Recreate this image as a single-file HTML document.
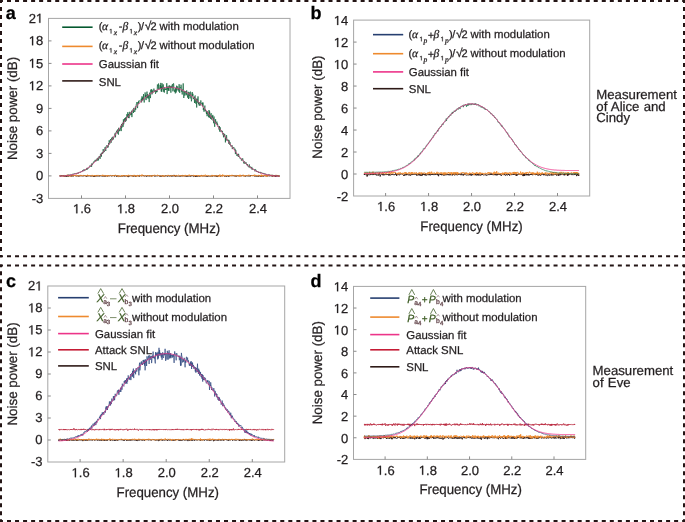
<!DOCTYPE html><html><head><meta charset="utf-8"><style>html,body{margin:0;padding:0;background:#fff;width:685px;height:522px;overflow:hidden}svg{display:block;will-change:transform;filter:blur(0.35px)}text{text-rendering:geometricPrecision}</style></head><body><svg width="685" height="522" viewBox="0 0 685 522">
<rect width="685" height="522" fill="#fff"/>
<line x1="0" y1="1" x2="685" y2="1" stroke="#231414" stroke-width="2" stroke-dasharray="4 4.0375" stroke-dashoffset="-7"/>
<line x1="0" y1="256.3" x2="685" y2="256.3" stroke="#231414" stroke-width="2" stroke-dasharray="4 4.0375" stroke-dashoffset="-7"/>
<line x1="1" y1="1" x2="1" y2="256.3" stroke="#231414" stroke-width="2" stroke-dasharray="4 4" stroke-dashoffset="-6"/>
<line x1="684" y1="1" x2="684" y2="256.3" stroke="#231414" stroke-width="2" stroke-dasharray="4 4" stroke-dashoffset="-6"/>
<rect x="0" y="0" width="2" height="2" fill="#231414"/>
<rect x="683" y="0" width="2" height="2" fill="#231414"/>
<rect x="0" y="255.3" width="2" height="2" fill="#231414"/>
<rect x="683" y="255.3" width="2" height="2" fill="#231414"/>
<line x1="0" y1="265.5" x2="685" y2="265.5" stroke="#231414" stroke-width="2" stroke-dasharray="4 4.0375" stroke-dashoffset="-7"/>
<line x1="0" y1="521" x2="685" y2="521" stroke="#231414" stroke-width="2" stroke-dasharray="4 4.0375" stroke-dashoffset="-7"/>
<line x1="1" y1="265.5" x2="1" y2="521" stroke="#231414" stroke-width="2" stroke-dasharray="4 4" stroke-dashoffset="-5.7"/>
<line x1="684" y1="265.5" x2="684" y2="521" stroke="#231414" stroke-width="2" stroke-dasharray="4 4" stroke-dashoffset="-5.7"/>
<rect x="0" y="264.5" width="2" height="2" fill="#231414"/>
<rect x="683" y="264.5" width="2" height="2" fill="#231414"/>
<rect x="0" y="520" width="2" height="2" fill="#231414"/>
<rect x="683" y="520" width="2" height="2" fill="#231414"/>
<rect x="48.5" y="18.4" width="241.5" height="180" fill="none" stroke="#a6a6a6" stroke-width="1"/>
<text x="43.2" y="202.8" text-anchor="end" style="font-family:'Liberation Sans',sans-serif;font-style:normal;font-weight:normal;font-size:13px;fill:#231f20;stroke:#231f20;stroke-width:0.25px" >-3</text>
<line x1="48.5" y1="175.9" x2="51.5" y2="175.9" stroke="#8a8a8a" stroke-width="1"/>
<text x="43.2" y="180.3" text-anchor="end" style="font-family:'Liberation Sans',sans-serif;font-style:normal;font-weight:normal;font-size:13px;fill:#231f20;stroke:#231f20;stroke-width:0.25px" >0</text>
<line x1="48.5" y1="153.4" x2="51.5" y2="153.4" stroke="#8a8a8a" stroke-width="1"/>
<text x="43.2" y="157.8" text-anchor="end" style="font-family:'Liberation Sans',sans-serif;font-style:normal;font-weight:normal;font-size:13px;fill:#231f20;stroke:#231f20;stroke-width:0.25px" >3</text>
<line x1="48.5" y1="130.9" x2="51.5" y2="130.9" stroke="#8a8a8a" stroke-width="1"/>
<text x="43.2" y="135.3" text-anchor="end" style="font-family:'Liberation Sans',sans-serif;font-style:normal;font-weight:normal;font-size:13px;fill:#231f20;stroke:#231f20;stroke-width:0.25px" >6</text>
<line x1="48.5" y1="108.4" x2="51.5" y2="108.4" stroke="#8a8a8a" stroke-width="1"/>
<text x="43.2" y="112.8" text-anchor="end" style="font-family:'Liberation Sans',sans-serif;font-style:normal;font-weight:normal;font-size:13px;fill:#231f20;stroke:#231f20;stroke-width:0.25px" >9</text>
<line x1="48.5" y1="85.9" x2="51.5" y2="85.9" stroke="#8a8a8a" stroke-width="1"/>
<path d="M515 0L696 0L696 1409L530 1409Q420 1260 197 1180L197 1010Q400 1080 515 1237Z" transform="translate(28.74,90.3) scale(0.00635,-0.00635)" fill="#231f20" stroke="#231f20" stroke-width="0.25" vector-effect="non-scaling-stroke"/>
<text x="35.97" y="90.3" style="font-family:'Liberation Sans',sans-serif;font-style:normal;font-weight:normal;font-size:13px;fill:#231f20;stroke:#231f20;stroke-width:0.25px" >2</text>
<line x1="48.5" y1="63.4" x2="51.5" y2="63.4" stroke="#8a8a8a" stroke-width="1"/>
<path d="M515 0L696 0L696 1409L530 1409Q420 1260 197 1180L197 1010Q400 1080 515 1237Z" transform="translate(28.74,67.8) scale(0.00635,-0.00635)" fill="#231f20" stroke="#231f20" stroke-width="0.25" vector-effect="non-scaling-stroke"/>
<text x="35.97" y="67.8" style="font-family:'Liberation Sans',sans-serif;font-style:normal;font-weight:normal;font-size:13px;fill:#231f20;stroke:#231f20;stroke-width:0.25px" >5</text>
<line x1="48.5" y1="40.9" x2="51.5" y2="40.9" stroke="#8a8a8a" stroke-width="1"/>
<path d="M515 0L696 0L696 1409L530 1409Q420 1260 197 1180L197 1010Q400 1080 515 1237Z" transform="translate(28.74,45.3) scale(0.00635,-0.00635)" fill="#231f20" stroke="#231f20" stroke-width="0.25" vector-effect="non-scaling-stroke"/>
<text x="35.97" y="45.3" style="font-family:'Liberation Sans',sans-serif;font-style:normal;font-weight:normal;font-size:13px;fill:#231f20;stroke:#231f20;stroke-width:0.25px" >8</text>
<text x="28.74" y="22.8" style="font-family:'Liberation Sans',sans-serif;font-style:normal;font-weight:normal;font-size:13px;fill:#231f20;stroke:#231f20;stroke-width:0.25px" >2</text>
<path d="M515 0L696 0L696 1409L530 1409Q420 1260 197 1180L197 1010Q400 1080 515 1237Z" transform="translate(35.97,22.8) scale(0.00635,-0.00635)" fill="#231f20" stroke="#231f20" stroke-width="0.25" vector-effect="non-scaling-stroke"/>
<line x1="81.5" y1="198.4" x2="81.5" y2="195.4" stroke="#8a8a8a" stroke-width="1"/>
<path d="M515 0L696 0L696 1409L530 1409Q420 1260 197 1180L197 1010Q400 1080 515 1237Z" transform="translate(72.96,213.3) scale(0.00635,-0.00635)" fill="#231f20" stroke="#231f20" stroke-width="0.25" vector-effect="non-scaling-stroke"/>
<text x="80.19" y="213.3" style="font-family:'Liberation Sans',sans-serif;font-style:normal;font-weight:normal;font-size:13px;fill:#231f20;stroke:#231f20;stroke-width:0.25px" >.6</text>
<line x1="125.5" y1="198.4" x2="125.5" y2="195.4" stroke="#8a8a8a" stroke-width="1"/>
<path d="M515 0L696 0L696 1409L530 1409Q420 1260 197 1180L197 1010Q400 1080 515 1237Z" transform="translate(116.96,213.3) scale(0.00635,-0.00635)" fill="#231f20" stroke="#231f20" stroke-width="0.25" vector-effect="non-scaling-stroke"/>
<text x="124.19" y="213.3" style="font-family:'Liberation Sans',sans-serif;font-style:normal;font-weight:normal;font-size:13px;fill:#231f20;stroke:#231f20;stroke-width:0.25px" >.8</text>
<line x1="169.5" y1="198.4" x2="169.5" y2="195.4" stroke="#8a8a8a" stroke-width="1"/>
<text x="170" y="213.3" text-anchor="middle" style="font-family:'Liberation Sans',sans-serif;font-style:normal;font-weight:normal;font-size:13px;fill:#231f20;stroke:#231f20;stroke-width:0.25px" >2.0</text>
<line x1="213.5" y1="198.4" x2="213.5" y2="195.4" stroke="#8a8a8a" stroke-width="1"/>
<text x="214" y="213.3" text-anchor="middle" style="font-family:'Liberation Sans',sans-serif;font-style:normal;font-weight:normal;font-size:13px;fill:#231f20;stroke:#231f20;stroke-width:0.25px" >2.2</text>
<line x1="257.5" y1="198.4" x2="257.5" y2="195.4" stroke="#8a8a8a" stroke-width="1"/>
<text x="258" y="213.3" text-anchor="middle" style="font-family:'Liberation Sans',sans-serif;font-style:normal;font-weight:normal;font-size:13px;fill:#231f20;stroke:#231f20;stroke-width:0.25px" >2.4</text>
<text x="169" y="232.5" text-anchor="middle" style="font-family:'Liberation Sans',sans-serif;font-style:normal;font-weight:normal;font-size:13.9px;fill:#231f20;stroke:#231f20;stroke-width:0.25px" textLength="102.4" lengthAdjust="spacingAndGlyphs">Frequency (MHz)</text>
<text transform="translate(16.7,108.45) rotate(-90)" text-anchor="middle" textLength="103.2" lengthAdjust="spacingAndGlyphs" style="font-family:'Liberation Sans',sans-serif;font-size:13.6px;fill:#231f20;stroke:#231f20;stroke-width:0.25px">Noise power (dB)</text>
<text x="5.82" y="19.3" style="font-family:'Liberation Sans',sans-serif;font-style:normal;font-weight:bold;font-size:18px;fill:#000;stroke:#000;stroke-width:0.25px" >a</text>
<polyline points="59.5,175.9 59.8,175.8 60.1,176.0 60.3,176.2 60.6,176.1 60.9,176.3 61.2,175.9 61.4,175.4 61.7,176.1 62,176.1 62.3,175.7 62.5,175.8 62.8,175.9 63.1,176.2 63.4,175.9 63.6,175.6 63.9,176.4 64.2,176.1 64.5,176.6 64.7,176.4 65,176.6 65.3,176.0 65.6,176.4 65.8,175.8 66.1,175.8 66.4,176.0 66.7,176.8 66.9,176.1 67.2,175.9 67.5,175.9 67.8,176.5 68,176.1 68.3,176.3 68.6,176.2 68.9,175.5 69.1,176.2 69.4,175.9 69.7,175.6 70,176.1 70.2,175.9 70.5,175.9 70.8,175.9 71.1,176.4 71.3,175.9 71.6,175.4 71.9,176.5 72.2,175.6 72.4,175.9 72.7,176.1 73,175.1 73.3,175.6 73.5,176.3 73.8,175.9 74.1,175.7 74.4,176.0 74.6,175.6 74.9,175.9 75.2,175.6 75.5,175.4 75.7,176.2 76,175.8 76.3,176.1 76.6,175.9 76.8,176.3 77.1,176.1 77.4,176.0 77.7,175.6 77.9,175.5 78.2,176.4 78.5,176.2 78.8,175.7 79,176.6 79.3,176.1 79.6,175.9 79.9,175.4 80.2,175.6 80.4,176.0 80.7,176.0 81,176.0 81.3,175.3 81.5,176.1 81.8,176.0 82.1,175.8 82.4,175.9 82.6,176.0 82.9,176.3 83.2,175.9 83.5,176.1 83.7,175.5 84,175.7 84.3,175.9 84.6,175.6 84.8,176.0 85.1,175.5 85.4,175.9 85.7,175.7 85.9,176.4 86.2,175.8 86.5,176.5 86.8,176.7 87,176.0 87.3,176.2 87.6,175.8 87.9,175.1 88.1,176.2 88.4,176.1 88.7,175.8 89,175.7 89.2,176.0 89.5,176.0 89.8,175.6 90.1,175.7 90.3,176.3 90.6,175.9 90.9,175.9 91.2,176.3 91.4,175.8 91.7,176.2 92,175.5 92.3,175.8 92.5,175.9 92.8,176.1 93.1,175.9 93.4,176.6 93.6,176.3 93.9,175.8 94.2,176.7 94.5,175.6 94.7,176.6 95,175.6 95.3,176.2 95.6,175.6 95.8,175.9 96.1,176.5 96.4,175.4 96.7,175.4 96.9,175.9 97.2,176.0 97.5,176.0 97.8,176.3 98,175.5 98.3,176.1 98.6,175.9 98.9,176.2 99.1,176.1 99.4,176.4 99.7,175.4 100,176.0 100.3,175.5 100.5,175.9 100.8,176.2 101.1,176.0 101.4,176.1 101.6,175.9 101.9,176.0 102.2,176.0 102.5,176.4 102.7,176.2 103,175.3 103.3,176.2 103.6,176.3 103.8,175.8 104.1,175.4 104.4,176.4 104.7,176.0 104.9,176.1 105.2,176.6 105.5,175.6 105.8,175.9 106,175.9 106.3,176.2 106.6,175.7 106.9,176.1 107.1,176.0 107.4,176.3 107.7,176.4 108,175.4 108.2,176.1 108.5,175.8 108.8,175.9 109.1,176.1 109.3,176.1 109.6,175.7 109.9,176.0 110.2,176.0 110.4,175.9 110.7,175.5 111,175.6 111.3,175.8 111.5,176.1 111.8,176.4 112.1,175.5 112.4,175.5 112.6,176.0 112.9,175.7 113.2,175.6 113.5,175.6 113.7,175.6 114,176.1 114.3,175.3 114.6,176.4 114.8,175.6 115.1,175.7 115.4,175.6 115.7,175.2 115.9,175.3 116.2,176.3 116.5,176.5 116.8,175.6 117,176.3 117.3,175.9 117.6,175.6 117.9,176.5 118.1,176.7 118.4,175.8 118.7,175.9 119,176.0 119.2,175.9 119.5,176.2 119.8,176.5 120.1,176.0 120.4,176.3 120.6,176.5 120.9,175.7 121.2,175.9 121.5,175.7 121.7,176.3 122,176.1 122.3,176.3 122.6,176.2 122.8,175.8 123.1,176.2 123.4,175.8 123.7,175.8 123.9,175.1 124.2,176.4 124.5,175.6 124.8,175.9 125,175.9 125.3,176.4 125.6,176.1 125.9,175.6 126.1,175.9 126.4,175.9 126.7,176.0 127,175.5 127.2,175.9 127.5,176.7 127.8,176.2 128.1,176.6 128.3,177.1 128.6,176.1 128.9,175.4 129.2,175.9 129.4,176.3 129.7,176.3 130,175.5 130.3,175.8 130.5,175.9 130.8,175.9 131.1,175.9 131.4,175.6 131.6,175.7 131.9,175.8 132.2,176.3 132.5,175.7 132.7,176.2 133,175.5 133.3,176.4 133.6,176.0 133.8,175.9 134.1,176.4 134.4,175.3 134.7,175.4 134.9,176.1 135.2,175.6 135.5,175.8 135.8,176.9 136,175.8 136.3,175.9 136.6,175.9 136.9,176.3 137.1,176.0 137.4,176.0 137.7,175.5 138,175.8 138.2,175.9 138.5,175.3 138.8,176.1 139.1,176.0 139.3,176.6 139.6,175.3 139.9,175.5 140.2,175.6 140.5,175.6 140.7,175.9 141,175.8 141.3,176.0 141.6,176.0 141.8,175.9 142.1,175.3 142.4,175.7 142.7,175.9 142.9,176.1 143.2,176.1 143.5,175.3 143.8,175.7 144,175.9 144.3,176.0 144.6,176.3 144.9,175.9 145.1,175.6 145.4,176.0 145.7,176.0 146,176.0 146.2,175.9 146.5,176.5 146.8,176.0 147.1,176.2 147.3,175.6 147.6,176.2 147.9,175.7 148.2,175.3 148.4,176.0 148.7,176.1 149,175.8 149.3,175.9 149.5,176.3 149.8,175.7 150.1,175.1 150.4,176.0 150.6,176.0 150.9,176.3 151.2,175.8 151.5,176.4 151.7,176.3 152,175.4 152.3,176.2 152.6,175.5 152.8,175.3 153.1,175.8 153.4,175.7 153.7,175.2 153.9,176.0 154.2,176.1 154.5,176.4 154.8,175.9 155,175.3 155.3,175.5 155.6,176.3 155.9,176.2 156.1,176.1 156.4,175.8 156.7,176.0 157,175.8 157.2,175.8 157.5,176.0 157.8,175.9 158.1,175.8 158.3,175.9 158.6,175.7 158.9,175.2 159.2,175.7 159.4,175.9 159.7,176.5 160,175.8 160.3,176.6 160.6,176.4 160.8,175.6 161.1,175.6 161.4,176.0 161.7,176.5 161.9,176.0 162.2,176.2 162.5,175.7 162.8,175.1 163,175.8 163.3,176.2 163.6,176.3 163.9,175.9 164.1,176.0 164.4,176.3 164.7,175.9 165,176.3 165.2,175.5 165.5,175.5 165.8,175.5 166.1,176.1 166.3,175.7 166.6,175.9 166.9,176.0 167.2,176.0 167.4,176.4 167.7,176.4 168,175.6 168.3,176.0 168.5,175.8 168.8,175.5 169.1,176.5 169.4,176.2 169.6,175.8 169.9,175.8 170.2,176.0 170.5,175.5 170.7,175.8 171,176.4 171.3,176.2 171.6,175.6 171.8,175.7 172.1,176.6 172.4,175.4 172.7,175.7 172.9,175.4 173.2,176.0 173.5,176.0 173.8,176.3 174,174.9 174.3,176.0 174.6,175.3 174.9,176.1 175.1,175.8 175.4,176.5 175.7,176.0 176,175.5 176.2,176.4 176.5,175.5 176.8,175.8 177.1,176.3 177.3,176.1 177.6,176.1 177.9,175.9 178.2,176.1 178.4,176.2 178.7,176.0 179,176.3 179.3,176.4 179.6,175.9 179.8,175.6 180.1,176.5 180.4,175.9 180.7,176.1 180.9,176.3 181.2,175.6 181.5,176.1 181.8,175.3 182,176.2 182.3,175.8 182.6,176.0 182.9,176.2 183.1,175.7 183.4,176.0 183.7,175.7 184,175.9 184.2,176.3 184.5,175.9 184.8,175.9 185.1,175.5 185.3,176.2 185.6,175.9 185.9,176.5 186.2,175.7 186.4,176.3 186.7,176.6 187,175.9 187.3,175.5 187.5,176.5 187.8,176.3 188.1,176.2 188.4,176.3 188.6,175.8 188.9,176.2 189.2,176.2 189.5,175.7 189.7,176.2 190,175.7 190.3,176.3 190.6,176.4 190.8,176.6 191.1,175.2 191.4,176.0 191.7,175.8 191.9,175.9 192.2,175.8 192.5,175.9 192.8,175.2 193,176.3 193.3,176.5 193.6,176.3 193.9,176.4 194.1,175.6 194.4,175.6 194.7,176.3 195,176.4 195.2,176.0 195.5,175.4 195.8,177.0 196.1,175.7 196.3,176.3 196.6,175.5 196.9,176.3 197.2,176.0 197.4,176.5 197.7,176.3 198,175.4 198.3,175.6 198.5,176.1 198.8,176.2 199.1,176.6 199.4,176.0 199.7,175.9 199.9,175.9 200.2,175.9 200.5,176.3 200.8,175.9 201,175.9 201.3,175.4 201.6,175.2 201.9,176.0 202.1,176.2 202.4,175.9 202.7,176.1 203,176.2 203.2,175.9 203.5,176.3 203.8,175.7 204.1,175.9 204.3,175.8 204.6,176.0 204.9,176.2 205.2,176.3 205.4,176.0 205.7,176.1 206,175.8 206.3,175.9 206.5,176.4 206.8,175.9 207.1,176.4 207.4,176.1 207.6,176.0 207.9,176.7 208.2,175.9 208.5,175.8 208.7,176.0 209,176.1 209.3,176.0 209.6,176.3 209.8,176.0 210.1,176.1 210.4,175.9 210.7,176.4 210.9,175.8 211.2,175.8 211.5,176.0 211.8,176.1 212,175.7 212.3,176.5 212.6,175.7 212.9,175.8 213.1,175.8 213.4,175.8 213.7,176.1 214,176.0 214.2,175.7 214.5,175.7 214.8,175.8 215.1,176.5 215.3,175.7 215.6,175.5 215.9,175.5 216.2,175.8 216.4,176.5 216.7,175.5 217,176.0 217.3,176.8 217.5,175.8 217.8,176.5 218.1,176.4 218.4,176.1 218.6,175.4 218.9,176.0 219.2,175.8 219.5,175.2 219.8,175.3 220,175.9 220.3,176.0 220.6,176.4 220.9,176.2 221.1,175.7 221.4,175.8 221.7,175.9 222,175.5 222.2,176.2 222.5,175.9 222.8,175.6 223.1,175.7 223.3,175.5 223.6,175.8 223.9,176.0 224.2,175.8 224.4,176.3 224.7,176.5 225,175.7 225.3,175.9 225.5,175.8 225.8,176.5 226.1,176.0 226.4,176.1 226.6,176.2 226.9,176.7 227.2,176.0 227.5,175.6 227.7,175.8 228,176.1 228.3,175.9 228.6,175.6 228.8,176.9 229.1,175.9 229.4,175.7 229.7,175.6 229.9,175.3 230.2,175.5 230.5,175.8 230.8,175.8 231,175.6 231.3,176.1 231.6,175.9 231.9,175.6 232.1,175.2 232.4,176.0 232.7,175.9 233,175.8 233.2,175.4 233.5,175.9 233.8,175.3 234.1,176.3 234.3,176.0 234.6,176.0 234.9,175.6 235.2,175.5 235.4,176.5 235.7,176.2 236,175.8 236.3,176.1 236.5,176.5 236.8,175.5 237.1,175.7 237.4,175.7 237.6,176.1 237.9,175.5 238.2,176.0 238.5,175.5 238.7,176.2 239,176.2 239.3,175.8 239.6,176.2 239.9,175.6 240.1,175.8 240.4,176.2 240.7,175.9 241,176.0 241.2,175.6 241.5,176.1 241.8,176.1 242.1,175.4 242.3,175.1 242.6,175.2 242.9,175.9 243.2,175.8 243.4,175.3 243.7,175.9 244,176.3 244.3,175.9 244.5,175.7 244.8,176.2 245.1,176.5 245.4,176.4 245.6,175.7 245.9,176.2 246.2,176.0 246.5,175.8 246.7,175.7 247,176.0 247.3,175.7 247.6,176.2 247.8,176.0 248.1,176.3 248.4,175.5 248.7,175.9 248.9,176.2 249.2,176.0 249.5,176.0 249.8,175.6 250,176.5 250.3,176.3 250.6,176.0 250.9,175.0 251.1,175.5 251.4,175.9 251.7,175.6 252,175.1 252.2,176.0 252.5,176.0 252.8,175.4 253.1,175.7 253.3,175.6 253.6,176.1 253.9,175.2 254.2,175.3 254.4,175.7 254.7,175.6 255,176.7 255.3,175.7 255.5,176.0 255.8,175.7 256.1,175.6 256.4,176.0 256.6,176.5 256.9,175.8 257.2,176.2 257.5,176.0 257.7,176.1 258,176.0 258.3,176.8 258.6,175.4 258.8,175.8 259.1,175.5 259.4,175.2 259.7,175.9 260,176.6 260.2,176.2 260.5,176.4 260.8,176.1 261.1,175.9 261.3,176.7 261.6,175.8 261.9,176.5 262.2,175.8 262.4,175.9 262.7,176.0 263,175.9 263.3,176.1 263.5,176.1 263.8,176.5 264.1,175.9 264.4,175.2 264.6,175.2 264.9,175.4 265.2,175.6 265.5,176.2 265.7,175.4 266,175.9 266.3,175.9 266.6,176.0 266.8,175.9 267.1,176.1 267.4,175.9 267.7,176.3 267.9,176.0 268.2,175.0 268.5,175.9 268.8,176.0 269,175.7 269.3,175.6 269.6,176.3 269.9,176.0 270.1,175.6 270.4,175.8 270.7,175.9 271,175.3 271.2,176.2 271.5,175.9 271.8,176.1 272.1,175.3 272.3,176.6 272.6,176.2 272.9,176.1 273.2,175.7 273.4,175.7 273.7,175.4 274,176.5 274.3,175.6 274.5,176.0 274.8,176.1 275.1,175.7 275.4,176.2 275.6,176.7 275.9,176.0 276.2,176.5 276.5,176.1 276.7,175.8 277,175.8 277.3,175.3 277.6,176.0 277.8,176.5 278.1,176.2 278.4,176.2 278.7,176.4 278.9,175.7 279.2,176.1 279.5,176.6" fill="none" stroke="#2e1a17" stroke-width="0.9" stroke-linejoin="round" opacity="1.0"/>
<polyline points="59.5,175.4 59.8,175.7 60.1,175.5 60.3,175.6 60.6,175.4 60.9,175.7 61.2,175.2 61.4,175.5 61.7,175.5 62,175.5 62.3,176.2 62.5,175.7 62.8,175.8 63.1,175.6 63.4,176.2 63.6,175.1 63.9,175.6 64.2,176.1 64.5,176.3 64.7,175.8 65,175.7 65.3,175.9 65.6,175.6 65.8,175.9 66.1,175.5 66.4,175.9 66.7,175.7 66.9,175.3 67.2,174.7 67.5,176.1 67.8,175.8 68,176.0 68.3,175.4 68.6,176.1 68.9,175.9 69.1,175.7 69.4,176.0 69.7,176.0 70,175.9 70.2,176.5 70.5,176.2 70.8,175.8 71.1,175.6 71.3,175.7 71.6,176.3 71.9,175.8 72.2,175.4 72.4,175.5 72.7,175.7 73,176.0 73.3,175.4 73.5,175.9 73.8,176.1 74.1,176.0 74.4,175.1 74.6,175.6 74.9,175.2 75.2,175.9 75.5,175.3 75.7,175.9 76,175.7 76.3,174.7 76.6,175.4 76.8,175.9 77.1,175.7 77.4,175.6 77.7,175.2 77.9,175.9 78.2,176.3 78.5,175.8 78.8,175.7 79,175.6 79.3,175.2 79.6,175.6 79.9,175.4 80.2,176.1 80.4,175.3 80.7,174.9 81,175.4 81.3,175.6 81.5,175.6 81.8,175.0 82.1,176.0 82.4,175.7 82.6,175.5 82.9,175.4 83.2,175.8 83.5,175.6 83.7,175.8 84,175.6 84.3,175.7 84.6,176.1 84.8,175.7 85.1,175.3 85.4,176.0 85.7,175.8 85.9,175.4 86.2,176.1 86.5,175.6 86.8,176.1 87,175.2 87.3,174.8 87.6,174.9 87.9,175.8 88.1,175.4 88.4,175.6 88.7,175.6 89,175.1 89.2,176.2 89.5,175.3 89.8,175.7 90.1,175.1 90.3,175.6 90.6,175.9 90.9,175.6 91.2,175.4 91.4,175.7 91.7,175.5 92,175.9 92.3,176.5 92.5,175.3 92.8,175.4 93.1,175.6 93.4,175.6 93.6,175.3 93.9,175.8 94.2,175.9 94.5,175.7 94.7,175.2 95,176.2 95.3,175.2 95.6,175.9 95.8,176.1 96.1,175.2 96.4,175.7 96.7,176.2 96.9,175.8 97.2,175.3 97.5,175.2 97.8,175.8 98,175.5 98.3,175.4 98.6,175.9 98.9,175.5 99.1,175.7 99.4,175.9 99.7,175.9 100,175.6 100.3,175.7 100.5,175.9 100.8,175.8 101.1,175.3 101.4,175.6 101.6,175.3 101.9,175.2 102.2,175.5 102.5,174.8 102.7,176.0 103,175.4 103.3,175.8 103.6,175.0 103.8,175.0 104.1,176.4 104.4,176.0 104.7,175.4 104.9,175.4 105.2,175.4 105.5,175.7 105.8,175.5 106,175.4 106.3,175.7 106.6,175.3 106.9,176.5 107.1,175.4 107.4,176.1 107.7,175.3 108,175.8 108.2,176.0 108.5,175.5 108.8,176.0 109.1,176.0 109.3,176.3 109.6,175.7 109.9,175.5 110.2,175.3 110.4,175.7 110.7,175.3 111,175.7 111.3,175.7 111.5,175.5 111.8,175.3 112.1,175.8 112.4,175.8 112.6,175.7 112.9,175.6 113.2,176.0 113.5,175.3 113.7,175.8 114,175.5 114.3,176.0 114.6,175.5 114.8,175.5 115.1,175.8 115.4,174.9 115.7,175.5 115.9,175.0 116.2,175.3 116.5,175.9 116.8,175.8 117,175.5 117.3,175.7 117.6,175.7 117.9,175.8 118.1,176.4 118.4,175.8 118.7,176.5 119,175.5 119.2,175.9 119.5,175.9 119.8,175.8 120.1,175.6 120.4,176.2 120.6,176.3 120.9,176.1 121.2,176.4 121.5,176.0 121.7,175.1 122,176.1 122.3,175.4 122.6,176.2 122.8,175.6 123.1,175.8 123.4,175.7 123.7,175.5 123.9,175.0 124.2,175.6 124.5,175.6 124.8,176.0 125,175.5 125.3,175.8 125.6,175.4 125.9,175.7 126.1,175.0 126.4,176.4 126.7,175.8 127,175.3 127.2,175.8 127.5,176.0 127.8,175.8 128.1,176.2 128.3,175.6 128.6,174.8 128.9,175.2 129.2,176.1 129.4,176.0 129.7,175.8 130,175.3 130.3,176.0 130.5,175.9 130.8,175.3 131.1,175.4 131.4,175.8 131.6,176.1 131.9,176.3 132.2,175.9 132.5,176.5 132.7,175.4 133,175.9 133.3,175.5 133.6,175.0 133.8,175.2 134.1,176.1 134.4,175.3 134.7,175.2 134.9,176.0 135.2,176.0 135.5,175.7 135.8,176.3 136,175.1 136.3,176.6 136.6,176.1 136.9,175.8 137.1,175.8 137.4,175.6 137.7,175.6 138,175.8 138.2,175.2 138.5,176.5 138.8,175.7 139.1,175.9 139.3,175.6 139.6,175.6 139.9,176.0 140.2,175.9 140.5,175.4 140.7,175.5 141,175.9 141.3,174.9 141.6,174.8 141.8,176.2 142.1,175.6 142.4,174.7 142.7,175.4 142.9,175.6 143.2,175.8 143.5,175.9 143.8,175.8 144,175.9 144.3,175.4 144.6,175.8 144.9,175.8 145.1,176.1 145.4,175.7 145.7,176.0 146,175.7 146.2,175.3 146.5,175.5 146.8,175.5 147.1,175.5 147.3,175.7 147.6,175.7 147.9,175.8 148.2,175.4 148.4,176.1 148.7,175.2 149,175.7 149.3,176.0 149.5,175.9 149.8,175.9 150.1,175.6 150.4,175.9 150.6,175.2 150.9,176.0 151.2,176.5 151.5,175.9 151.7,176.4 152,175.7 152.3,175.3 152.6,175.4 152.8,176.2 153.1,176.0 153.4,175.0 153.7,175.6 153.9,175.7 154.2,175.3 154.5,174.8 154.8,175.2 155,175.6 155.3,175.5 155.6,175.4 155.9,175.9 156.1,176.1 156.4,175.7 156.7,176.0 157,175.7 157.2,175.6 157.5,174.8 157.8,176.0 158.1,175.7 158.3,175.7 158.6,175.5 158.9,175.3 159.2,175.9 159.4,176.0 159.7,176.3 160,176.0 160.3,175.5 160.6,175.7 160.8,176.1 161.1,175.8 161.4,175.7 161.7,175.5 161.9,175.9 162.2,175.8 162.5,176.4 162.8,176.1 163,175.1 163.3,176.5 163.6,175.8 163.9,175.6 164.1,175.8 164.4,176.0 164.7,175.7 165,175.7 165.2,175.7 165.5,176.4 165.8,175.7 166.1,176.0 166.3,175.9 166.6,175.6 166.9,175.4 167.2,175.3 167.4,175.9 167.7,175.3 168,175.2 168.3,175.2 168.5,175.2 168.8,175.7 169.1,175.7 169.4,175.4 169.6,176.2 169.9,175.6 170.2,175.9 170.5,175.8 170.7,176.3 171,176.0 171.3,175.7 171.6,175.3 171.8,175.3 172.1,175.7 172.4,175.7 172.7,176.0 172.9,175.5 173.2,175.8 173.5,175.4 173.8,175.0 174,175.7 174.3,176.2 174.6,176.0 174.9,176.2 175.1,176.1 175.4,175.2 175.7,175.6 176,176.2 176.2,175.4 176.5,175.2 176.8,175.8 177.1,175.9 177.3,175.8 177.6,175.6 177.9,175.4 178.2,175.2 178.4,175.2 178.7,175.2 179,175.2 179.3,175.4 179.6,176.2 179.8,175.7 180.1,175.6 180.4,175.8 180.7,175.3 180.9,175.8 181.2,176.0 181.5,175.1 181.8,175.4 182,175.6 182.3,175.3 182.6,175.3 182.9,175.5 183.1,176.6 183.4,175.9 183.7,175.8 184,176.0 184.2,175.6 184.5,175.2 184.8,175.9 185.1,176.1 185.3,174.9 185.6,175.8 185.9,176.1 186.2,175.6 186.4,175.5 186.7,175.9 187,175.4 187.3,175.9 187.5,176.0 187.8,175.6 188.1,175.4 188.4,175.9 188.6,175.6 188.9,175.7 189.2,174.6 189.5,175.9 189.7,175.2 190,175.7 190.3,175.7 190.6,175.4 190.8,175.3 191.1,175.2 191.4,175.6 191.7,175.9 191.9,175.9 192.2,175.5 192.5,175.5 192.8,175.2 193,175.5 193.3,175.3 193.6,175.1 193.9,175.6 194.1,176.2 194.4,176.1 194.7,176.2 195,175.1 195.2,176.0 195.5,175.2 195.8,175.5 196.1,175.0 196.3,175.3 196.6,175.7 196.9,175.8 197.2,175.6 197.4,175.6 197.7,175.9 198,175.7 198.3,175.1 198.5,176.3 198.8,175.6 199.1,176.0 199.4,175.6 199.7,175.4 199.9,175.7 200.2,175.4 200.5,176.3 200.8,175.3 201,175.9 201.3,175.4 201.6,175.6 201.9,176.6 202.1,176.0 202.4,175.6 202.7,175.1 203,175.6 203.2,175.6 203.5,176.2 203.8,175.1 204.1,175.0 204.3,175.7 204.6,175.8 204.9,176.3 205.2,175.3 205.4,174.7 205.7,175.4 206,175.2 206.3,175.5 206.5,176.0 206.8,175.2 207.1,176.1 207.4,175.8 207.6,175.6 207.9,175.3 208.2,175.5 208.5,175.5 208.7,176.0 209,176.2 209.3,175.7 209.6,175.9 209.8,176.2 210.1,176.1 210.4,175.9 210.7,176.4 210.9,176.2 211.2,176.3 211.5,175.6 211.8,175.5 212,174.9 212.3,176.2 212.6,175.9 212.9,175.3 213.1,175.8 213.4,175.8 213.7,175.0 214,175.8 214.2,176.1 214.5,176.2 214.8,175.5 215.1,175.6 215.3,176.2 215.6,176.0 215.9,175.5 216.2,175.5 216.4,175.9 216.7,175.4 217,175.5 217.3,176.3 217.5,175.8 217.8,175.5 218.1,175.9 218.4,176.5 218.6,175.8 218.9,175.4 219.2,175.1 219.5,176.5 219.8,174.7 220,176.1 220.3,175.3 220.6,175.2 220.9,175.3 221.1,175.6 221.4,176.1 221.7,175.4 222,175.9 222.2,176.6 222.5,174.6 222.8,175.4 223.1,175.0 223.3,176.0 223.6,175.1 223.9,175.1 224.2,175.1 224.4,175.7 224.7,176.1 225,175.7 225.3,176.5 225.5,176.3 225.8,175.6 226.1,176.0 226.4,175.7 226.6,175.7 226.9,175.0 227.2,175.2 227.5,175.7 227.7,175.2 228,176.0 228.3,175.8 228.6,175.3 228.8,176.1 229.1,175.8 229.4,176.2 229.7,175.6 229.9,175.1 230.2,176.0 230.5,175.6 230.8,176.0 231,176.1 231.3,176.1 231.6,175.1 231.9,174.8 232.1,175.5 232.4,175.9 232.7,175.4 233,175.8 233.2,175.4 233.5,175.6 233.8,175.6 234.1,175.4 234.3,175.9 234.6,175.8 234.9,176.3 235.2,175.8 235.4,176.2 235.7,175.7 236,176.0 236.3,175.6 236.5,175.5 236.8,176.2 237.1,176.0 237.4,176.0 237.6,175.4 237.9,175.0 238.2,175.4 238.5,175.8 238.7,175.1 239,176.2 239.3,175.1 239.6,175.9 239.9,176.7 240.1,174.7 240.4,175.1 240.7,176.1 241,175.6 241.2,175.8 241.5,175.6 241.8,176.2 242.1,175.9 242.3,175.5 242.6,175.6 242.9,175.2 243.2,175.6 243.4,174.8 243.7,175.9 244,175.6 244.3,176.4 244.5,176.1 244.8,175.2 245.1,176.0 245.4,175.5 245.6,175.7 245.9,176.1 246.2,175.8 246.5,175.9 246.7,175.9 247,175.4 247.3,175.4 247.6,175.9 247.8,176.0 248.1,175.6 248.4,175.7 248.7,175.3 248.9,174.7 249.2,175.4 249.5,175.7 249.8,175.7 250,176.0 250.3,176.0 250.6,176.1 250.9,175.8 251.1,175.8 251.4,175.4 251.7,175.8 252,175.7 252.2,176.1 252.5,175.1 252.8,175.5 253.1,175.0 253.3,175.4 253.6,175.1 253.9,175.8 254.2,175.4 254.4,174.7 254.7,176.1 255,175.2 255.3,175.0 255.5,175.5 255.8,175.4 256.1,175.2 256.4,175.9 256.6,175.5 256.9,176.0 257.2,175.9 257.5,175.9 257.7,175.7 258,175.6 258.3,175.5 258.6,176.2 258.8,174.9 259.1,175.2 259.4,175.4 259.7,175.8 260,175.7 260.2,175.5 260.5,175.5 260.8,176.3 261.1,175.4 261.3,174.6 261.6,176.4 261.9,175.3 262.2,175.5 262.4,175.7 262.7,175.1 263,176.1 263.3,175.6 263.5,175.1 263.8,175.8 264.1,175.8 264.4,175.6 264.6,175.8 264.9,175.1 265.2,176.0 265.5,175.3 265.7,176.2 266,175.4 266.3,175.7 266.6,176.7 266.8,175.7 267.1,176.1 267.4,175.8 267.7,175.1 267.9,176.1 268.2,176.1 268.5,175.1 268.8,175.6 269,175.1 269.3,175.6 269.6,176.0 269.9,175.7 270.1,175.2 270.4,175.3 270.7,175.7 271,175.7 271.2,175.7 271.5,175.9 271.8,174.9 272.1,175.7 272.3,176.1 272.6,175.9 272.9,175.4 273.2,175.4 273.4,175.7 273.7,175.9 274,175.7 274.3,176.3 274.5,176.2 274.8,175.4 275.1,175.9 275.4,175.5 275.6,175.2 275.9,175.4 276.2,175.7 276.5,174.9 276.7,175.4 277,175.8 277.3,175.4 277.6,175.5 277.8,176.0 278.1,175.6 278.4,175.7 278.7,176.4 278.9,175.7 279.2,175.8 279.5,175.8" fill="none" stroke="#ee8a2e" stroke-width="0.9" stroke-linejoin="round" opacity="1.0"/>
<polyline points="59.5,176.1 59.8,175.9 60.1,175.8 60.4,175.8 60.8,176.0 61.1,175.7 61.4,175.9 61.7,175.8 62,175.5 62.3,175.8 62.6,175.7 63,175.5 63.3,175.7 63.6,175.6 63.9,175.5 64.2,175.4 64.5,175.9 64.9,175.6 65.2,175.6 65.5,175.6 65.8,175.5 66.1,175.5 66.4,175.2 66.7,175.5 67.1,175.2 67.4,175.1 67.7,175.3 68,175.1 68.3,174.7 68.6,174.9 68.9,175.1 69.3,174.9 69.6,175.1 69.9,174.8 70.2,174.6 70.5,174.9 70.8,174.7 71.1,174.3 71.5,174.7 71.8,174.4 72.1,174.7 72.4,174.6 72.7,174.4 73,173.7 73.3,174.3 73.7,174.2 74,174.2 74.3,174.0 74.6,173.6 74.9,173.7 75.2,173.1 75.6,173.5 75.9,173.0 76.2,173.3 76.5,173.1 76.8,173.8 77.1,173.1 77.4,173.0 77.8,173.0 78.1,173.7 78.4,172.4 78.7,172.7 79,172.6 79.3,172.4 79.6,172.3 80,171.9 80.3,172.6 80.6,172.3 80.9,171.5 81.2,171.5 81.5,171.6 81.8,171.5 82.2,171.6 82.5,171.0 82.8,170.2 83.1,171.2 83.4,169.7 83.7,169.8 84,170.4 84.4,169.5 84.7,170.7 85,170.7 85.3,170.3 85.6,169.5 85.9,169.2 86.3,169.2 86.6,168.5 86.9,170.0 87.2,167.8 87.5,169.1 87.8,168.3 88.1,167.8 88.5,168.2 88.8,168.2 89.1,167.7 89.4,166.5 89.7,165.8 90,165.6 90.3,166.7 90.7,166.3 91,166.2 91.3,164.6 91.6,166.8 91.9,163.4 92.2,164.7 92.5,164.7 92.9,163.3 93.2,162.4 93.5,162.7 93.8,161.7 94.1,162.2 94.4,161.0 94.8,160.6 95.1,161.5 95.4,159.8 95.7,160.6 96,160.3 96.3,161.2 96.6,160.1 97,158.6 97.3,160.7 97.6,158.1 97.9,158.0 98.2,157.7 98.5,160.4 98.8,157.4 99.2,156.2 99.5,157.5 99.8,156.0 100.1,158.9 100.4,154.6 100.7,155.8 101,153.6 101.4,156.7 101.7,153.0 102,153.7 102.3,152.0 102.6,153.9 102.9,153.0 103.2,149.1 103.6,152.5 103.9,151.9 104.2,150.9 104.5,151.6 104.8,148.2 105.1,147.1 105.5,149.8 105.8,151.0 106.1,146.4 106.4,146.0 106.7,145.9 107,145.1 107.3,147.5 107.7,145.9 108,147.5 108.3,147.1 108.6,143.0 108.9,145.0 109.2,140.3 109.5,142.8 109.9,143.6 110.2,140.9 110.5,139.1 110.8,140.4 111.1,142.8 111.4,139.7 111.7,137.7 112.1,140.2 112.4,140.2 112.7,136.8 113,137.7 113.3,139.5 113.6,137.7 113.9,137.9 114.3,135.6 114.6,135.4 114.9,133.3 115.2,133.5 115.5,137.3 115.8,133.0 116.2,131.8 116.5,132.0 116.8,130.6 117.1,133.0 117.4,133.4 117.7,129.4 118,132.7 118.4,134.6 118.7,127.8 119,130.6 119.3,129.3 119.6,131.2 119.9,130.6 120.2,129.8 120.6,127.6 120.9,125.7 121.2,131.1 121.5,124.1 121.8,127.7 122.1,127.0 122.4,122.8 122.8,123.8 123.1,126.8 123.4,119.3 123.7,124.3 124,121.4 124.3,121.0 124.7,118.3 125,121.7 125.3,118.2 125.6,121.5 125.9,117.1 126.2,120.7 126.5,119.3 126.9,114.2 127.2,116.9 127.5,116.9 127.8,112.2 128.1,115.6 128.4,118.0 128.7,114.0 129.1,118.2 129.4,112.3 129.7,111.8 130,115.4 130.3,115.1 130.6,112.7 130.9,112.6 131.3,114.9 131.6,110.7 131.9,117.1 132.2,112.3 132.5,111.8 132.8,111.1 133.1,109.3 133.5,113.0 133.8,107.9 134.1,109.3 134.4,110.3 134.7,112.0 135,111.1 135.4,106.6 135.7,109.8 136,106.5 136.3,103.9 136.6,103.6 136.9,102.1 137.2,106.2 137.6,108.1 137.9,102.3 138.2,103.6 138.5,101.3 138.8,103.6 139.1,100.5 139.4,101.0 139.8,101.0 140.1,101.1 140.4,101.1 140.7,101.2 141,100.9 141.3,98.7 141.6,102.4 142,96.3 142.3,100.5 142.6,97.5 142.9,99.9 143.2,100.1 143.5,94.1 143.8,99.7 144.2,102.5 144.5,100.5 144.8,99.0 145.1,92.4 145.4,96.9 145.7,94.8 146.1,100.1 146.4,95.8 146.7,94.7 147,91.6 147.3,98.2 147.6,94.1 147.9,94.7 148.3,98.5 148.6,95.0 148.9,95.6 149.2,102.1 149.5,92.8 149.8,92.7 150.1,95.3 150.5,98.1 150.8,89.6 151.1,92.5 151.4,90.4 151.7,89.2 152,94.4 152.3,90.3 152.7,93.1 153,92.3 153.3,92.2 153.6,91.7 153.9,88.6 154.2,91.1 154.6,91.7 154.9,92.0 155.2,90.0 155.5,93.8 155.8,92.3 156.1,90.6 156.4,92.2 156.8,90.5 157.1,92.1 157.4,84.5 157.7,86.2 158,88.4 158.3,89.6 158.6,83.5 159,88.4 159.3,89.4 159.6,88.2 159.9,88.1 160.2,85.0 160.5,88.7 160.8,82.9 161.2,91.5 161.5,86.5 161.8,91.8 162.1,83.3 162.4,89.3 162.7,88.3 163,85.5 163.4,84.5 163.7,91.7 164,89.0 164.3,92.6 164.6,87.3 164.9,88.0 165.3,88.8 165.6,89.9 165.9,88.8 166.2,90.0 166.5,86.0 166.8,83.2 167.1,94.1 167.5,87.7 167.8,88.8 168.1,85.9 168.4,90.6 168.7,87.8 169,90.9 169.3,85.3 169.7,87.0 170,87.8 170.3,86.2 170.6,88.1 170.9,92.7 171.2,85.7 171.5,86.5 171.9,87.9 172.2,84.7 172.5,84.1 172.8,91.3 173.1,90.2 173.4,83.3 173.7,83.7 174.1,90.2 174.4,91.8 174.7,89.9 175,89.5 175.3,93.4 175.6,87.8 176,92.4 176.3,92.3 176.6,85.7 176.9,90.6 177.2,88.6 177.5,86.7 177.8,86.3 178.2,89.7 178.5,88.6 178.8,91.6 179.1,84.2 179.4,87.2 179.7,92.9 180,89.2 180.4,87.4 180.7,88.2 181,84.7 181.3,86.1 181.6,91.7 181.9,90.3 182.2,94.5 182.6,89.6 182.9,90.0 183.2,83.4 183.5,90.5 183.8,98.0 184.1,93.3 184.4,90.9 184.8,95.6 185.1,94.5 185.4,92.9 185.7,91.0 186,92.6 186.3,95.2 186.7,90.4 187,94.4 187.3,94.5 187.6,97.6 187.9,95.8 188.2,91.8 188.5,99.0 188.9,94.1 189.2,92.2 189.5,95.5 189.8,93.9 190.1,98.4 190.4,91.6 190.7,92.4 191.1,94.8 191.4,101.3 191.7,99.3 192,93.7 192.3,92.1 192.6,95.9 192.9,93.8 193.3,99.1 193.6,98.0 193.9,97.7 194.2,96.9 194.5,103.0 194.8,96.2 195.2,95.5 195.5,102.6 195.8,103.6 196.1,98.8 196.4,101.9 196.7,107.5 197,98.6 197.4,100.4 197.7,102.6 198,96.4 198.3,101.4 198.6,104.3 198.9,102.1 199.2,105.8 199.6,105.3 199.9,102.4 200.2,105.3 200.5,105.3 200.8,100.4 201.1,102.6 201.4,103.1 201.8,104.1 202.1,104.5 202.4,102.7 202.7,106.4 203,102.5 203.3,109.8 203.6,108.1 204,111.7 204.3,109.1 204.6,107.3 204.9,105.6 205.2,111.1 205.5,109.6 205.9,111.0 206.2,112.4 206.5,114.0 206.8,111.0 207.1,116.2 207.4,111.6 207.7,112.2 208.1,114.4 208.4,115.8 208.7,117.1 209,110.0 209.3,117.8 209.6,111.4 209.9,113.8 210.3,116.4 210.6,118.9 210.9,114.2 211.2,113.2 211.5,119.5 211.8,118.3 212.1,115.9 212.5,117.7 212.8,114.9 213.1,120.7 213.4,118.6 213.7,123.2 214,116.5 214.3,122.8 214.7,126.8 215,122.2 215.3,122.6 215.6,119.2 215.9,124.0 216.2,123.6 216.6,123.0 216.9,121.6 217.2,125.1 217.5,123.5 217.8,124.9 218.1,127.0 218.4,126.6 218.8,127.2 219.1,129.7 219.4,126.0 219.7,131.6 220,127.1 220.3,127.9 220.6,130.2 221,132.1 221.3,131.4 221.6,130.6 221.9,130.6 222.2,131.8 222.5,131.2 222.8,134.4 223.2,133.3 223.5,137.3 223.8,133.4 224.1,134.8 224.4,136.4 224.7,134.2 225.1,135.4 225.4,142.4 225.7,137.3 226,140.6 226.3,136.8 226.6,135.2 226.9,140.2 227.3,139.6 227.6,140.6 227.9,140.1 228.2,140.2 228.5,139.8 228.8,143.8 229.1,140.3 229.5,144.6 229.8,143.0 230.1,142.3 230.4,143.4 230.7,146.3 231,146.4 231.3,146.4 231.7,146.2 232,145.1 232.3,149.1 232.6,146.8 232.9,147.1 233.2,147.6 233.5,148.2 233.9,147.3 234.2,149.0 234.5,149.0 234.8,149.8 235.1,148.8 235.4,154.1 235.8,150.2 236.1,152.5 236.4,152.9 236.7,154.3 237,156.0 237.3,154.3 237.6,155.1 238,154.0 238.3,156.9 238.6,153.8 238.9,155.4 239.2,156.4 239.5,157.4 239.8,157.9 240.2,158.7 240.5,158.3 240.8,158.0 241.1,158.5 241.4,160.4 241.7,159.4 242,160.5 242.4,159.6 242.7,158.3 243,159.8 243.3,161.1 243.6,163.0 243.9,163.0 244.2,163.7 244.6,161.4 244.9,163.2 245.2,162.6 245.5,163.7 245.8,163.2 246.1,162.4 246.5,164.6 246.8,164.5 247.1,165.3 247.4,164.0 247.7,166.0 248,166.4 248.3,166.9 248.7,167.2 249,165.7 249.3,164.4 249.6,167.4 249.9,166.1 250.2,166.8 250.5,168.2 250.9,167.7 251.2,167.9 251.5,168.5 251.8,166.9 252.1,169.8 252.4,168.3 252.7,168.6 253.1,169.4 253.4,169.1 253.7,168.9 254,169.5 254.3,169.5 254.6,169.6 255,171.4 255.3,169.5 255.6,169.3 255.9,170.1 256.2,170.3 256.5,171.7 256.8,171.1 257.2,171.7 257.5,171.7 257.8,171.1 258.1,172.1 258.4,171.9 258.7,172.9 259,172.1 259.4,172.2 259.7,172.6 260,172.8 260.3,171.9 260.6,173.2 260.9,173.2 261.2,173.2 261.6,172.6 261.9,172.4 262.2,173.1 262.5,173.6 262.8,173.6 263.1,173.2 263.4,173.9 263.8,173.2 264.1,173.3 264.4,173.8 264.7,173.7 265,173.8 265.3,173.7 265.7,174.5 266,173.9 266.3,174.4 266.6,174.6 266.9,174.4 267.2,174.5 267.5,174.8 267.9,175.0 268.2,174.9 268.5,174.4 268.8,174.3 269.1,174.7 269.4,174.6 269.7,175.0 270.1,175.0 270.4,175.0 270.7,175.3 271,175.3 271.3,175.1 271.6,175.2 271.9,175.5 272.3,175.2 272.6,175.3 272.9,175.2 273.2,175.4 273.5,175.5 273.8,175.4 274.1,175.5 274.5,175.6 274.8,175.6 275.1,175.4 275.4,175.5 275.7,175.4 276,175.9 276.4,175.7 276.7,175.7 277,175.7 277.3,175.8 277.6,175.8 277.9,175.7 278.2,175.8 278.6,176.0 278.9,175.7 279.2,175.7 279.5,175.9" fill="none" stroke="#0e6238" stroke-width="0.7" stroke-linejoin="round" opacity="1.0"/>
<polyline points="59.5,176.2 59.8,176.1 60.1,176.1 60.3,176.1 60.6,176.1 60.9,176.1 61.2,176.1 61.4,176.0 61.7,176.0 62,176.0 62.3,176.0 62.5,176.0 62.8,175.9 63.1,175.9 63.4,175.9 63.6,175.9 63.9,175.8 64.2,175.8 64.5,175.8 64.7,175.8 65,175.7 65.3,175.7 65.6,175.7 65.8,175.7 66.1,175.6 66.4,175.6 66.7,175.6 66.9,175.5 67.2,175.5 67.5,175.5 67.8,175.4 68,175.4 68.3,175.4 68.6,175.3 68.9,175.3 69.1,175.2 69.4,175.2 69.7,175.1 70,175.1 70.2,175.1 70.5,175.0 70.8,175.0 71.1,174.9 71.3,174.9 71.6,174.8 71.9,174.7 72.2,174.7 72.4,174.6 72.7,174.6 73,174.5 73.3,174.4 73.5,174.4 73.8,174.3 74.1,174.3 74.4,174.2 74.6,174.1 74.9,174.0 75.2,174.0 75.5,173.9 75.7,173.8 76,173.7 76.3,173.7 76.6,173.6 76.8,173.5 77.1,173.4 77.4,173.3 77.7,173.2 77.9,173.1 78.2,173.0 78.5,172.9 78.8,172.8 79,172.7 79.3,172.6 79.6,172.5 79.9,172.4 80.2,172.3 80.4,172.2 80.7,172.0 81,171.9 81.3,171.8 81.5,171.7 81.8,171.5 82.1,171.4 82.4,171.3 82.6,171.1 82.9,171.0 83.2,170.9 83.5,170.7 83.7,170.6 84,170.4 84.3,170.3 84.6,170.1 84.8,169.9 85.1,169.8 85.4,169.6 85.7,169.4 85.9,169.3 86.2,169.1 86.5,168.9 86.8,168.7 87,168.5 87.3,168.4 87.6,168.2 87.9,168.0 88.1,167.8 88.4,167.6 88.7,167.4 89,167.2 89.2,166.9 89.5,166.7 89.8,166.5 90.1,166.3 90.3,166.1 90.6,165.8 90.9,165.6 91.2,165.4 91.4,165.1 91.7,164.9 92,164.7 92.3,164.4 92.5,164.2 92.8,163.9 93.1,163.6 93.4,163.4 93.6,163.1 93.9,162.8 94.2,162.6 94.5,162.3 94.7,162.0 95,161.7 95.3,161.5 95.6,161.2 95.8,160.9 96.1,160.6 96.4,160.3 96.7,160.0 96.9,159.7 97.2,159.4 97.5,159.1 97.8,158.8 98,158.4 98.3,158.1 98.6,157.8 98.9,157.5 99.1,157.1 99.4,156.8 99.7,156.5 100,156.2 100.3,155.8 100.5,155.5 100.8,155.1 101.1,154.8 101.4,154.4 101.6,154.1 101.9,153.7 102.2,153.4 102.5,153.0 102.7,152.7 103,152.3 103.3,151.9 103.6,151.6 103.8,151.2 104.1,150.8 104.4,150.5 104.7,150.1 104.9,149.7 105.2,149.3 105.5,149.0 105.8,148.6 106,148.2 106.3,147.8 106.6,147.4 106.9,147.0 107.1,146.7 107.4,146.3 107.7,145.9 108,145.5 108.2,145.1 108.5,144.7 108.8,144.3 109.1,143.9 109.3,143.5 109.6,143.1 109.9,142.7 110.2,142.3 110.4,141.9 110.7,141.5 111,141.1 111.3,140.7 111.5,140.3 111.8,139.9 112.1,139.5 112.4,139.1 112.6,138.7 112.9,138.2 113.2,137.8 113.5,137.4 113.7,137.0 114,136.6 114.3,136.2 114.6,135.8 114.8,135.4 115.1,135.0 115.4,134.6 115.7,134.2 115.9,133.8 116.2,133.4 116.5,132.9 116.8,132.5 117,132.1 117.3,131.7 117.6,131.3 117.9,130.9 118.1,130.5 118.4,130.1 118.7,129.7 119,129.3 119.2,128.9 119.5,128.5 119.8,128.1 120.1,127.7 120.4,127.3 120.6,126.9 120.9,126.5 121.2,126.1 121.5,125.7 121.7,125.3 122,124.9 122.3,124.5 122.6,124.1 122.8,123.7 123.1,123.3 123.4,123.0 123.7,122.6 123.9,122.2 124.2,121.8 124.5,121.4 124.8,121.0 125,120.7 125.3,120.3 125.6,119.9 125.9,119.5 126.1,119.1 126.4,118.8 126.7,118.4 127,118.0 127.2,117.7 127.5,117.3 127.8,116.9 128.1,116.6 128.3,116.2 128.6,115.8 128.9,115.5 129.2,115.1 129.4,114.8 129.7,114.4 130,114.0 130.3,113.7 130.5,113.3 130.8,113.0 131.1,112.6 131.4,112.3 131.6,112.0 131.9,111.6 132.2,111.3 132.5,110.9 132.7,110.6 133,110.3 133.3,109.9 133.6,109.6 133.8,109.3 134.1,109.0 134.4,108.6 134.7,108.3 134.9,108.0 135.2,107.7 135.5,107.4 135.8,107.1 136,106.7 136.3,106.4 136.6,106.1 136.9,105.8 137.1,105.5 137.4,105.2 137.7,104.9 138,104.6 138.2,104.3 138.5,104.0 138.8,103.8 139.1,103.5 139.3,103.2 139.6,102.9 139.9,102.6 140.2,102.4 140.5,102.1 140.7,101.8 141,101.5 141.3,101.3 141.6,101.0 141.8,100.7 142.1,100.5 142.4,100.2 142.7,100.0 142.9,99.7 143.2,99.5 143.5,99.2 143.8,99.0 144,98.7 144.3,98.5 144.6,98.2 144.9,98.0 145.1,97.8 145.4,97.5 145.7,97.3 146,97.1 146.2,96.8 146.5,96.6 146.8,96.4 147.1,96.2 147.3,96.0 147.6,95.8 147.9,95.5 148.2,95.3 148.4,95.1 148.7,94.9 149,94.7 149.3,94.5 149.5,94.3 149.8,94.1 150.1,94.0 150.4,93.8 150.6,93.6 150.9,93.4 151.2,93.2 151.5,93.0 151.7,92.9 152,92.7 152.3,92.5 152.6,92.4 152.8,92.2 153.1,92.0 153.4,91.9 153.7,91.7 153.9,91.6 154.2,91.4 154.5,91.3 154.8,91.1 155,91.0 155.3,90.8 155.6,90.7 155.9,90.6 156.1,90.4 156.4,90.3 156.7,90.2 157,90.1 157.2,89.9 157.5,89.8 157.8,89.7 158.1,89.6 158.3,89.5 158.6,89.4 158.9,89.3 159.2,89.2 159.4,89.1 159.7,89.0 160,88.9 160.3,88.8 160.6,88.7 160.8,88.6 161.1,88.5 161.4,88.4 161.7,88.4 161.9,88.3 162.2,88.2 162.5,88.1 162.8,88.1 163,88.0 163.3,87.9 163.6,87.9 163.9,87.8 164.1,87.8 164.4,87.7 164.7,87.7 165,87.6 165.2,87.6 165.5,87.5 165.8,87.5 166.1,87.5 166.3,87.4 166.6,87.4 166.9,87.4 167.2,87.3 167.4,87.3 167.7,87.3 168,87.3 168.3,87.3 168.5,87.3 168.8,87.3 169.1,87.3 169.4,87.3 169.6,87.3 169.9,87.3 170.2,87.3 170.5,87.3 170.7,87.3 171,87.3 171.3,87.3 171.6,87.3 171.8,87.3 172.1,87.4 172.4,87.4 172.7,87.4 172.9,87.5 173.2,87.5 173.5,87.5 173.8,87.6 174,87.6 174.3,87.7 174.6,87.7 174.9,87.8 175.1,87.8 175.4,87.9 175.7,87.9 176,88.0 176.2,88.1 176.5,88.1 176.8,88.2 177.1,88.3 177.3,88.4 177.6,88.4 177.9,88.5 178.2,88.6 178.4,88.7 178.7,88.8 179,88.9 179.3,89.0 179.6,89.1 179.8,89.2 180.1,89.3 180.4,89.4 180.7,89.5 180.9,89.6 181.2,89.7 181.5,89.8 181.8,89.9 182,90.1 182.3,90.2 182.6,90.3 182.9,90.4 183.1,90.6 183.4,90.7 183.7,90.8 184,91.0 184.2,91.1 184.5,91.3 184.8,91.4 185.1,91.6 185.3,91.7 185.6,91.9 185.9,92.0 186.2,92.2 186.4,92.4 186.7,92.5 187,92.7 187.3,92.9 187.5,93.0 187.8,93.2 188.1,93.4 188.4,93.6 188.6,93.8 188.9,94.0 189.2,94.1 189.5,94.3 189.7,94.5 190,94.7 190.3,94.9 190.6,95.1 190.8,95.3 191.1,95.5 191.4,95.8 191.7,96.0 191.9,96.2 192.2,96.4 192.5,96.6 192.8,96.8 193,97.1 193.3,97.3 193.6,97.5 193.9,97.8 194.1,98.0 194.4,98.2 194.7,98.5 195,98.7 195.2,99.0 195.5,99.2 195.8,99.5 196.1,99.7 196.3,100.0 196.6,100.2 196.9,100.5 197.2,100.7 197.4,101.0 197.7,101.3 198,101.5 198.3,101.8 198.5,102.1 198.8,102.4 199.1,102.6 199.4,102.9 199.7,103.2 199.9,103.5 200.2,103.8 200.5,104.0 200.8,104.3 201,104.6 201.3,104.9 201.6,105.2 201.9,105.5 202.1,105.8 202.4,106.1 202.7,106.4 203,106.7 203.2,107.1 203.5,107.4 203.8,107.7 204.1,108.0 204.3,108.3 204.6,108.6 204.9,109.0 205.2,109.3 205.4,109.6 205.7,109.9 206,110.3 206.3,110.6 206.5,110.9 206.8,111.3 207.1,111.6 207.4,112.0 207.6,112.3 207.9,112.6 208.2,113.0 208.5,113.3 208.7,113.7 209,114.0 209.3,114.4 209.6,114.8 209.8,115.1 210.1,115.5 210.4,115.8 210.7,116.2 210.9,116.6 211.2,116.9 211.5,117.3 211.8,117.7 212,118.0 212.3,118.4 212.6,118.8 212.9,119.1 213.1,119.5 213.4,119.9 213.7,120.3 214,120.7 214.2,121.0 214.5,121.4 214.8,121.8 215.1,122.2 215.3,122.6 215.6,123.0 215.9,123.3 216.2,123.7 216.4,124.1 216.7,124.5 217,124.9 217.3,125.3 217.5,125.7 217.8,126.1 218.1,126.5 218.4,126.9 218.6,127.3 218.9,127.7 219.2,128.1 219.5,128.5 219.8,128.9 220,129.3 220.3,129.7 220.6,130.1 220.9,130.5 221.1,130.9 221.4,131.3 221.7,131.7 222,132.1 222.2,132.5 222.5,132.9 222.8,133.4 223.1,133.8 223.3,134.2 223.6,134.6 223.9,135.0 224.2,135.4 224.4,135.8 224.7,136.2 225,136.6 225.3,137.0 225.5,137.4 225.8,137.8 226.1,138.2 226.4,138.7 226.6,139.1 226.9,139.5 227.2,139.9 227.5,140.3 227.7,140.7 228,141.1 228.3,141.5 228.6,141.9 228.8,142.3 229.1,142.7 229.4,143.1 229.7,143.5 229.9,143.9 230.2,144.3 230.5,144.7 230.8,145.1 231,145.5 231.3,145.9 231.6,146.3 231.9,146.7 232.1,147.0 232.4,147.4 232.7,147.8 233,148.2 233.2,148.6 233.5,149.0 233.8,149.3 234.1,149.7 234.3,150.1 234.6,150.5 234.9,150.8 235.2,151.2 235.4,151.6 235.7,151.9 236,152.3 236.3,152.7 236.5,153.0 236.8,153.4 237.1,153.7 237.4,154.1 237.6,154.4 237.9,154.8 238.2,155.1 238.5,155.5 238.7,155.8 239,156.2 239.3,156.5 239.6,156.8 239.9,157.1 240.1,157.5 240.4,157.8 240.7,158.1 241,158.4 241.2,158.8 241.5,159.1 241.8,159.4 242.1,159.7 242.3,160.0 242.6,160.3 242.9,160.6 243.2,160.9 243.4,161.2 243.7,161.5 244,161.7 244.3,162.0 244.5,162.3 244.8,162.6 245.1,162.8 245.4,163.1 245.6,163.4 245.9,163.6 246.2,163.9 246.5,164.2 246.7,164.4 247,164.7 247.3,164.9 247.6,165.1 247.8,165.4 248.1,165.6 248.4,165.8 248.7,166.1 248.9,166.3 249.2,166.5 249.5,166.7 249.8,166.9 250,167.2 250.3,167.4 250.6,167.6 250.9,167.8 251.1,168.0 251.4,168.2 251.7,168.4 252,168.5 252.2,168.7 252.5,168.9 252.8,169.1 253.1,169.3 253.3,169.4 253.6,169.6 253.9,169.8 254.2,169.9 254.4,170.1 254.7,170.3 255,170.4 255.3,170.6 255.5,170.7 255.8,170.9 256.1,171.0 256.4,171.1 256.6,171.3 256.9,171.4 257.2,171.5 257.5,171.7 257.7,171.8 258,171.9 258.3,172.0 258.6,172.2 258.8,172.3 259.1,172.4 259.4,172.5 259.7,172.6 260,172.7 260.2,172.8 260.5,172.9 260.8,173.0 261.1,173.1 261.3,173.2 261.6,173.3 261.9,173.4 262.2,173.5 262.4,173.6 262.7,173.7 263,173.7 263.3,173.8 263.5,173.9 263.8,174.0 264.1,174.0 264.4,174.1 264.6,174.2 264.9,174.3 265.2,174.3 265.5,174.4 265.7,174.4 266,174.5 266.3,174.6 266.6,174.6 266.8,174.7 267.1,174.7 267.4,174.8 267.7,174.9 267.9,174.9 268.2,175.0 268.5,175.0 268.8,175.1 269,175.1 269.3,175.1 269.6,175.2 269.9,175.2 270.1,175.3 270.4,175.3 270.7,175.4 271,175.4 271.2,175.4 271.5,175.5 271.8,175.5 272.1,175.5 272.3,175.6 272.6,175.6 272.9,175.6 273.2,175.7 273.4,175.7 273.7,175.7 274,175.7 274.3,175.8 274.5,175.8 274.8,175.8 275.1,175.8 275.4,175.9 275.6,175.9 275.9,175.9 276.2,175.9 276.5,176.0 276.7,176.0 277,176.0 277.3,176.0 277.6,176.0 277.8,176.1 278.1,176.1 278.4,176.1 278.7,176.1 278.9,176.1 279.2,176.1 279.5,176.2" fill="none" stroke="#ec3489" stroke-width="0.9" stroke-linejoin="round" opacity="1.0"/>
<rect x="353.6" y="20.1" width="236.1" height="175.9" fill="none" stroke="#a6a6a6" stroke-width="1"/>
<text x="348.3" y="200.9" text-anchor="end" style="font-family:'Liberation Sans',sans-serif;font-style:normal;font-weight:normal;font-size:13px;fill:#231f20;stroke:#231f20;stroke-width:0.25px" >-2</text>
<line x1="353.6" y1="174.01" x2="356.6" y2="174.01" stroke="#8a8a8a" stroke-width="1"/>
<text x="348.3" y="178.91" text-anchor="end" style="font-family:'Liberation Sans',sans-serif;font-style:normal;font-weight:normal;font-size:13px;fill:#231f20;stroke:#231f20;stroke-width:0.25px" >0</text>
<line x1="353.6" y1="152.03" x2="356.6" y2="152.03" stroke="#8a8a8a" stroke-width="1"/>
<text x="348.3" y="156.93" text-anchor="end" style="font-family:'Liberation Sans',sans-serif;font-style:normal;font-weight:normal;font-size:13px;fill:#231f20;stroke:#231f20;stroke-width:0.25px" >2</text>
<line x1="353.6" y1="130.04" x2="356.6" y2="130.04" stroke="#8a8a8a" stroke-width="1"/>
<text x="348.3" y="134.94" text-anchor="end" style="font-family:'Liberation Sans',sans-serif;font-style:normal;font-weight:normal;font-size:13px;fill:#231f20;stroke:#231f20;stroke-width:0.25px" >4</text>
<line x1="353.6" y1="108.05" x2="356.6" y2="108.05" stroke="#8a8a8a" stroke-width="1"/>
<text x="348.3" y="112.95" text-anchor="end" style="font-family:'Liberation Sans',sans-serif;font-style:normal;font-weight:normal;font-size:13px;fill:#231f20;stroke:#231f20;stroke-width:0.25px" >6</text>
<line x1="353.6" y1="86.06" x2="356.6" y2="86.06" stroke="#8a8a8a" stroke-width="1"/>
<text x="348.3" y="90.96" text-anchor="end" style="font-family:'Liberation Sans',sans-serif;font-style:normal;font-weight:normal;font-size:13px;fill:#231f20;stroke:#231f20;stroke-width:0.25px" >8</text>
<line x1="353.6" y1="64.07" x2="356.6" y2="64.07" stroke="#8a8a8a" stroke-width="1"/>
<path d="M515 0L696 0L696 1409L530 1409Q420 1260 197 1180L197 1010Q400 1080 515 1237Z" transform="translate(333.84,68.97) scale(0.00635,-0.00635)" fill="#231f20" stroke="#231f20" stroke-width="0.25" vector-effect="non-scaling-stroke"/>
<text x="341.07" y="68.97" style="font-family:'Liberation Sans',sans-serif;font-style:normal;font-weight:normal;font-size:13px;fill:#231f20;stroke:#231f20;stroke-width:0.25px" >0</text>
<line x1="353.6" y1="42.09" x2="356.6" y2="42.09" stroke="#8a8a8a" stroke-width="1"/>
<path d="M515 0L696 0L696 1409L530 1409Q420 1260 197 1180L197 1010Q400 1080 515 1237Z" transform="translate(333.84,46.99) scale(0.00635,-0.00635)" fill="#231f20" stroke="#231f20" stroke-width="0.25" vector-effect="non-scaling-stroke"/>
<text x="341.07" y="46.99" style="font-family:'Liberation Sans',sans-serif;font-style:normal;font-weight:normal;font-size:13px;fill:#231f20;stroke:#231f20;stroke-width:0.25px" >2</text>
<path d="M515 0L696 0L696 1409L530 1409Q420 1260 197 1180L197 1010Q400 1080 515 1237Z" transform="translate(333.84,25) scale(0.00635,-0.00635)" fill="#231f20" stroke="#231f20" stroke-width="0.25" vector-effect="non-scaling-stroke"/>
<text x="341.07" y="25" style="font-family:'Liberation Sans',sans-serif;font-style:normal;font-weight:normal;font-size:13px;fill:#231f20;stroke:#231f20;stroke-width:0.25px" >4</text>
<line x1="385.6" y1="196" x2="385.6" y2="193" stroke="#8a8a8a" stroke-width="1"/>
<path d="M515 0L696 0L696 1409L530 1409Q420 1260 197 1180L197 1010Q400 1080 515 1237Z" transform="translate(377.06,210.9) scale(0.00635,-0.00635)" fill="#231f20" stroke="#231f20" stroke-width="0.25" vector-effect="non-scaling-stroke"/>
<text x="384.29" y="210.9" style="font-family:'Liberation Sans',sans-serif;font-style:normal;font-weight:normal;font-size:13px;fill:#231f20;stroke:#231f20;stroke-width:0.25px" >.6</text>
<line x1="428.57" y1="196" x2="428.57" y2="193" stroke="#8a8a8a" stroke-width="1"/>
<path d="M515 0L696 0L696 1409L530 1409Q420 1260 197 1180L197 1010Q400 1080 515 1237Z" transform="translate(420.04,210.9) scale(0.00635,-0.00635)" fill="#231f20" stroke="#231f20" stroke-width="0.25" vector-effect="non-scaling-stroke"/>
<text x="427.27" y="210.9" style="font-family:'Liberation Sans',sans-serif;font-style:normal;font-weight:normal;font-size:13px;fill:#231f20;stroke:#231f20;stroke-width:0.25px" >.8</text>
<line x1="471.55" y1="196" x2="471.55" y2="193" stroke="#8a8a8a" stroke-width="1"/>
<text x="472.05" y="210.9" text-anchor="middle" style="font-family:'Liberation Sans',sans-serif;font-style:normal;font-weight:normal;font-size:13px;fill:#231f20;stroke:#231f20;stroke-width:0.25px" >2.0</text>
<line x1="514.53" y1="196" x2="514.53" y2="193" stroke="#8a8a8a" stroke-width="1"/>
<text x="515.03" y="210.9" text-anchor="middle" style="font-family:'Liberation Sans',sans-serif;font-style:normal;font-weight:normal;font-size:13px;fill:#231f20;stroke:#231f20;stroke-width:0.25px" >2.2</text>
<line x1="557.5" y1="196" x2="557.5" y2="193" stroke="#8a8a8a" stroke-width="1"/>
<text x="558" y="210.9" text-anchor="middle" style="font-family:'Liberation Sans',sans-serif;font-style:normal;font-weight:normal;font-size:13px;fill:#231f20;stroke:#231f20;stroke-width:0.25px" >2.4</text>
<text x="471.5" y="230.9" text-anchor="middle" style="font-family:'Liberation Sans',sans-serif;font-style:normal;font-weight:normal;font-size:13.9px;fill:#231f20;stroke:#231f20;stroke-width:0.25px" textLength="102.4" lengthAdjust="spacingAndGlyphs">Frequency (MHz)</text>
<text transform="translate(321.7,107.1) rotate(-90)" text-anchor="middle" textLength="103.2" lengthAdjust="spacingAndGlyphs" style="font-family:'Liberation Sans',sans-serif;font-size:13.6px;fill:#231f20;stroke:#231f20;stroke-width:0.25px">Noise power (dB)</text>
<text x="310.56" y="19.2" style="font-family:'Liberation Sans',sans-serif;font-style:normal;font-weight:bold;font-size:18px;fill:#000;stroke:#000;stroke-width:0.25px" >b</text>
<polyline points="364.1,174.1 364.4,175.0 364.7,173.9 364.9,174.7 365.2,175.0 365.5,174.8 365.7,175.0 366,174.5 366.3,174.5 366.5,174.5 366.8,174.9 367.1,176.6 367.3,174.5 367.6,175.6 367.9,174.4 368.1,173.9 368.4,174.4 368.7,174.8 369,174.7 369.2,174.6 369.5,174.9 369.8,174.9 370,175.1 370.3,173.9 370.6,174.6 370.8,174.0 371.1,174.7 371.4,174.5 371.6,174.7 371.9,174.3 372.2,174.1 372.4,174.4 372.7,174.9 373,175.0 373.3,173.7 373.5,174.7 373.8,174.7 374.1,173.8 374.3,174.0 374.6,174.3 374.9,174.8 375.1,173.3 375.4,174.3 375.7,174.3 375.9,174.7 376.2,175.3 376.5,175.3 376.8,174.3 377,174.3 377.3,174.7 377.6,175.2 377.8,175.4 378.1,174.7 378.4,175.4 378.6,174.1 378.9,173.9 379.2,173.0 379.4,174.1 379.7,174.9 380,175.0 380.2,176.5 380.5,174.9 380.8,174.7 381.1,174.0 381.3,174.2 381.6,174.2 381.9,174.4 382.1,174.2 382.4,173.8 382.7,175.1 382.9,174.8 383.2,175.3 383.5,173.7 383.7,173.8 384,174.1 384.3,175.2 384.6,174.5 384.8,174.7 385.1,174.5 385.4,174.7 385.6,174.3 385.9,174.8 386.2,174.1 386.4,174.4 386.7,174.7 387,174.6 387.2,174.8 387.5,174.1 387.8,174.7 388,174.4 388.3,174.8 388.6,175.4 388.9,174.1 389.1,175.1 389.4,174.2 389.7,174.3 389.9,175.5 390.2,175.1 390.5,174.8 390.7,175.0 391,175.2 391.3,174.2 391.5,174.7 391.8,174.4 392.1,174.8 392.4,174.4 392.6,175.0 392.9,174.6 393.2,174.2 393.4,174.5 393.7,174.8 394,175.2 394.2,174.5 394.5,174.4 394.8,174.7 395,175.0 395.3,174.3 395.6,173.2 395.8,174.7 396.1,174.4 396.4,174.4 396.7,176.0 396.9,174.5 397.2,175.0 397.5,173.8 397.7,174.7 398,175.0 398.3,174.7 398.5,174.5 398.8,174.9 399.1,174.6 399.3,175.3 399.6,174.7 399.9,174.1 400.1,173.5 400.4,174.2 400.7,174.4 401,173.9 401.2,174.0 401.5,173.6 401.8,174.0 402,174.6 402.3,174.4 402.6,174.5 402.8,174.4 403.1,174.5 403.4,175.0 403.6,175.7 403.9,174.9 404.2,175.7 404.5,174.5 404.7,174.6 405,175.5 405.3,174.2 405.5,174.1 405.8,174.5 406.1,173.6 406.3,173.5 406.6,175.2 406.9,174.0 407.1,174.3 407.4,174.3 407.7,174.0 407.9,175.0 408.2,174.9 408.5,175.0 408.8,175.0 409,174.6 409.3,175.4 409.6,175.1 409.8,174.2 410.1,174.6 410.4,174.4 410.6,175.6 410.9,175.0 411.2,174.9 411.4,174.5 411.7,174.9 412,174.0 412.3,174.6 412.5,174.6 412.8,174.6 413.1,174.2 413.3,174.8 413.6,173.9 413.9,174.3 414.1,174.5 414.4,174.5 414.7,174.3 414.9,174.0 415.2,174.0 415.5,174.4 415.7,174.1 416,174.5 416.3,173.9 416.6,174.6 416.8,175.7 417.1,173.8 417.4,174.5 417.6,175.2 417.9,174.7 418.2,175.0 418.4,173.4 418.7,174.3 419,175.4 419.2,174.3 419.5,174.8 419.8,173.5 420,175.1 420.3,175.8 420.6,174.5 420.9,174.8 421.1,174.8 421.4,175.7 421.7,174.3 421.9,173.6 422.2,175.6 422.5,173.9 422.7,174.9 423,173.3 423.3,174.3 423.5,174.7 423.8,174.0 424.1,174.3 424.4,174.9 424.6,174.2 424.9,174.8 425.2,175.5 425.4,173.4 425.7,174.8 426,174.9 426.2,174.4 426.5,175.4 426.8,175.3 427,174.8 427.3,174.8 427.6,174.5 427.8,173.9 428.1,174.8 428.4,174.3 428.7,174.2 428.9,175.2 429.2,174.4 429.5,175.1 429.7,174.0 430,174.3 430.3,174.6 430.5,175.3 430.8,174.5 431.1,175.0 431.3,174.2 431.6,174.6 431.9,175.0 432.2,174.1 432.4,174.2 432.7,174.9 433,173.9 433.2,174.7 433.5,174.7 433.8,174.5 434,175.0 434.3,174.8 434.6,174.7 434.8,173.7 435.1,173.7 435.4,174.7 435.6,173.7 435.9,174.6 436.2,174.4 436.5,174.1 436.7,174.4 437,173.2 437.3,174.4 437.5,175.2 437.8,173.8 438.1,174.8 438.3,174.7 438.6,176.2 438.9,174.0 439.1,174.1 439.4,174.1 439.7,174.0 440,173.6 440.2,174.6 440.5,174.0 440.8,175.0 441,174.8 441.3,174.0 441.6,174.3 441.8,175.3 442.1,174.4 442.4,174.7 442.6,175.0 442.9,174.3 443.2,174.8 443.4,175.4 443.7,175.2 444,173.6 444.3,175.4 444.5,174.4 444.8,174.2 445.1,174.2 445.3,175.2 445.6,174.7 445.9,174.5 446.1,174.1 446.4,174.9 446.7,175.2 446.9,174.0 447.2,174.0 447.5,174.4 447.7,174.9 448,174.3 448.3,174.5 448.6,174.1 448.8,175.2 449.1,174.5 449.4,174.6 449.6,175.2 449.9,174.4 450.2,174.5 450.4,174.8 450.7,174.3 451,175.3 451.2,174.6 451.5,174.3 451.8,174.4 452.1,174.0 452.3,175.2 452.6,175.4 452.9,174.4 453.1,174.3 453.4,173.4 453.7,174.2 453.9,175.0 454.2,174.1 454.5,175.0 454.7,175.4 455,173.1 455.3,174.4 455.5,174.2 455.8,174.3 456.1,173.6 456.4,174.4 456.6,173.9 456.9,175.1 457.2,175.3 457.4,173.8 457.7,173.8 458,174.3 458.2,174.4 458.5,174.5 458.8,174.9 459,173.7 459.3,174.2 459.6,174.3 459.9,174.4 460.1,174.0 460.4,174.3 460.7,174.2 460.9,175.2 461.2,174.3 461.5,173.4 461.7,174.8 462,174.6 462.3,174.1 462.5,174.0 462.8,174.2 463.1,175.5 463.3,174.3 463.6,175.2 463.9,175.0 464.2,174.3 464.4,174.7 464.7,174.1 465,172.8 465.2,174.1 465.5,174.2 465.8,175.1 466,174.9 466.3,175.1 466.6,174.9 466.8,175.2 467.1,174.9 467.4,174.7 467.7,175.1 467.9,175.3 468.2,175.3 468.5,174.3 468.7,174.5 469,174.0 469.3,174.0 469.5,174.7 469.8,174.2 470.1,175.4 470.3,173.3 470.6,173.9 470.9,174.7 471.1,175.2 471.4,174.4 471.7,175.6 472,175.0 472.2,174.2 472.5,174.5 472.8,174.8 473,174.0 473.3,175.1 473.6,174.4 473.8,174.8 474.1,175.0 474.4,174.3 474.6,175.1 474.9,173.5 475.2,174.9 475.4,173.5 475.7,175.2 476,174.2 476.3,175.2 476.5,175.3 476.8,174.5 477.1,174.2 477.3,175.3 477.6,173.9 477.9,175.0 478.1,174.5 478.4,174.4 478.7,174.2 478.9,175.6 479.2,173.7 479.5,174.3 479.8,174.8 480,175.1 480.3,175.5 480.6,175.3 480.8,174.3 481.1,174.7 481.4,175.2 481.6,174.9 481.9,173.7 482.2,174.7 482.4,174.9 482.7,173.8 483,174.3 483.2,174.5 483.5,174.9 483.8,175.4 484.1,175.2 484.3,174.8 484.6,174.7 484.9,174.4 485.1,174.3 485.4,174.4 485.7,174.4 485.9,175.1 486.2,175.7 486.5,174.8 486.7,175.1 487,174.9 487.3,174.7 487.6,175.2 487.8,175.2 488.1,174.6 488.4,174.5 488.6,174.9 488.9,174.3 489.2,174.7 489.4,175.1 489.7,174.5 490,173.5 490.2,174.9 490.5,173.9 490.8,173.8 491,173.7 491.3,175.0 491.6,173.5 491.9,174.5 492.1,174.7 492.4,174.7 492.7,174.2 492.9,174.5 493.2,174.7 493.5,173.9 493.7,175.0 494,175.1 494.3,174.1 494.5,174.2 494.8,174.0 495.1,175.2 495.4,174.0 495.6,174.3 495.9,173.6 496.2,175.2 496.4,174.4 496.7,174.7 497,175.4 497.2,175.0 497.5,173.9 497.8,174.8 498,175.0 498.3,174.1 498.6,174.0 498.8,174.0 499.1,175.0 499.4,174.6 499.7,174.0 499.9,174.9 500.2,175.0 500.5,174.1 500.7,173.7 501,175.2 501.3,176.0 501.5,175.4 501.8,175.1 502.1,174.6 502.3,174.2 502.6,174.6 502.9,174.9 503.1,174.5 503.4,175.1 503.7,174.6 504,174.9 504.2,173.1 504.5,174.1 504.8,175.0 505,175.1 505.3,174.8 505.6,175.5 505.8,175.0 506.1,175.0 506.4,174.1 506.6,174.8 506.9,175.0 507.2,175.3 507.5,175.2 507.7,174.6 508,174.7 508.3,173.9 508.5,174.9 508.8,174.0 509.1,174.4 509.3,174.6 509.6,175.7 509.9,175.3 510.1,174.2 510.4,173.8 510.7,174.4 510.9,174.1 511.2,174.8 511.5,174.8 511.8,174.9 512,174.0 512.3,174.4 512.6,174.7 512.8,174.7 513.1,174.3 513.4,174.4 513.6,175.0 513.9,173.6 514.2,174.4 514.4,174.6 514.7,173.8 515,174.0 515.3,174.6 515.5,174.3 515.8,175.2 516.1,174.9 516.3,175.8 516.6,173.9 516.9,175.6 517.1,174.2 517.4,175.0 517.7,175.1 517.9,174.7 518.2,174.4 518.5,174.2 518.7,173.6 519,174.4 519.3,174.1 519.6,174.9 519.8,174.2 520.1,174.5 520.4,174.8 520.6,174.6 520.9,174.6 521.2,174.5 521.4,174.3 521.7,174.8 522,175.0 522.2,174.2 522.5,175.5 522.8,174.9 523.1,173.7 523.3,176.1 523.6,174.9 523.9,174.2 524.1,175.5 524.4,173.1 524.7,176.0 524.9,173.8 525.2,173.7 525.5,174.1 525.7,174.7 526,174.4 526.3,175.1 526.5,174.1 526.8,175.2 527.1,174.7 527.4,174.0 527.6,175.2 527.9,174.8 528.2,174.5 528.4,175.3 528.7,173.9 529,174.4 529.2,175.4 529.5,174.6 529.8,175.0 530,174.9 530.3,174.5 530.6,175.0 530.8,174.0 531.1,174.9 531.4,174.0 531.7,174.6 531.9,174.1 532.2,174.9 532.5,174.8 532.7,175.2 533,174.2 533.3,174.0 533.5,173.4 533.8,173.9 534.1,174.4 534.3,174.7 534.6,174.3 534.9,174.6 535.2,173.8 535.4,174.0 535.7,175.0 536,174.9 536.2,173.8 536.5,174.4 536.8,174.7 537,173.9 537.3,174.8 537.6,174.7 537.8,174.8 538.1,175.6 538.4,174.1 538.6,175.2 538.9,174.9 539.2,175.0 539.5,174.2 539.7,174.6 540,174.6 540.3,175.5 540.5,174.6 540.8,175.4 541.1,174.4 541.3,174.4 541.6,174.6 541.9,173.4 542.1,174.3 542.4,174.2 542.7,174.5 543,174.7 543.2,174.0 543.5,174.0 543.8,175.3 544,174.0 544.3,174.3 544.6,174.0 544.8,174.3 545.1,175.2 545.4,175.2 545.6,173.6 545.9,174.4 546.2,175.3 546.4,174.4 546.7,174.8 547,175.6 547.3,175.8 547.5,175.4 547.8,174.4 548.1,174.6 548.3,174.7 548.6,174.4 548.9,174.2 549.1,175.7 549.4,174.7 549.7,175.0 549.9,175.2 550.2,174.9 550.5,174.6 550.7,174.7 551,175.4 551.3,174.8 551.6,173.5 551.8,175.1 552.1,175.5 552.4,174.4 552.6,174.2 552.9,174.3 553.2,175.2 553.4,174.0 553.7,175.0 554,175.2 554.2,174.9 554.5,174.6 554.8,174.2 555.1,174.2 555.3,174.6 555.6,174.0 555.9,174.5 556.1,174.1 556.4,175.3 556.7,175.4 556.9,174.1 557.2,175.3 557.5,174.7 557.7,174.6 558,174.8 558.3,174.8 558.5,173.8 558.8,176.0 559.1,174.1 559.4,173.3 559.6,174.5 559.9,174.6 560.2,174.2 560.4,173.6 560.7,175.2 561,174.5 561.2,174.7 561.5,174.3 561.8,174.5 562,174.2 562.3,174.8 562.6,174.5 562.9,174.9 563.1,174.9 563.4,174.6 563.7,174.6 563.9,175.2 564.2,173.7 564.5,174.6 564.7,175.3 565,174.0 565.3,175.0 565.5,174.3 565.8,174.6 566.1,174.4 566.3,174.5 566.6,174.9 566.9,174.5 567.2,173.4 567.4,175.8 567.7,174.5 568,174.3 568.2,175.1 568.5,175.3 568.8,173.4 569,174.8 569.3,173.4 569.6,174.3 569.8,174.5 570.1,174.3 570.4,174.2 570.7,173.9 570.9,174.3 571.2,174.5 571.5,174.5 571.7,173.8 572,174.1 572.3,175.1 572.5,174.9 572.8,174.4 573.1,174.9 573.3,174.8 573.6,175.1 573.9,174.7 574.1,174.3 574.4,174.0 574.7,174.6 575,173.4 575.2,174.6 575.5,172.8 575.8,174.0 576,174.3 576.3,174.8 576.6,176.1 576.8,174.6 577.1,174.5 577.4,173.5 577.6,175.3 577.9,173.5 578.2,174.7 578.4,174.2 578.7,176.0 579,174.5" fill="none" stroke="#2e1a17" stroke-width="0.9" stroke-linejoin="round" opacity="1.0"/>
<polyline points="364.1,173.5 364.4,172.8 364.7,173.2 364.9,174.0 365.2,172.6 365.5,172.8 365.7,172.8 366,172.6 366.3,172.5 366.5,173.3 366.8,174.1 367.1,174.2 367.3,172.4 367.6,172.8 367.9,173.2 368.1,173.5 368.4,173.2 368.7,173.2 369,173.5 369.2,173.7 369.5,171.8 369.8,173.1 370,173.6 370.3,174.1 370.6,173.7 370.8,172.8 371.1,172.7 371.4,173.4 371.6,173.2 371.9,173.4 372.2,174.0 372.4,172.4 372.7,173.0 373,171.6 373.3,173.7 373.5,173.3 373.8,172.7 374.1,173.4 374.3,174.2 374.6,173.9 374.9,173.2 375.1,173.0 375.4,173.3 375.7,172.6 375.9,172.6 376.2,173.0 376.5,173.2 376.8,173.4 377,172.9 377.3,172.6 377.6,173.2 377.8,172.9 378.1,173.5 378.4,174.2 378.6,173.9 378.9,172.7 379.2,172.9 379.4,172.2 379.7,173.2 380,172.7 380.2,172.4 380.5,172.6 380.8,173.6 381.1,173.4 381.3,173.2 381.6,173.9 381.9,172.9 382.1,172.6 382.4,173.6 382.7,171.9 382.9,173.4 383.2,173.4 383.5,173.4 383.7,173.7 384,173.0 384.3,173.2 384.6,172.1 384.8,172.8 385.1,172.9 385.4,173.4 385.6,174.2 385.9,173.3 386.2,173.8 386.4,172.6 386.7,173.3 387,172.1 387.2,172.8 387.5,172.7 387.8,173.1 388,173.1 388.3,172.8 388.6,172.6 388.9,173.7 389.1,172.9 389.4,171.5 389.7,173.3 389.9,173.4 390.2,173.7 390.5,174.2 390.7,172.5 391,173.2 391.3,173.0 391.5,172.0 391.8,171.6 392.1,173.8 392.4,172.5 392.6,172.8 392.9,173.0 393.2,172.9 393.4,173.3 393.7,172.2 394,172.8 394.2,173.0 394.5,172.4 394.8,172.6 395,172.9 395.3,173.0 395.6,172.1 395.8,172.9 396.1,173.3 396.4,173.8 396.7,173.5 396.9,173.9 397.2,173.2 397.5,173.1 397.7,174.6 398,173.2 398.3,172.8 398.5,173.1 398.8,173.9 399.1,172.4 399.3,173.7 399.6,174.1 399.9,174.0 400.1,173.3 400.4,172.6 400.7,172.5 401,173.1 401.2,174.0 401.5,173.7 401.8,173.8 402,173.4 402.3,174.4 402.6,173.2 402.8,172.8 403.1,173.3 403.4,172.9 403.6,173.9 403.9,174.2 404.2,173.7 404.5,172.5 404.7,172.6 405,173.5 405.3,172.4 405.5,173.5 405.8,172.2 406.1,172.9 406.3,173.5 406.6,172.7 406.9,173.8 407.1,173.9 407.4,174.2 407.7,173.1 407.9,173.3 408.2,173.3 408.5,173.5 408.8,172.3 409,173.5 409.3,173.7 409.6,172.4 409.8,172.3 410.1,173.0 410.4,174.4 410.6,173.6 410.9,172.8 411.2,173.2 411.4,172.2 411.7,174.1 412,172.8 412.3,173.7 412.5,172.4 412.8,173.3 413.1,172.6 413.3,173.7 413.6,174.2 413.9,174.0 414.1,173.6 414.4,173.9 414.7,172.5 414.9,172.4 415.2,173.1 415.5,173.9 415.7,173.3 416,173.7 416.3,172.3 416.6,173.0 416.8,172.9 417.1,173.5 417.4,174.6 417.6,173.8 417.9,174.0 418.2,173.0 418.4,173.2 418.7,173.8 419,173.5 419.2,172.2 419.5,173.9 419.8,173.8 420,173.4 420.3,173.7 420.6,173.5 420.9,172.9 421.1,172.1 421.4,174.4 421.7,173.3 421.9,173.2 422.2,173.3 422.5,173.4 422.7,173.5 423,172.6 423.3,173.5 423.5,173.3 423.8,173.2 424.1,173.2 424.4,173.4 424.6,172.6 424.9,173.2 425.2,173.1 425.4,173.3 425.7,173.9 426,173.8 426.2,173.9 426.5,173.1 426.8,173.7 427,173.9 427.3,173.1 427.6,172.9 427.8,174.4 428.1,172.1 428.4,173.2 428.7,173.3 428.9,172.5 429.2,173.2 429.5,173.6 429.7,171.8 430,174.0 430.3,173.3 430.5,172.7 430.8,173.9 431.1,173.3 431.3,173.0 431.6,171.7 431.9,173.8 432.2,173.3 432.4,172.8 432.7,173.2 433,174.0 433.2,173.0 433.5,173.2 433.8,172.9 434,172.5 434.3,172.6 434.6,173.0 434.8,173.0 435.1,174.0 435.4,173.3 435.6,173.1 435.9,173.5 436.2,173.2 436.5,173.8 436.7,172.2 437,171.8 437.3,173.5 437.5,173.0 437.8,173.4 438.1,172.4 438.3,173.0 438.6,173.2 438.9,173.4 439.1,173.2 439.4,173.9 439.7,172.8 440,173.7 440.2,172.9 440.5,173.2 440.8,172.5 441,173.3 441.3,172.6 441.6,173.9 441.8,172.8 442.1,173.4 442.4,173.1 442.6,173.2 442.9,172.6 443.2,174.6 443.4,173.0 443.7,174.2 444,172.4 444.3,174.5 444.5,173.9 444.8,174.3 445.1,172.2 445.3,174.1 445.6,173.2 445.9,173.6 446.1,174.4 446.4,173.5 446.7,172.8 446.9,173.4 447.2,172.6 447.5,173.5 447.7,173.2 448,173.5 448.3,173.0 448.6,172.0 448.8,173.0 449.1,173.1 449.4,173.7 449.6,173.7 449.9,172.3 450.2,174.0 450.4,173.8 450.7,173.3 451,173.5 451.2,172.0 451.5,174.8 451.8,173.0 452.1,172.8 452.3,174.0 452.6,173.7 452.9,173.0 453.1,172.2 453.4,173.9 453.7,174.3 453.9,172.6 454.2,172.2 454.5,173.5 454.7,174.7 455,172.3 455.3,173.4 455.5,172.5 455.8,173.3 456.1,173.5 456.4,173.5 456.6,172.3 456.9,172.3 457.2,174.7 457.4,173.9 457.7,172.1 458,173.5 458.2,174.1 458.5,173.2 458.8,173.3 459,173.3 459.3,173.6 459.6,173.4 459.9,173.5 460.1,173.0 460.4,173.8 460.7,173.4 460.9,173.3 461.2,172.4 461.5,173.0 461.7,173.3 462,172.9 462.3,173.0 462.5,172.5 462.8,172.9 463.1,172.1 463.3,172.4 463.6,173.3 463.9,173.5 464.2,172.7 464.4,172.9 464.7,173.3 465,174.2 465.2,174.5 465.5,173.0 465.8,172.7 466,172.7 466.3,174.1 466.6,172.6 466.8,173.6 467.1,173.0 467.4,173.0 467.7,173.8 467.9,173.6 468.2,174.6 468.5,173.8 468.7,174.4 469,173.0 469.3,173.2 469.5,172.6 469.8,173.0 470.1,173.7 470.3,173.0 470.6,173.5 470.9,172.8 471.1,173.0 471.4,173.9 471.7,173.2 472,173.2 472.2,173.4 472.5,172.7 472.8,172.1 473,173.5 473.3,173.5 473.6,174.7 473.8,173.3 474.1,173.5 474.4,174.7 474.6,173.1 474.9,172.9 475.2,173.7 475.4,173.5 475.7,173.9 476,172.7 476.3,174.2 476.5,173.4 476.8,172.0 477.1,173.2 477.3,172.9 477.6,173.3 477.9,174.0 478.1,173.3 478.4,173.0 478.7,173.9 478.9,173.0 479.2,172.4 479.5,172.5 479.8,174.3 480,173.9 480.3,174.3 480.6,172.5 480.8,172.8 481.1,172.8 481.4,173.8 481.6,174.0 481.9,173.2 482.2,173.2 482.4,173.8 482.7,173.1 483,172.8 483.2,173.1 483.5,173.9 483.8,174.6 484.1,173.4 484.3,173.1 484.6,173.4 484.9,173.5 485.1,173.7 485.4,172.8 485.7,173.3 485.9,173.2 486.2,173.9 486.5,173.7 486.7,173.1 487,173.9 487.3,174.1 487.6,173.5 487.8,172.5 488.1,173.1 488.4,172.3 488.6,173.3 488.9,173.4 489.2,174.2 489.4,173.6 489.7,172.3 490,173.0 490.2,172.8 490.5,172.8 490.8,173.2 491,173.4 491.3,173.2 491.6,172.8 491.9,172.9 492.1,172.9 492.4,173.1 492.7,173.8 492.9,173.4 493.2,173.9 493.5,172.6 493.7,174.6 494,173.4 494.3,171.7 494.5,173.5 494.8,174.0 495.1,173.3 495.4,172.4 495.6,173.3 495.9,172.8 496.2,173.2 496.4,173.5 496.7,171.2 497,173.2 497.2,173.6 497.5,173.6 497.8,173.0 498,173.0 498.3,172.7 498.6,173.1 498.8,174.2 499.1,172.9 499.4,173.4 499.7,173.4 499.9,174.2 500.2,173.6 500.5,173.7 500.7,173.3 501,174.2 501.3,173.2 501.5,173.2 501.8,174.0 502.1,173.7 502.3,173.8 502.6,172.6 502.9,174.9 503.1,173.5 503.4,174.3 503.7,173.5 504,172.7 504.2,173.7 504.5,173.2 504.8,173.8 505,172.0 505.3,172.6 505.6,172.5 505.8,174.1 506.1,174.0 506.4,172.5 506.6,173.4 506.9,173.4 507.2,173.0 507.5,174.1 507.7,172.7 508,173.2 508.3,172.9 508.5,173.7 508.8,172.9 509.1,173.7 509.3,172.6 509.6,172.5 509.9,172.6 510.1,172.9 510.4,172.8 510.7,175.0 510.9,172.7 511.2,173.4 511.5,173.2 511.8,173.4 512,174.2 512.3,173.6 512.6,172.8 512.8,172.3 513.1,173.7 513.4,173.8 513.6,172.3 513.9,173.8 514.2,171.9 514.4,173.2 514.7,173.8 515,172.6 515.3,172.1 515.5,174.2 515.8,172.2 516.1,173.4 516.3,172.3 516.6,173.5 516.9,174.3 517.1,172.9 517.4,172.6 517.7,171.9 517.9,172.1 518.2,172.8 518.5,173.4 518.7,173.6 519,173.4 519.3,173.8 519.6,173.4 519.8,174.9 520.1,173.1 520.4,173.3 520.6,171.6 520.9,172.7 521.2,173.6 521.4,172.9 521.7,174.1 522,173.6 522.2,174.5 522.5,172.3 522.8,172.9 523.1,174.0 523.3,173.3 523.6,172.6 523.9,172.9 524.1,173.0 524.4,173.8 524.7,173.7 524.9,173.2 525.2,172.6 525.5,173.8 525.7,174.0 526,172.5 526.3,173.9 526.5,172.5 526.8,173.1 527.1,172.7 527.4,172.1 527.6,172.8 527.9,172.7 528.2,173.8 528.4,173.7 528.7,172.8 529,172.2 529.2,172.3 529.5,171.7 529.8,173.0 530,173.1 530.3,172.6 530.6,173.2 530.8,173.3 531.1,173.9 531.4,172.6 531.7,174.0 531.9,172.9 532.2,174.2 532.5,172.5 532.7,173.9 533,172.7 533.3,174.3 533.5,173.5 533.8,172.5 534.1,173.8 534.3,173.2 534.6,173.6 534.9,174.8 535.2,173.0 535.4,173.0 535.7,174.0 536,172.9 536.2,173.8 536.5,173.9 536.8,173.2 537,173.7 537.3,171.7 537.6,174.3 537.8,172.8 538.1,172.6 538.4,174.5 538.6,174.4 538.9,172.9 539.2,173.6 539.5,173.0 539.7,172.5 540,173.5 540.3,173.9 540.5,175.0 540.8,173.1 541.1,173.9 541.3,173.0 541.6,173.1 541.9,174.2 542.1,172.1 542.4,172.5 542.7,172.7 543,174.0 543.2,173.5 543.5,173.6 543.8,173.5 544,174.0 544.3,173.0 544.6,173.1 544.8,173.0 545.1,173.6 545.4,172.4 545.6,173.1 545.9,175.0 546.2,173.7 546.4,173.3 546.7,172.6 547,173.4 547.3,173.4 547.5,173.7 547.8,172.8 548.1,173.5 548.3,173.6 548.6,173.7 548.9,172.9 549.1,173.6 549.4,174.3 549.7,172.8 549.9,173.7 550.2,173.0 550.5,173.0 550.7,172.4 551,172.6 551.3,173.6 551.6,173.4 551.8,174.1 552.1,172.1 552.4,173.0 552.6,172.3 552.9,173.5 553.2,174.6 553.4,172.2 553.7,173.2 554,173.2 554.2,173.2 554.5,172.8 554.8,172.9 555.1,174.3 555.3,172.5 555.6,173.6 555.9,173.6 556.1,172.1 556.4,172.6 556.7,173.5 556.9,174.5 557.2,173.1 557.5,172.9 557.7,173.3 558,174.1 558.3,173.8 558.5,174.1 558.8,173.1 559.1,172.7 559.4,172.6 559.6,173.7 559.9,173.1 560.2,172.9 560.4,173.6 560.7,173.3 561,171.8 561.2,173.1 561.5,172.7 561.8,173.5 562,173.2 562.3,174.4 562.6,173.3 562.9,172.5 563.1,171.9 563.4,172.5 563.7,172.8 563.9,173.2 564.2,173.6 564.5,173.3 564.7,172.8 565,173.8 565.3,172.6 565.5,173.9 565.8,174.4 566.1,173.9 566.3,174.3 566.6,174.1 566.9,172.5 567.2,173.4 567.4,173.1 567.7,172.5 568,172.4 568.2,173.6 568.5,172.4 568.8,173.0 569,173.2 569.3,173.0 569.6,174.2 569.8,173.8 570.1,173.3 570.4,172.8 570.7,173.5 570.9,173.3 571.2,172.6 571.5,172.3 571.7,172.7 572,172.4 572.3,173.5 572.5,173.4 572.8,173.0 573.1,173.4 573.3,173.6 573.6,172.2 573.9,173.4 574.1,173.9 574.4,172.9 574.7,172.0 575,173.2 575.2,172.4 575.5,173.5 575.8,173.6 576,173.7 576.3,173.3 576.6,172.0 576.8,174.0 577.1,172.2 577.4,173.9 577.6,173.4 577.9,172.7 578.2,172.8 578.4,173.1 578.7,174.3 579,173.0" fill="none" stroke="#ee8a2e" stroke-width="0.9" stroke-linejoin="round" opacity="1.0"/>
<polyline points="364.1,172.3 364.4,172.3 364.7,172.3 365,172.3 365.3,172.3 365.6,172.3 366,172.3 366.3,172.3 366.6,172.3 366.9,172.3 367.2,172.3 367.5,172.3 367.8,172.3 368.1,172.3 368.4,172.4 368.7,172.3 369,172.3 369.3,172.3 369.6,172.3 370,172.3 370.3,172.3 370.6,172.3 370.9,172.3 371.2,172.3 371.5,172.3 371.8,172.3 372.1,172.3 372.4,172.3 372.7,172.2 373,172.3 373.3,172.2 373.6,172.3 373.9,172.3 374.3,172.3 374.6,172.2 374.9,172.2 375.2,172.2 375.5,172.3 375.8,172.2 376.1,172.3 376.4,172.2 376.7,172.1 377,172.2 377.3,172.2 377.6,172.1 377.9,172.2 378.3,172.1 378.6,172.1 378.9,172.1 379.2,172.1 379.5,172.1 379.8,172.1 380.1,172.1 380.4,172.0 380.7,172.0 381,172.0 381.3,172.2 381.6,172.0 381.9,171.9 382.2,172.0 382.6,172.1 382.9,172.0 383.2,171.9 383.5,172.0 383.8,171.9 384.1,171.8 384.4,171.7 384.7,171.8 385,171.8 385.3,171.8 385.6,171.6 385.9,171.6 386.2,171.7 386.6,171.7 386.9,171.7 387.2,171.5 387.5,171.6 387.8,171.4 388.1,171.4 388.4,171.4 388.7,171.3 389,171.3 389.3,171.4 389.6,171.3 389.9,171.0 390.2,171.3 390.5,171.2 390.9,171.0 391.2,171.0 391.5,171.1 391.8,171.1 392.1,170.8 392.4,170.7 392.7,170.6 393,170.7 393.3,170.5 393.6,170.7 393.9,170.5 394.2,170.5 394.5,170.3 394.9,170.2 395.2,170.1 395.5,170.3 395.8,169.9 396.1,170.1 396.4,170.1 396.7,169.8 397,170.0 397.3,169.6 397.6,169.5 397.9,169.5 398.2,169.3 398.5,169.3 398.8,169.1 399.2,169.3 399.5,168.9 399.8,169.0 400.1,168.8 400.4,168.6 400.7,168.4 401,168.7 401.3,168.5 401.6,168.2 401.9,167.9 402.2,167.8 402.5,167.5 402.8,167.3 403.2,167.3 403.5,167.3 403.8,167.3 404.1,167.2 404.4,166.9 404.7,166.6 405,166.4 405.3,166.3 405.6,166.2 405.9,165.8 406.2,165.7 406.5,165.5 406.8,165.3 407.1,165.4 407.5,165.3 407.8,164.7 408.1,164.5 408.4,164.5 408.7,164.3 409,163.4 409.3,164.0 409.6,163.6 409.9,163.3 410.2,163.5 410.5,162.8 410.8,162.2 411.1,162.1 411.5,162.0 411.8,161.7 412.1,161.6 412.4,161.1 412.7,161.2 413,161.0 413.3,160.6 413.6,160.0 413.9,159.9 414.2,159.6 414.5,160.3 414.8,158.8 415.1,158.1 415.4,158.2 415.8,158.4 416.1,158.4 416.4,157.6 416.7,157.8 417,156.8 417.3,157.0 417.6,156.1 417.9,155.6 418.2,156.7 418.5,155.3 418.8,155.4 419.1,155.4 419.4,154.7 419.8,154.2 420.1,153.3 420.4,154.1 420.7,152.6 421,151.9 421.3,152.1 421.6,151.7 421.9,151.6 422.2,151.8 422.5,150.6 422.8,150.3 423.1,149.8 423.4,148.7 423.7,149.0 424.1,148.7 424.4,147.9 424.7,148.8 425,148.3 425.3,147.5 425.6,147.3 425.9,146.3 426.2,146.3 426.5,145.0 426.8,144.7 427.1,144.6 427.4,144.7 427.7,143.9 428.1,143.4 428.4,143.8 428.7,142.7 429,142.2 429.3,141.9 429.6,141.0 429.9,140.7 430.2,141.2 430.5,140.3 430.8,140.4 431.1,139.3 431.4,139.6 431.7,138.3 432,138.1 432.4,137.4 432.7,137.5 433,137.8 433.3,135.8 433.6,136.2 433.9,135.1 434.2,135.1 434.5,134.6 434.8,133.6 435.1,133.9 435.4,133.0 435.7,134.0 436,132.4 436.4,132.5 436.7,132.0 437,131.5 437.3,130.9 437.6,129.9 437.9,131.4 438.2,129.8 438.5,129.9 438.8,128.5 439.1,128.9 439.4,128.0 439.7,128.0 440,127.1 440.3,126.5 440.7,126.8 441,126.2 441.3,126.7 441.6,125.2 441.9,124.6 442.2,124.9 442.5,123.7 442.8,125.1 443.1,124.6 443.4,123.9 443.7,123.0 444,122.3 444.3,122.0 444.7,121.6 445,120.8 445.3,121.1 445.6,121.3 445.9,120.9 446.2,118.6 446.5,120.9 446.8,119.1 447.1,117.9 447.4,118.1 447.7,118.5 448,117.6 448.3,116.8 448.6,116.3 449,117.2 449.3,115.9 449.6,115.8 449.9,115.1 450.2,114.6 450.5,115.3 450.8,115.7 451.1,114.2 451.4,113.2 451.7,113.5 452,113.4 452.3,111.9 452.6,113.7 453,112.2 453.3,112.8 453.6,112.1 453.9,111.8 454.2,110.7 454.5,112.0 454.8,111.4 455.1,111.9 455.4,110.3 455.7,110.6 456,109.8 456.3,110.6 456.6,109.8 456.9,108.8 457.3,109.3 457.6,108.6 457.9,108.4 458.2,108.7 458.5,109.4 458.8,107.5 459.1,107.8 459.4,107.1 459.7,108.9 460,108.5 460.3,108.7 460.6,107.6 460.9,106.2 461.3,106.3 461.6,106.5 461.9,106.2 462.2,105.7 462.5,106.2 462.8,105.6 463.1,105.7 463.4,107.2 463.7,105.8 464,104.6 464.3,105.5 464.6,105.2 464.9,105.5 465.2,105.3 465.6,104.2 465.9,104.9 466.2,105.4 466.5,106.8 466.8,104.9 467.1,105.8 467.4,105.7 467.7,103.8 468,103.8 468.3,105.6 468.6,103.6 468.9,103.8 469.2,104.6 469.6,103.6 469.9,105.1 470.2,104.8 470.5,105.0 470.8,104.7 471.1,103.4 471.4,104.9 471.7,104.7 472,104.6 472.3,103.8 472.6,104.2 472.9,103.4 473.2,104.5 473.5,104.9 473.9,104.4 474.2,104.0 474.5,104.8 474.8,104.0 475.1,103.2 475.4,104.7 475.7,104.3 476,103.6 476.3,104.9 476.6,105.2 476.9,105.4 477.2,104.5 477.5,104.5 477.9,105.0 478.2,105.0 478.5,104.4 478.8,104.8 479.1,106.4 479.4,105.5 479.7,105.6 480,105.3 480.3,106.1 480.6,106.5 480.9,106.5 481.2,107.6 481.5,106.5 481.8,107.1 482.2,106.5 482.5,107.7 482.8,107.5 483.1,108.0 483.4,108.3 483.7,107.3 484,108.2 484.3,107.9 484.6,109.1 484.9,108.5 485.2,109.9 485.5,109.3 485.8,109.5 486.2,109.1 486.5,109.5 486.8,110.0 487.1,109.6 487.4,110.2 487.7,110.3 488,110.4 488.3,111.1 488.6,111.5 488.9,111.4 489.2,112.2 489.5,111.9 489.8,111.8 490.1,112.2 490.5,113.2 490.8,114.1 491.1,113.6 491.4,113.9 491.7,113.6 492,114.7 492.3,114.9 492.6,114.7 492.9,115.7 493.2,115.8 493.5,115.1 493.8,115.6 494.1,116.3 494.5,116.9 494.8,118.0 495.1,117.4 495.4,118.0 495.7,118.2 496,119.0 496.3,119.1 496.6,119.5 496.9,119.6 497.2,119.4 497.5,120.3 497.8,121.9 498.1,121.9 498.4,122.6 498.8,122.5 499.1,122.1 499.4,122.5 499.7,123.5 500,123.4 500.3,124.4 500.6,125.2 500.9,125.5 501.2,125.6 501.5,124.8 501.8,126.7 502.1,125.6 502.4,126.0 502.8,127.2 503.1,127.5 503.4,128.2 503.7,128.3 504,128.4 504.3,129.1 504.6,129.0 504.9,129.4 505.2,130.2 505.5,130.6 505.8,131.2 506.1,131.4 506.4,132.7 506.7,132.3 507.1,132.8 507.4,133.8 507.7,132.8 508,134.7 508.3,135.1 508.6,134.9 508.9,136.5 509.2,136.3 509.5,137.2 509.8,137.3 510.1,137.2 510.4,137.4 510.7,137.5 511.1,138.1 511.4,138.4 511.7,139.0 512,140.0 512.3,139.7 512.6,140.8 512.9,141.3 513.2,140.8 513.5,141.5 513.8,142.2 514.1,142.4 514.4,142.8 514.7,144.3 515,144.0 515.4,145.0 515.7,144.7 516,145.6 516.3,145.1 516.6,145.8 516.9,146.9 517.2,146.9 517.5,147.9 517.8,147.6 518.1,147.8 518.4,148.4 518.7,149.8 519,149.4 519.4,149.5 519.7,149.9 520,150.0 520.3,151.5 520.6,151.0 520.9,151.9 521.2,151.9 521.5,152.2 521.8,152.5 522.1,153.4 522.4,153.4 522.7,154.4 523,154.8 523.3,154.3 523.7,154.9 524,156.0 524.3,156.0 524.6,155.9 524.9,155.7 525.2,156.2 525.5,156.6 525.8,158.1 526.1,157.6 526.4,157.7 526.7,158.1 527,158.4 527.3,159.0 527.7,158.6 528,159.0 528.3,159.8 528.6,160.4 528.9,159.7 529.2,160.9 529.5,160.6 529.8,160.6 530.1,161.8 530.4,161.7 530.7,162.1 531,162.1 531.3,162.4 531.6,162.3 532,162.9 532.3,163.3 532.6,163.2 532.9,163.9 533.2,164.1 533.5,163.7 533.8,164.7 534.1,164.8 534.4,164.9 534.7,165.4 535,166.0 535.3,165.3 535.6,166.0 536,166.1 536.3,166.3 536.6,166.6 536.9,166.8 537.2,166.7 537.5,166.4 537.8,166.9 538.1,167.1 538.4,167.8 538.7,167.6 539,168.0 539.3,167.8 539.6,168.1 539.9,168.2 540.3,168.4 540.6,168.7 540.9,169.0 541.2,168.7 541.5,169.2 541.8,169.3 542.1,169.3 542.4,169.5 542.7,169.4 543,169.4 543.3,169.7 543.6,169.8 543.9,169.9 544.3,169.9 544.6,170.5 544.9,170.2 545.2,170.5 545.5,170.7 545.8,170.6 546.1,170.7 546.4,170.7 546.7,170.7 547,171.3 547.3,171.0 547.6,170.9 547.9,171.1 548.2,171.1 548.6,171.3 548.9,171.6 549.2,171.6 549.5,171.5 549.8,171.5 550.1,171.8 550.4,171.8 550.7,171.8 551,172.1 551.3,172.0 551.6,171.9 551.9,171.9 552.2,172.1 552.6,172.0 552.9,172.3 553.2,172.4 553.5,172.6 553.8,172.3 554.1,172.5 554.4,172.3 554.7,172.5 555,172.5 555.3,172.8 555.6,172.5 555.9,172.7 556.2,172.7 556.5,172.9 556.9,172.7 557.2,172.7 557.5,172.9 557.8,172.9 558.1,172.9 558.4,172.9 558.7,173.0 559,172.9 559.3,173.0 559.6,173.1 559.9,173.1 560.2,173.3 560.5,173.2 560.9,173.1 561.2,173.2 561.5,173.2 561.8,173.2 562.1,173.4 562.4,173.3 562.7,173.2 563,173.3 563.3,173.3 563.6,173.3 563.9,173.3 564.2,173.4 564.5,173.3 564.8,173.5 565.2,173.5 565.5,173.4 565.8,173.4 566.1,173.4 566.4,173.5 566.7,173.5 567,173.4 567.3,173.4 567.6,173.5 567.9,173.6 568.2,173.5 568.5,173.5 568.8,173.5 569.2,173.5 569.5,173.5 569.8,173.6 570.1,173.6 570.4,173.7 570.7,173.6 571,173.6 571.3,173.6 571.6,173.6 571.9,173.7 572.2,173.6 572.5,173.7 572.8,173.7 573.1,173.6 573.5,173.7 573.8,173.7 574.1,173.7 574.4,173.7 574.7,173.6 575,173.7 575.3,173.7 575.6,173.7 575.9,173.7 576.2,173.7 576.5,173.7 576.8,173.7 577.1,173.7 577.5,173.8 577.8,173.8 578.1,173.8 578.4,173.7 578.7,173.8 579,173.8" fill="none" stroke="#1f7a4f" stroke-width="0.7" stroke-linejoin="round" opacity="1.0"/>
<polyline points="364.1,173.5 364.4,173.5 364.7,173.5 364.9,173.5 365.2,173.5 365.5,173.5 365.7,173.5 366,173.5 366.3,173.5 366.5,173.5 366.8,173.5 367.1,173.5 367.3,173.5 367.6,173.5 367.9,173.4 368.1,173.4 368.4,173.4 368.7,173.4 369,173.4 369.2,173.4 369.5,173.4 369.8,173.4 370,173.4 370.3,173.4 370.6,173.4 370.8,173.4 371.1,173.4 371.4,173.3 371.6,173.3 371.9,173.3 372.2,173.3 372.4,173.3 372.7,173.3 373,173.3 373.3,173.3 373.5,173.3 373.8,173.3 374.1,173.3 374.3,173.2 374.6,173.2 374.9,173.2 375.1,173.2 375.4,173.2 375.7,173.2 375.9,173.2 376.2,173.2 376.5,173.2 376.8,173.1 377,173.1 377.3,173.1 377.6,173.1 377.8,173.1 378.1,173.1 378.4,173.1 378.6,173.0 378.9,173.0 379.2,173.0 379.4,173.0 379.7,173.0 380,173.0 380.2,172.9 380.5,172.9 380.8,172.9 381.1,172.9 381.3,172.9 381.6,172.9 381.9,172.8 382.1,172.8 382.4,172.8 382.7,172.8 382.9,172.7 383.2,172.7 383.5,172.7 383.7,172.7 384,172.7 384.3,172.6 384.6,172.6 384.8,172.6 385.1,172.5 385.4,172.5 385.6,172.5 385.9,172.5 386.2,172.4 386.4,172.4 386.7,172.4 387,172.3 387.2,172.3 387.5,172.3 387.8,172.2 388,172.2 388.3,172.2 388.6,172.1 388.9,172.1 389.1,172.0 389.4,172.0 389.7,172.0 389.9,171.9 390.2,171.9 390.5,171.8 390.7,171.8 391,171.7 391.3,171.7 391.5,171.6 391.8,171.6 392.1,171.5 392.4,171.5 392.6,171.4 392.9,171.4 393.2,171.3 393.4,171.3 393.7,171.2 394,171.1 394.2,171.1 394.5,171.0 394.8,171.0 395,170.9 395.3,170.8 395.6,170.7 395.8,170.7 396.1,170.6 396.4,170.5 396.7,170.5 396.9,170.4 397.2,170.3 397.5,170.2 397.7,170.1 398,170.0 398.3,170.0 398.5,169.9 398.8,169.8 399.1,169.7 399.3,169.6 399.6,169.5 399.9,169.4 400.1,169.3 400.4,169.2 400.7,169.1 401,169.0 401.2,168.9 401.5,168.7 401.8,168.6 402,168.5 402.3,168.4 402.6,168.3 402.8,168.2 403.1,168.0 403.4,167.9 403.6,167.8 403.9,167.6 404.2,167.5 404.5,167.4 404.7,167.2 405,167.1 405.3,166.9 405.5,166.8 405.8,166.6 406.1,166.5 406.3,166.3 406.6,166.2 406.9,166.0 407.1,165.8 407.4,165.7 407.7,165.5 407.9,165.3 408.2,165.1 408.5,164.9 408.8,164.8 409,164.6 409.3,164.4 409.6,164.2 409.8,164.0 410.1,163.8 410.4,163.6 410.6,163.4 410.9,163.2 411.2,163.0 411.4,162.8 411.7,162.6 412,162.3 412.3,162.1 412.5,161.9 412.8,161.7 413.1,161.4 413.3,161.2 413.6,161.0 413.9,160.7 414.1,160.5 414.4,160.2 414.7,160.0 414.9,159.7 415.2,159.5 415.5,159.2 415.7,158.9 416,158.7 416.3,158.4 416.6,158.1 416.8,157.9 417.1,157.6 417.4,157.3 417.6,157.0 417.9,156.7 418.2,156.4 418.4,156.2 418.7,155.9 419,155.6 419.2,155.3 419.5,155.0 419.8,154.7 420,154.3 420.3,154.0 420.6,153.7 420.9,153.4 421.1,153.1 421.4,152.8 421.7,152.4 421.9,152.1 422.2,151.8 422.5,151.5 422.7,151.1 423,150.8 423.3,150.5 423.5,150.1 423.8,149.8 424.1,149.4 424.4,149.1 424.6,148.7 424.9,148.4 425.2,148.0 425.4,147.7 425.7,147.3 426,147.0 426.2,146.6 426.5,146.3 426.8,145.9 427,145.5 427.3,145.2 427.6,144.8 427.8,144.4 428.1,144.1 428.4,143.7 428.7,143.3 428.9,143.0 429.2,142.6 429.5,142.2 429.7,141.8 430,141.5 430.3,141.1 430.5,140.7 430.8,140.3 431.1,140.0 431.3,139.6 431.6,139.2 431.9,138.8 432.2,138.5 432.4,138.1 432.7,137.7 433,137.3 433.2,136.9 433.5,136.6 433.8,136.2 434,135.8 434.3,135.4 434.6,135.1 434.8,134.7 435.1,134.3 435.4,133.9 435.6,133.5 435.9,133.2 436.2,132.8 436.5,132.4 436.7,132.1 437,131.7 437.3,131.3 437.5,130.9 437.8,130.6 438.1,130.2 438.3,129.8 438.6,129.5 438.9,129.1 439.1,128.7 439.4,128.4 439.7,128.0 440,127.7 440.2,127.3 440.5,126.9 440.8,126.6 441,126.2 441.3,125.9 441.6,125.5 441.8,125.2 442.1,124.8 442.4,124.5 442.6,124.1 442.9,123.8 443.2,123.4 443.4,123.1 443.7,122.8 444,122.4 444.3,122.1 444.5,121.8 444.8,121.4 445.1,121.1 445.3,120.8 445.6,120.5 445.9,120.2 446.1,119.8 446.4,119.5 446.7,119.2 446.9,118.9 447.2,118.6 447.5,118.3 447.7,118.0 448,117.7 448.3,117.4 448.6,117.1 448.8,116.8 449.1,116.5 449.4,116.2 449.6,115.9 449.9,115.7 450.2,115.4 450.4,115.1 450.7,114.8 451,114.6 451.2,114.3 451.5,114.0 451.8,113.8 452.1,113.5 452.3,113.3 452.6,113.0 452.9,112.8 453.1,112.5 453.4,112.3 453.7,112.0 453.9,111.8 454.2,111.6 454.5,111.3 454.7,111.1 455,110.9 455.3,110.7 455.5,110.4 455.8,110.2 456.1,110.0 456.4,109.8 456.6,109.6 456.9,109.4 457.2,109.2 457.4,109.0 457.7,108.8 458,108.6 458.2,108.5 458.5,108.3 458.8,108.1 459,107.9 459.3,107.7 459.6,107.6 459.9,107.4 460.1,107.3 460.4,107.1 460.7,107.0 460.9,106.8 461.2,106.7 461.5,106.5 461.7,106.4 462,106.2 462.3,106.1 462.5,106.0 462.8,105.9 463.1,105.7 463.3,105.6 463.6,105.5 463.9,105.4 464.2,105.3 464.4,105.2 464.7,105.1 465,105.0 465.2,104.9 465.5,104.8 465.8,104.7 466,104.7 466.3,104.6 466.6,104.5 466.8,104.5 467.1,104.4 467.4,104.3 467.7,104.3 467.9,104.2 468.2,104.2 468.5,104.1 468.7,104.1 469,104.0 469.3,104.0 469.5,104.0 469.8,104.0 470.1,103.9 470.3,103.9 470.6,103.9 470.9,103.9 471.1,103.9 471.4,103.9 471.7,103.9 472,103.9 472.2,103.9 472.5,103.9 472.8,103.9 473,103.9 473.3,104.0 473.6,104.0 473.8,104.0 474.1,104.0 474.4,104.1 474.6,104.1 474.9,104.2 475.2,104.2 475.4,104.3 475.7,104.3 476,104.4 476.3,104.5 476.5,104.5 476.8,104.6 477.1,104.7 477.3,104.7 477.6,104.8 477.9,104.9 478.1,105.0 478.4,105.1 478.7,105.2 478.9,105.3 479.2,105.4 479.5,105.5 479.8,105.6 480,105.7 480.3,105.9 480.6,106.0 480.8,106.1 481.1,106.2 481.4,106.4 481.6,106.5 481.9,106.7 482.2,106.8 482.4,107.0 482.7,107.1 483,107.3 483.2,107.4 483.5,107.6 483.8,107.7 484.1,107.9 484.3,108.1 484.6,108.3 484.9,108.5 485.1,108.6 485.4,108.8 485.7,109.0 485.9,109.2 486.2,109.4 486.5,109.6 486.7,109.8 487,110.0 487.3,110.2 487.6,110.4 487.8,110.7 488.1,110.9 488.4,111.1 488.6,111.3 488.9,111.6 489.2,111.8 489.4,112.0 489.7,112.3 490,112.5 490.2,112.8 490.5,113.0 490.8,113.3 491,113.5 491.3,113.8 491.6,114.0 491.9,114.3 492.1,114.6 492.4,114.8 492.7,115.1 492.9,115.4 493.2,115.7 493.5,115.9 493.7,116.2 494,116.5 494.3,116.8 494.5,117.1 494.8,117.4 495.1,117.7 495.4,118.0 495.6,118.3 495.9,118.6 496.2,118.9 496.4,119.2 496.7,119.5 497,119.8 497.2,120.2 497.5,120.5 497.8,120.8 498,121.1 498.3,121.4 498.6,121.8 498.8,122.1 499.1,122.4 499.4,122.8 499.7,123.1 499.9,123.4 500.2,123.8 500.5,124.1 500.7,124.5 501,124.8 501.3,125.2 501.5,125.5 501.8,125.9 502.1,126.2 502.3,126.6 502.6,126.9 502.9,127.3 503.1,127.7 503.4,128.0 503.7,128.4 504,128.7 504.2,129.1 504.5,129.5 504.8,129.8 505,130.2 505.3,130.6 505.6,130.9 505.8,131.3 506.1,131.7 506.4,132.1 506.6,132.4 506.9,132.8 507.2,133.2 507.5,133.5 507.7,133.9 508,134.3 508.3,134.7 508.5,135.1 508.8,135.4 509.1,135.8 509.3,136.2 509.6,136.6 509.9,136.9 510.1,137.3 510.4,137.7 510.7,138.1 510.9,138.4 511.2,138.8 511.5,139.2 511.8,139.6 512,140.0 512.3,140.3 512.6,140.7 512.8,141.1 513.1,141.5 513.4,141.8 513.6,142.2 513.9,142.6 514.2,142.9 514.4,143.3 514.7,143.7 515,144.0 515.3,144.4 515.5,144.8 515.8,145.1 516.1,145.5 516.3,145.8 516.6,146.2 516.9,146.6 517.1,146.9 517.4,147.3 517.7,147.6 517.9,148.0 518.2,148.3 518.5,148.7 518.7,149.0 519,149.3 519.3,149.7 519.6,150.0 519.8,150.3 520.1,150.7 520.4,151.0 520.6,151.3 520.9,151.7 521.2,152.0 521.4,152.3 521.7,152.6 522,152.9 522.2,153.2 522.5,153.5 522.8,153.8 523.1,154.1 523.3,154.4 523.6,154.7 523.9,155.0 524.1,155.3 524.4,155.6 524.7,155.9 524.9,156.2 525.2,156.4 525.5,156.7 525.7,157.0 526,157.2 526.3,157.5 526.5,157.8 526.8,158.0 527.1,158.3 527.4,158.5 527.6,158.8 527.9,159.0 528.2,159.3 528.4,159.5 528.7,159.7 529,160.0 529.2,160.2 529.5,160.4 529.8,160.6 530,160.9 530.3,161.1 530.6,161.3 530.8,161.5 531.1,161.7 531.4,161.9 531.7,162.1 531.9,162.3 532.2,162.5 532.5,162.7 532.7,162.9 533,163.0 533.3,163.2 533.5,163.4 533.8,163.6 534.1,163.7 534.3,163.9 534.6,164.1 534.9,164.2 535.2,164.4 535.4,164.5 535.7,164.7 536,164.8 536.2,165.0 536.5,165.1 536.8,165.3 537,165.4 537.3,165.5 537.6,165.7 537.8,165.8 538.1,165.9 538.4,166.1 538.6,166.2 538.9,166.3 539.2,166.4 539.5,166.5 539.7,166.6 540,166.8 540.3,166.9 540.5,167.0 540.8,167.1 541.1,167.2 541.3,167.3 541.6,167.4 541.9,167.5 542.1,167.5 542.4,167.6 542.7,167.7 543,167.8 543.2,167.9 543.5,168.0 543.8,168.0 544,168.1 544.3,168.2 544.6,168.3 544.8,168.3 545.1,168.4 545.4,168.5 545.6,168.5 545.9,168.6 546.2,168.7 546.4,168.7 546.7,168.8 547,168.9 547.3,168.9 547.5,169.0 547.8,169.0 548.1,169.1 548.3,169.1 548.6,169.2 548.9,169.2 549.1,169.3 549.4,169.3 549.7,169.4 549.9,169.4 550.2,169.4 550.5,169.5 550.7,169.5 551,169.6 551.3,169.6 551.6,169.6 551.8,169.7 552.1,169.7 552.4,169.7 552.6,169.8 552.9,169.8 553.2,169.8 553.4,169.8 553.7,169.9 554,169.9 554.2,169.9 554.5,170.0 554.8,170.0 555.1,170.0 555.3,170.0 555.6,170.0 555.9,170.1 556.1,170.1 556.4,170.1 556.7,170.1 556.9,170.1 557.2,170.2 557.5,170.2 557.7,170.2 558,170.2 558.3,170.2 558.5,170.2 558.8,170.3 559.1,170.3 559.4,170.3 559.6,170.3 559.9,170.3 560.2,170.3 560.4,170.3 560.7,170.3 561,170.4 561.2,170.4 561.5,170.4 561.8,170.4 562,170.4 562.3,170.4 562.6,170.4 562.9,170.4 563.1,170.4 563.4,170.4 563.7,170.4 563.9,170.4 564.2,170.4 564.5,170.4 564.7,170.5 565,170.5 565.3,170.5 565.5,170.5 565.8,170.5 566.1,170.5 566.3,170.5 566.6,170.5 566.9,170.5 567.2,170.5 567.4,170.5 567.7,170.5 568,170.5 568.2,170.5 568.5,170.5 568.8,170.5 569,170.5 569.3,170.5 569.6,170.5 569.8,170.5 570.1,170.5 570.4,170.5 570.7,170.5 570.9,170.5 571.2,170.5 571.5,170.5 571.7,170.5 572,170.5 572.3,170.5 572.5,170.5 572.8,170.5 573.1,170.5 573.3,170.5 573.6,170.5 573.9,170.5 574.1,170.5 574.4,170.5 574.7,170.5 575,170.5 575.2,170.5 575.5,170.5 575.8,170.5 576,170.5 576.3,170.5 576.6,170.5 576.8,170.5 577.1,170.5 577.4,170.5 577.6,170.5 577.9,170.5 578.2,170.5 578.4,170.5 578.7,170.5 579,170.5" fill="none" stroke="#ec3489" stroke-width="0.9" stroke-linejoin="round" opacity="1.0"/>
<rect x="47.8" y="286" width="236.9" height="176" fill="none" stroke="#a6a6a6" stroke-width="1"/>
<text x="42.5" y="466.4" text-anchor="end" style="font-family:'Liberation Sans',sans-serif;font-style:normal;font-weight:normal;font-size:13px;fill:#231f20;stroke:#231f20;stroke-width:0.25px" >-3</text>
<line x1="47.8" y1="440" x2="50.8" y2="440" stroke="#8a8a8a" stroke-width="1"/>
<text x="42.5" y="444.4" text-anchor="end" style="font-family:'Liberation Sans',sans-serif;font-style:normal;font-weight:normal;font-size:13px;fill:#231f20;stroke:#231f20;stroke-width:0.25px" >0</text>
<line x1="47.8" y1="418" x2="50.8" y2="418" stroke="#8a8a8a" stroke-width="1"/>
<text x="42.5" y="422.4" text-anchor="end" style="font-family:'Liberation Sans',sans-serif;font-style:normal;font-weight:normal;font-size:13px;fill:#231f20;stroke:#231f20;stroke-width:0.25px" >3</text>
<line x1="47.8" y1="396" x2="50.8" y2="396" stroke="#8a8a8a" stroke-width="1"/>
<text x="42.5" y="400.4" text-anchor="end" style="font-family:'Liberation Sans',sans-serif;font-style:normal;font-weight:normal;font-size:13px;fill:#231f20;stroke:#231f20;stroke-width:0.25px" >6</text>
<line x1="47.8" y1="374" x2="50.8" y2="374" stroke="#8a8a8a" stroke-width="1"/>
<text x="42.5" y="378.4" text-anchor="end" style="font-family:'Liberation Sans',sans-serif;font-style:normal;font-weight:normal;font-size:13px;fill:#231f20;stroke:#231f20;stroke-width:0.25px" >9</text>
<line x1="47.8" y1="352" x2="50.8" y2="352" stroke="#8a8a8a" stroke-width="1"/>
<path d="M515 0L696 0L696 1409L530 1409Q420 1260 197 1180L197 1010Q400 1080 515 1237Z" transform="translate(28.04,356.4) scale(0.00635,-0.00635)" fill="#231f20" stroke="#231f20" stroke-width="0.25" vector-effect="non-scaling-stroke"/>
<text x="35.27" y="356.4" style="font-family:'Liberation Sans',sans-serif;font-style:normal;font-weight:normal;font-size:13px;fill:#231f20;stroke:#231f20;stroke-width:0.25px" >2</text>
<line x1="47.8" y1="330" x2="50.8" y2="330" stroke="#8a8a8a" stroke-width="1"/>
<path d="M515 0L696 0L696 1409L530 1409Q420 1260 197 1180L197 1010Q400 1080 515 1237Z" transform="translate(28.04,334.4) scale(0.00635,-0.00635)" fill="#231f20" stroke="#231f20" stroke-width="0.25" vector-effect="non-scaling-stroke"/>
<text x="35.27" y="334.4" style="font-family:'Liberation Sans',sans-serif;font-style:normal;font-weight:normal;font-size:13px;fill:#231f20;stroke:#231f20;stroke-width:0.25px" >5</text>
<line x1="47.8" y1="308" x2="50.8" y2="308" stroke="#8a8a8a" stroke-width="1"/>
<path d="M515 0L696 0L696 1409L530 1409Q420 1260 197 1180L197 1010Q400 1080 515 1237Z" transform="translate(28.04,312.4) scale(0.00635,-0.00635)" fill="#231f20" stroke="#231f20" stroke-width="0.25" vector-effect="non-scaling-stroke"/>
<text x="35.27" y="312.4" style="font-family:'Liberation Sans',sans-serif;font-style:normal;font-weight:normal;font-size:13px;fill:#231f20;stroke:#231f20;stroke-width:0.25px" >8</text>
<text x="28.04" y="290.4" style="font-family:'Liberation Sans',sans-serif;font-style:normal;font-weight:normal;font-size:13px;fill:#231f20;stroke:#231f20;stroke-width:0.25px" >2</text>
<path d="M515 0L696 0L696 1409L530 1409Q420 1260 197 1180L197 1010Q400 1080 515 1237Z" transform="translate(35.27,290.4) scale(0.00635,-0.00635)" fill="#231f20" stroke="#231f20" stroke-width="0.25" vector-effect="non-scaling-stroke"/>
<line x1="80.1" y1="462" x2="80.1" y2="459" stroke="#8a8a8a" stroke-width="1"/>
<path d="M515 0L696 0L696 1409L530 1409Q420 1260 197 1180L197 1010Q400 1080 515 1237Z" transform="translate(71.56,477.2) scale(0.00635,-0.00635)" fill="#231f20" stroke="#231f20" stroke-width="0.25" vector-effect="non-scaling-stroke"/>
<text x="78.79" y="477.2" style="font-family:'Liberation Sans',sans-serif;font-style:normal;font-weight:normal;font-size:13px;fill:#231f20;stroke:#231f20;stroke-width:0.25px" >.6</text>
<line x1="123.15" y1="462" x2="123.15" y2="459" stroke="#8a8a8a" stroke-width="1"/>
<path d="M515 0L696 0L696 1409L530 1409Q420 1260 197 1180L197 1010Q400 1080 515 1237Z" transform="translate(114.61,477.2) scale(0.00635,-0.00635)" fill="#231f20" stroke="#231f20" stroke-width="0.25" vector-effect="non-scaling-stroke"/>
<text x="121.84" y="477.2" style="font-family:'Liberation Sans',sans-serif;font-style:normal;font-weight:normal;font-size:13px;fill:#231f20;stroke:#231f20;stroke-width:0.25px" >.8</text>
<line x1="166.2" y1="462" x2="166.2" y2="459" stroke="#8a8a8a" stroke-width="1"/>
<text x="166.7" y="477.2" text-anchor="middle" style="font-family:'Liberation Sans',sans-serif;font-style:normal;font-weight:normal;font-size:13px;fill:#231f20;stroke:#231f20;stroke-width:0.25px" >2.0</text>
<line x1="209.25" y1="462" x2="209.25" y2="459" stroke="#8a8a8a" stroke-width="1"/>
<text x="209.75" y="477.2" text-anchor="middle" style="font-family:'Liberation Sans',sans-serif;font-style:normal;font-weight:normal;font-size:13px;fill:#231f20;stroke:#231f20;stroke-width:0.25px" >2.2</text>
<line x1="252.3" y1="462" x2="252.3" y2="459" stroke="#8a8a8a" stroke-width="1"/>
<text x="252.8" y="477.2" text-anchor="middle" style="font-family:'Liberation Sans',sans-serif;font-style:normal;font-weight:normal;font-size:13px;fill:#231f20;stroke:#231f20;stroke-width:0.25px" >2.4</text>
<text x="167.75" y="496.6" text-anchor="middle" style="font-family:'Liberation Sans',sans-serif;font-style:normal;font-weight:normal;font-size:13.9px;fill:#231f20;stroke:#231f20;stroke-width:0.25px" textLength="102.4" lengthAdjust="spacingAndGlyphs">Frequency (MHz)</text>
<text transform="translate(16.5,374) rotate(-90)" text-anchor="middle" textLength="103.2" lengthAdjust="spacingAndGlyphs" style="font-family:'Liberation Sans',sans-serif;font-size:13.6px;fill:#231f20;stroke:#231f20;stroke-width:0.25px">Noise power (dB)</text>
<text x="6.05" y="287.2" style="font-family:'Liberation Sans',sans-serif;font-style:normal;font-weight:bold;font-size:18px;fill:#000;stroke:#000;stroke-width:0.25px" >c</text>
<polyline points="58.6,430.0 58.8,429.3 59.1,429.7 59.4,429.5 59.7,430.3 59.9,429.2 60.2,429.5 60.5,429.4 60.7,429.2 61,429.7 61.3,429.7 61.5,429.4 61.8,429.5 62.1,429.7 62.3,429.6 62.6,429.8 62.9,429.4 63.2,429.3 63.4,429.6 63.7,429.0 64,430.1 64.2,429.7 64.5,429.0 64.8,429.7 65,430.1 65.3,429.1 65.6,429.4 65.8,430.0 66.1,429.3 66.4,429.9 66.7,430.0 66.9,429.7 67.2,429.8 67.5,430.0 67.7,429.7 68,429.9 68.3,429.6 68.5,429.6 68.8,429.4 69.1,429.8 69.4,430.0 69.6,430.0 69.9,429.7 70.2,429.1 70.4,429.3 70.7,429.8 71,429.3 71.2,430.0 71.5,429.3 71.8,429.7 72,429.3 72.3,429.4 72.6,429.7 72.9,429.5 73.1,430.0 73.4,429.6 73.7,429.2 73.9,428.2 74.2,429.4 74.5,429.6 74.7,429.9 75,429.3 75.3,430.2 75.5,429.9 75.8,429.5 76.1,430.0 76.4,429.1 76.6,429.2 76.9,429.8 77.2,429.8 77.4,430.0 77.7,430.1 78,429.5 78.2,429.4 78.5,429.5 78.8,429.5 79,429.8 79.3,429.5 79.6,430.1 79.9,429.6 80.1,429.1 80.4,429.2 80.7,429.8 80.9,429.7 81.2,429.1 81.5,429.0 81.7,430.1 82,429.7 82.3,429.5 82.6,429.2 82.8,429.9 83.1,429.4 83.4,429.7 83.6,428.8 83.9,429.5 84.2,429.6 84.4,429.7 84.7,429.3 85,429.4 85.2,430.0 85.5,429.5 85.8,430.0 86.1,429.9 86.3,430.0 86.6,430.0 86.9,429.8 87.1,429.9 87.4,429.4 87.7,429.3 87.9,429.7 88.2,430.0 88.5,429.3 88.7,430.3 89,430.2 89.3,429.4 89.6,429.4 89.8,429.3 90.1,429.7 90.4,430.0 90.6,429.8 90.9,429.4 91.2,429.9 91.4,429.8 91.7,430.1 92,430.0 92.2,429.3 92.5,429.5 92.8,430.0 93.1,430.0 93.3,429.8 93.6,429.4 93.9,430.0 94.1,429.7 94.4,430.3 94.7,430.0 94.9,429.5 95.2,429.3 95.5,430.0 95.8,429.9 96,429.3 96.3,429.7 96.6,429.8 96.8,429.4 97.1,429.5 97.4,429.2 97.6,429.3 97.9,429.8 98.2,429.6 98.4,429.6 98.7,430.1 99,429.9 99.3,429.3 99.5,430.1 99.8,429.3 100.1,429.5 100.3,429.6 100.6,429.4 100.9,429.4 101.1,429.2 101.4,429.7 101.7,429.7 101.9,429.7 102.2,429.0 102.5,429.3 102.8,429.9 103,429.7 103.3,429.8 103.6,429.6 103.8,429.5 104.1,428.8 104.4,430.2 104.6,429.3 104.9,429.5 105.2,429.8 105.5,429.6 105.7,429.8 106,429.6 106.3,429.3 106.5,430.1 106.8,429.2 107.1,429.7 107.3,429.1 107.6,429.5 107.9,429.2 108.1,429.4 108.4,429.2 108.7,429.6 109,429.9 109.2,429.4 109.5,429.4 109.8,428.9 110,430.3 110.3,429.7 110.6,429.2 110.8,430.0 111.1,429.7 111.4,428.9 111.6,429.1 111.9,429.9 112.2,429.1 112.5,429.2 112.7,429.3 113,429.5 113.3,429.5 113.5,429.9 113.8,429.8 114.1,429.4 114.3,429.6 114.6,429.0 114.9,429.7 115.1,430.4 115.4,429.7 115.7,429.5 116,429.5 116.2,429.6 116.5,429.9 116.8,429.1 117,429.8 117.3,429.4 117.6,429.7 117.8,430.0 118.1,429.1 118.4,430.4 118.7,429.9 118.9,429.5 119.2,429.7 119.5,429.3 119.7,429.6 120,429.7 120.3,428.9 120.5,429.7 120.8,429.6 121.1,430.0 121.3,429.8 121.6,429.4 121.9,429.4 122.2,429.6 122.4,429.8 122.7,429.4 123,430.2 123.2,429.7 123.5,429.7 123.8,429.9 124,429.5 124.3,429.8 124.6,429.9 124.8,429.0 125.1,429.3 125.4,429.2 125.7,429.6 125.9,429.3 126.2,429.3 126.5,429.2 126.7,428.8 127,429.7 127.3,429.5 127.5,429.6 127.8,430.8 128.1,430.1 128.3,429.6 128.6,429.4 128.9,429.8 129.2,429.2 129.4,429.2 129.7,429.7 130,429.1 130.2,429.0 130.5,429.4 130.8,429.9 131,429.1 131.3,429.6 131.6,429.7 131.9,429.5 132.1,429.8 132.4,429.2 132.7,429.3 132.9,429.2 133.2,429.4 133.5,429.8 133.7,429.6 134,429.3 134.3,429.7 134.5,428.6 134.8,429.7 135.1,429.8 135.4,429.2 135.6,429.3 135.9,429.6 136.2,429.7 136.4,429.4 136.7,429.3 137,429.3 137.2,429.7 137.5,429.4 137.8,429.3 138,429.3 138.3,430.6 138.6,429.9 138.9,429.8 139.1,429.7 139.4,429.5 139.7,429.3 139.9,429.4 140.2,429.6 140.5,429.6 140.7,429.0 141,429.8 141.3,429.5 141.5,429.1 141.8,429.5 142.1,430.3 142.4,429.5 142.6,429.7 142.9,429.6 143.2,429.2 143.4,429.4 143.7,429.7 144,429.3 144.2,429.4 144.5,429.6 144.8,429.5 145.1,429.5 145.3,429.7 145.6,429.7 145.9,429.6 146.1,429.9 146.4,430.0 146.7,429.2 146.9,429.7 147.2,429.6 147.5,429.6 147.7,429.6 148,429.6 148.3,429.6 148.6,429.9 148.8,429.3 149.1,429.8 149.4,429.2 149.6,430.2 149.9,429.9 150.2,429.3 150.4,429.6 150.7,429.8 151,429.5 151.2,429.9 151.5,429.6 151.8,430.3 152.1,429.7 152.3,429.8 152.6,429.4 152.9,429.3 153.1,429.9 153.4,429.1 153.7,429.8 153.9,430.3 154.2,430.4 154.5,429.1 154.8,429.6 155,429.8 155.3,429.8 155.6,429.9 155.8,429.1 156.1,429.6 156.4,429.0 156.6,429.7 156.9,430.4 157.2,429.3 157.4,429.7 157.7,429.7 158,429.1 158.3,429.7 158.5,429.2 158.8,429.6 159.1,429.8 159.3,429.4 159.6,429.8 159.9,429.2 160.1,429.3 160.4,429.6 160.7,429.4 160.9,429.4 161.2,429.7 161.5,429.3 161.8,429.7 162,429.4 162.3,429.9 162.6,429.6 162.8,429.4 163.1,429.8 163.4,429.7 163.6,429.8 163.9,429.3 164.2,429.8 164.4,429.4 164.7,429.1 165,429.5 165.3,430.1 165.5,429.5 165.8,429.2 166.1,429.7 166.3,429.2 166.6,429.4 166.9,429.4 167.1,429.7 167.4,429.8 167.7,429.7 168,429.6 168.2,429.4 168.5,429.4 168.8,429.7 169,429.6 169.3,429.5 169.6,430.1 169.8,429.8 170.1,429.8 170.4,429.7 170.6,429.7 170.9,429.7 171.2,429.9 171.5,429.4 171.7,429.5 172,430.1 172.3,429.6 172.5,430.0 172.8,429.0 173.1,429.7 173.3,429.7 173.6,429.6 173.9,429.6 174.1,429.6 174.4,429.1 174.7,429.5 175,429.3 175.2,429.2 175.5,429.9 175.8,429.0 176,429.4 176.3,429.3 176.6,429.9 176.8,429.3 177.1,429.4 177.4,429.8 177.6,428.8 177.9,429.4 178.2,429.7 178.5,429.5 178.7,429.3 179,429.2 179.3,429.4 179.5,429.2 179.8,429.1 180.1,430.0 180.3,429.7 180.6,429.9 180.9,429.5 181.2,429.1 181.4,429.4 181.7,429.9 182,429.7 182.2,429.2 182.5,429.8 182.8,429.6 183,429.5 183.3,430.2 183.6,429.3 183.8,429.5 184.1,429.4 184.4,429.9 184.7,429.8 184.9,429.8 185.2,429.5 185.5,429.6 185.7,429.5 186,429.0 186.3,429.1 186.5,429.8 186.8,429.8 187.1,429.0 187.3,429.7 187.6,429.1 187.9,429.1 188.2,429.8 188.4,429.7 188.7,429.6 189,429.9 189.2,429.9 189.5,429.7 189.8,429.3 190,429.7 190.3,429.6 190.6,429.7 190.9,430.0 191.1,429.1 191.4,430.4 191.7,429.8 191.9,429.4 192.2,430.0 192.5,429.4 192.7,429.2 193,429.9 193.3,429.5 193.5,429.9 193.8,429.4 194.1,429.6 194.4,429.5 194.6,429.1 194.9,429.4 195.2,429.1 195.4,429.4 195.7,430.0 196,429.5 196.2,429.4 196.5,430.1 196.8,429.1 197,429.6 197.3,429.5 197.6,429.9 197.9,429.6 198.1,429.5 198.4,429.7 198.7,429.6 198.9,430.3 199.2,429.1 199.5,429.9 199.7,430.3 200,429.9 200.3,429.9 200.5,429.4 200.8,429.9 201.1,429.5 201.4,429.9 201.6,428.9 201.9,429.4 202.2,428.9 202.4,429.9 202.7,429.4 203,429.9 203.2,429.4 203.5,429.4 203.8,430.1 204.1,430.0 204.3,430.0 204.6,430.1 204.9,429.8 205.1,429.9 205.4,430.1 205.7,429.5 205.9,429.4 206.2,430.0 206.5,429.8 206.7,429.6 207,429.7 207.3,429.8 207.6,429.3 207.8,429.3 208.1,429.4 208.4,429.7 208.6,428.9 208.9,429.0 209.2,429.7 209.4,429.6 209.7,429.2 210,429.8 210.2,429.5 210.5,429.6 210.8,429.8 211.1,429.7 211.3,430.1 211.6,429.8 211.9,430.2 212.1,428.8 212.4,429.1 212.7,429.2 212.9,429.5 213.2,429.3 213.5,429.2 213.7,429.2 214,429.3 214.3,429.9 214.6,429.4 214.8,429.8 215.1,430.0 215.4,430.0 215.6,429.4 215.9,429.2 216.2,430.0 216.4,429.0 216.7,429.1 217,429.7 217.3,429.7 217.5,429.6 217.8,429.3 218.1,429.7 218.3,430.0 218.6,429.5 218.9,430.3 219.1,429.5 219.4,429.2 219.7,429.5 219.9,429.3 220.2,429.4 220.5,429.3 220.8,429.5 221,429.9 221.3,429.7 221.6,429.6 221.8,429.2 222.1,429.1 222.4,429.4 222.6,429.8 222.9,429.8 223.2,429.6 223.4,429.1 223.7,429.5 224,429.6 224.3,429.8 224.5,429.3 224.8,429.5 225.1,429.6 225.3,429.6 225.6,429.0 225.9,429.6 226.1,429.0 226.4,429.2 226.7,429.6 226.9,429.3 227.2,429.6 227.5,429.9 227.8,429.7 228,429.9 228.3,429.4 228.6,429.6 228.8,429.4 229.1,429.3 229.4,430.6 229.6,429.5 229.9,430.2 230.2,429.5 230.5,429.9 230.7,429.6 231,429.1 231.3,430.2 231.5,429.5 231.8,429.6 232.1,430.2 232.3,429.4 232.6,429.6 232.9,429.8 233.1,429.8 233.4,428.5 233.7,429.7 234,430.2 234.2,429.9 234.5,429.7 234.8,429.7 235,429.6 235.3,429.9 235.6,429.4 235.8,429.7 236.1,430.0 236.4,429.9 236.6,429.7 236.9,429.3 237.2,429.4 237.5,429.7 237.7,429.6 238,429.5 238.3,428.9 238.5,429.8 238.8,429.4 239.1,429.3 239.3,429.9 239.6,429.5 239.9,429.5 240.2,429.7 240.4,429.4 240.7,429.2 241,429.2 241.2,429.6 241.5,429.5 241.8,428.8 242,430.0 242.3,429.5 242.6,429.3 242.8,429.5 243.1,429.4 243.4,429.5 243.7,429.3 243.9,429.2 244.2,429.7 244.5,429.5 244.7,429.6 245,429.7 245.3,429.6 245.5,430.0 245.8,429.3 246.1,429.0 246.3,429.0 246.6,429.2 246.9,429.9 247.2,429.1 247.4,429.8 247.7,429.6 248,429.0 248.2,429.9 248.5,429.3 248.8,429.5 249,429.6 249.3,429.9 249.6,429.4 249.8,429.7 250.1,429.2 250.4,429.2 250.7,430.0 250.9,429.8 251.2,429.7 251.5,430.0 251.7,430.0 252,429.6 252.3,429.7 252.5,430.1 252.8,429.8 253.1,429.4 253.4,430.0 253.6,429.9 253.9,429.1 254.2,429.2 254.4,430.1 254.7,430.0 255,429.5 255.2,430.0 255.5,429.7 255.8,429.7 256,429.4 256.3,430.4 256.6,430.3 256.9,430.0 257.1,429.3 257.4,429.6 257.7,430.2 257.9,429.4 258.2,429.4 258.5,429.7 258.7,429.7 259,429.4 259.3,429.2 259.5,429.5 259.8,429.4 260.1,429.6 260.4,429.7 260.6,429.9 260.9,429.5 261.2,429.7 261.4,429.7 261.7,429.3 262,429.4 262.2,429.3 262.5,430.1 262.8,429.4 263,429.8 263.3,429.9 263.6,429.9 263.9,429.2 264.1,429.3 264.4,429.8 264.7,430.0 264.9,429.6 265.2,429.7 265.5,429.0 265.7,430.1 266,430.2 266.3,429.7 266.6,429.6 266.8,429.5 267.1,429.3 267.4,428.9 267.6,429.7 267.9,429.8 268.2,430.2 268.4,429.5 268.7,429.3 269,429.7 269.2,429.2 269.5,429.6 269.8,429.1 270.1,429.5 270.3,429.9 270.6,429.8 270.9,430.1 271.1,430.2 271.4,429.5 271.7,429.3 271.9,428.9 272.2,429.6 272.5,429.7 272.7,430.0 273,429.3 273.3,429.5 273.6,429.8 273.8,429.4" fill="none" stroke="#b8233a" stroke-width="0.85" stroke-linejoin="round" opacity="1.0"/>
<polyline points="58.6,439.8 58.8,440.7 59.1,439.7 59.4,440.0 59.7,440.1 59.9,440.2 60.2,439.4 60.5,439.4 60.7,439.3 61,440.4 61.3,440.2 61.5,439.7 61.8,440.4 62.1,440.3 62.3,440.7 62.6,439.3 62.9,439.6 63.2,439.8 63.4,439.9 63.7,440.2 64,440.1 64.2,439.8 64.5,440.3 64.8,439.5 65,440.2 65.3,440.3 65.6,439.5 65.8,440.1 66.1,439.8 66.4,440.2 66.7,440.8 66.9,439.8 67.2,440.5 67.5,439.6 67.7,440.6 68,440.7 68.3,439.9 68.5,439.8 68.8,440.0 69.1,440.4 69.4,439.7 69.6,440.5 69.9,440.2 70.2,440.3 70.4,440.1 70.7,439.7 71,440.2 71.2,439.8 71.5,439.7 71.8,440.6 72,440.4 72.3,440.1 72.6,440.2 72.9,439.9 73.1,440.7 73.4,439.7 73.7,439.7 73.9,440.1 74.2,440.5 74.5,440.0 74.7,440.2 75,439.8 75.3,440.0 75.5,439.7 75.8,440.2 76.1,439.5 76.4,440.8 76.6,440.4 76.9,439.8 77.2,440.6 77.4,439.7 77.7,440.4 78,440.0 78.2,440.3 78.5,440.2 78.8,439.9 79,440.0 79.3,440.1 79.6,439.2 79.9,440.0 80.1,440.4 80.4,439.7 80.7,439.7 80.9,439.6 81.2,439.3 81.5,440.3 81.7,439.6 82,439.6 82.3,440.0 82.6,439.9 82.8,441.1 83.1,440.2 83.4,439.3 83.6,440.7 83.9,440.2 84.2,439.9 84.4,439.8 84.7,439.4 85,440.6 85.2,440.0 85.5,439.7 85.8,440.5 86.1,440.0 86.3,439.3 86.6,439.5 86.9,439.8 87.1,441.0 87.4,440.0 87.7,439.9 87.9,440.1 88.2,440.0 88.5,438.9 88.7,440.1 89,440.4 89.3,439.9 89.6,440.1 89.8,440.1 90.1,440.0 90.4,439.7 90.6,439.9 90.9,440.4 91.2,440.0 91.4,439.8 91.7,440.2 92,439.6 92.2,439.7 92.5,440.4 92.8,439.9 93.1,439.3 93.3,439.4 93.6,440.0 93.9,439.7 94.1,440.2 94.4,440.5 94.7,439.8 94.9,439.9 95.2,439.8 95.5,440.0 95.8,439.9 96,440.2 96.3,439.8 96.6,439.7 96.8,440.0 97.1,439.7 97.4,440.6 97.6,440.3 97.9,439.5 98.2,439.4 98.4,439.9 98.7,440.0 99,440.5 99.3,439.9 99.5,439.7 99.8,440.5 100.1,439.8 100.3,439.8 100.6,439.8 100.9,440.4 101.1,439.8 101.4,440.5 101.7,439.5 101.9,440.0 102.2,440.4 102.5,439.5 102.8,439.6 103,440.2 103.3,439.2 103.6,440.4 103.8,439.9 104.1,439.6 104.4,440.8 104.6,439.6 104.9,440.0 105.2,440.0 105.5,440.4 105.7,439.9 106,440.4 106.3,440.4 106.5,440.2 106.8,440.5 107.1,439.4 107.3,440.5 107.6,440.3 107.9,440.1 108.1,440.0 108.4,439.7 108.7,439.7 109,440.1 109.2,440.1 109.5,440.0 109.8,439.7 110,439.7 110.3,440.2 110.6,440.8 110.8,439.2 111.1,439.7 111.4,439.9 111.6,439.9 111.9,440.2 112.2,440.4 112.5,440.1 112.7,440.1 113,440.2 113.3,440.5 113.5,440.1 113.8,439.8 114.1,440.2 114.3,440.0 114.6,440.8 114.9,440.1 115.1,440.0 115.4,440.4 115.7,440.6 116,439.8 116.2,440.3 116.5,439.8 116.8,440.2 117,439.8 117.3,440.1 117.6,440.6 117.8,440.0 118.1,440.1 118.4,439.8 118.7,440.2 118.9,440.1 119.2,439.7 119.5,439.6 119.7,439.7 120,439.6 120.3,439.8 120.5,439.7 120.8,439.7 121.1,439.9 121.3,440.0 121.6,439.9 121.9,439.1 122.2,440.0 122.4,440.1 122.7,440.1 123,440.0 123.2,439.9 123.5,440.4 123.8,440.7 124,439.9 124.3,440.6 124.6,439.9 124.8,439.9 125.1,439.6 125.4,439.4 125.7,439.9 125.9,440.2 126.2,440.4 126.5,440.3 126.7,440.0 127,440.8 127.3,440.0 127.5,440.0 127.8,439.8 128.1,440.1 128.3,440.0 128.6,440.3 128.9,440.2 129.2,440.7 129.4,440.0 129.7,439.4 130,439.9 130.2,439.9 130.5,440.4 130.8,439.5 131,440.3 131.3,439.7 131.6,440.0 131.9,440.4 132.1,439.6 132.4,440.0 132.7,439.9 132.9,439.8 133.2,440.0 133.5,440.1 133.7,439.8 134,440.1 134.3,440.0 134.5,440.2 134.8,440.5 135.1,440.2 135.4,440.2 135.6,440.0 135.9,439.6 136.2,440.6 136.4,440.0 136.7,440.8 137,440.4 137.2,440.2 137.5,440.8 137.8,440.7 138,439.9 138.3,440.0 138.6,440.0 138.9,440.3 139.1,439.2 139.4,440.1 139.7,440.3 139.9,439.4 140.2,439.8 140.5,440.1 140.7,439.6 141,439.9 141.3,439.8 141.5,439.9 141.8,440.4 142.1,439.6 142.4,439.9 142.6,440.4 142.9,440.3 143.2,439.6 143.4,440.1 143.7,440.0 144,439.8 144.2,440.0 144.5,440.6 144.8,439.8 145.1,439.7 145.3,439.7 145.6,439.4 145.9,439.9 146.1,439.7 146.4,439.4 146.7,440.1 146.9,439.4 147.2,439.4 147.5,439.7 147.7,439.3 148,439.7 148.3,440.3 148.6,439.6 148.8,439.9 149.1,439.8 149.4,439.9 149.6,439.5 149.9,439.8 150.2,440.3 150.4,439.8 150.7,439.7 151,440.3 151.2,440.2 151.5,440.1 151.8,440.2 152.1,439.9 152.3,439.6 152.6,439.3 152.9,439.6 153.1,439.6 153.4,439.6 153.7,439.5 153.9,440.1 154.2,439.7 154.5,439.9 154.8,440.0 155,440.2 155.3,440.2 155.6,440.1 155.8,440.5 156.1,439.8 156.4,440.0 156.6,440.0 156.9,439.9 157.2,439.7 157.4,440.2 157.7,440.0 158,440.6 158.3,440.8 158.5,440.7 158.8,439.4 159.1,440.7 159.3,439.8 159.6,439.5 159.9,440.2 160.1,439.4 160.4,439.3 160.7,439.7 160.9,439.1 161.2,439.8 161.5,440.3 161.8,439.8 162,440.2 162.3,440.5 162.6,440.5 162.8,439.2 163.1,440.2 163.4,440.0 163.6,440.2 163.9,439.9 164.2,440.1 164.4,440.1 164.7,440.4 165,440.5 165.3,440.3 165.5,439.9 165.8,439.2 166.1,439.6 166.3,439.3 166.6,439.8 166.9,440.0 167.1,440.5 167.4,440.0 167.7,440.8 168,440.1 168.2,439.4 168.5,439.9 168.8,439.6 169,440.1 169.3,440.5 169.6,440.2 169.8,440.1 170.1,439.6 170.4,439.3 170.6,440.3 170.9,440.1 171.2,440.0 171.5,440.1 171.7,440.4 172,440.0 172.3,439.9 172.5,439.8 172.8,440.4 173.1,440.0 173.3,440.6 173.6,439.7 173.9,440.4 174.1,440.1 174.4,440.2 174.7,440.2 175,440.4 175.2,440.6 175.5,439.4 175.8,439.9 176,439.9 176.3,439.2 176.6,440.0 176.8,439.8 177.1,440.0 177.4,439.6 177.6,439.8 177.9,439.9 178.2,440.1 178.5,439.9 178.7,439.6 179,440.7 179.3,440.0 179.5,440.1 179.8,440.1 180.1,440.7 180.3,439.7 180.6,440.3 180.9,440.1 181.2,440.2 181.4,440.6 181.7,440.2 182,440.7 182.2,440.3 182.5,440.1 182.8,440.0 183,440.0 183.3,440.0 183.6,439.2 183.8,439.8 184.1,440.4 184.4,440.2 184.7,440.2 184.9,440.1 185.2,440.2 185.5,440.3 185.7,439.4 186,440.0 186.3,440.1 186.5,440.1 186.8,440.1 187.1,439.5 187.3,439.8 187.6,439.6 187.9,441.1 188.2,439.9 188.4,439.6 188.7,439.3 189,440.0 189.2,440.6 189.5,439.8 189.8,440.2 190,440.6 190.3,440.2 190.6,439.6 190.9,439.5 191.1,439.7 191.4,440.4 191.7,439.1 191.9,440.4 192.2,440.0 192.5,440.5 192.7,439.5 193,439.8 193.3,439.7 193.5,440.0 193.8,440.0 194.1,439.9 194.4,440.7 194.6,439.6 194.9,439.7 195.2,440.1 195.4,440.0 195.7,439.9 196,439.4 196.2,439.8 196.5,440.0 196.8,440.2 197,440.5 197.3,440.2 197.6,440.0 197.9,440.1 198.1,440.0 198.4,439.7 198.7,439.8 198.9,439.9 199.2,439.7 199.5,439.9 199.7,440.0 200,439.8 200.3,440.6 200.5,439.5 200.8,440.5 201.1,439.7 201.4,440.0 201.6,439.6 201.9,440.0 202.2,440.3 202.4,439.6 202.7,439.9 203,439.9 203.2,440.0 203.5,439.6 203.8,439.7 204.1,439.9 204.3,440.6 204.6,440.1 204.9,439.9 205.1,439.3 205.4,439.8 205.7,440.0 205.9,439.5 206.2,440.0 206.5,440.0 206.7,439.9 207,440.5 207.3,439.6 207.6,439.8 207.8,440.1 208.1,440.4 208.4,439.9 208.6,439.5 208.9,440.2 209.2,440.4 209.4,439.8 209.7,440.6 210,440.8 210.2,440.1 210.5,440.2 210.8,440.1 211.1,440.2 211.3,439.9 211.6,440.1 211.9,440.2 212.1,440.1 212.4,439.7 212.7,439.6 212.9,439.6 213.2,439.7 213.5,441.2 213.7,440.3 214,440.1 214.3,439.9 214.6,440.6 214.8,439.5 215.1,439.9 215.4,440.2 215.6,439.9 215.9,440.1 216.2,440.3 216.4,439.8 216.7,440.1 217,440.5 217.3,440.2 217.5,440.0 217.8,440.4 218.1,439.5 218.3,440.4 218.6,439.3 218.9,439.6 219.1,440.3 219.4,439.9 219.7,439.5 219.9,440.0 220.2,440.4 220.5,439.9 220.8,439.2 221,440.5 221.3,439.8 221.6,440.0 221.8,440.0 222.1,440.1 222.4,440.1 222.6,439.6 222.9,439.8 223.2,440.3 223.4,439.4 223.7,440.5 224,439.7 224.3,439.9 224.5,439.5 224.8,439.8 225.1,439.6 225.3,440.0 225.6,439.6 225.9,439.8 226.1,439.2 226.4,440.2 226.7,439.5 226.9,439.8 227.2,439.9 227.5,440.2 227.8,439.8 228,440.5 228.3,440.5 228.6,439.7 228.8,440.5 229.1,439.4 229.4,440.1 229.6,439.9 229.9,439.9 230.2,439.8 230.5,440.1 230.7,440.1 231,440.0 231.3,439.6 231.5,439.6 231.8,439.5 232.1,439.8 232.3,440.0 232.6,440.6 232.9,439.7 233.1,439.7 233.4,440.1 233.7,439.7 234,439.5 234.2,439.9 234.5,439.6 234.8,439.9 235,440.6 235.3,440.1 235.6,440.1 235.8,439.8 236.1,440.3 236.4,440.1 236.6,440.3 236.9,440.0 237.2,439.9 237.5,439.6 237.7,439.7 238,439.9 238.3,439.9 238.5,439.9 238.8,439.9 239.1,439.4 239.3,440.9 239.6,440.0 239.9,439.9 240.2,439.6 240.4,440.4 240.7,439.8 241,439.7 241.2,440.1 241.5,440.7 241.8,440.1 242,440.4 242.3,439.7 242.6,440.3 242.8,439.3 243.1,439.9 243.4,440.3 243.7,440.2 243.9,440.4 244.2,439.8 244.5,439.4 244.7,440.1 245,439.6 245.3,440.3 245.5,439.9 245.8,439.1 246.1,440.5 246.3,439.5 246.6,439.5 246.9,440.7 247.2,440.5 247.4,440.3 247.7,439.6 248,440.1 248.2,440.0 248.5,439.7 248.8,439.9 249,439.9 249.3,440.1 249.6,439.6 249.8,440.3 250.1,439.4 250.4,440.1 250.7,440.3 250.9,439.7 251.2,439.8 251.5,440.7 251.7,439.9 252,440.5 252.3,440.3 252.5,439.7 252.8,440.3 253.1,439.8 253.4,440.1 253.6,439.3 253.9,440.0 254.2,440.4 254.4,440.4 254.7,440.3 255,439.9 255.2,440.0 255.5,439.6 255.8,439.9 256,439.9 256.3,439.9 256.6,440.0 256.9,439.9 257.1,439.7 257.4,439.7 257.7,440.2 257.9,440.6 258.2,440.3 258.5,439.9 258.7,440.9 259,440.2 259.3,439.8 259.5,440.2 259.8,440.4 260.1,439.3 260.4,439.5 260.6,440.1 260.9,439.5 261.2,439.5 261.4,440.4 261.7,439.0 262,440.3 262.2,440.1 262.5,440.4 262.8,440.0 263,440.5 263.3,440.0 263.6,439.6 263.9,439.9 264.1,440.1 264.4,439.4 264.7,440.3 264.9,439.6 265.2,440.1 265.5,439.9 265.7,440.0 266,439.9 266.3,440.0 266.6,440.3 266.8,440.2 267.1,439.8 267.4,440.0 267.6,440.4 267.9,440.2 268.2,440.2 268.4,440.0 268.7,439.9 269,440.0 269.2,440.2 269.5,440.0 269.8,440.5 270.1,441.0 270.3,440.0 270.6,440.6 270.9,440.3 271.1,440.4 271.4,439.8 271.7,440.4 271.9,439.9 272.2,440.2 272.5,440.4 272.7,440.6 273,439.8 273.3,439.8 273.6,439.7 273.8,439.3" fill="none" stroke="#2e1a17" stroke-width="0.9" stroke-linejoin="round" opacity="1.0"/>
<polyline points="58.6,439.4 58.8,439.4 59.1,439.5 59.4,439.4 59.7,439.6 59.9,439.8 60.2,438.7 60.5,440.2 60.7,439.4 61,439.3 61.3,439.4 61.5,439.8 61.8,439.6 62.1,439.7 62.3,439.9 62.6,439.5 62.9,439.6 63.2,439.7 63.4,439.2 63.7,439.9 64,439.3 64.2,439.7 64.5,439.3 64.8,439.5 65,439.4 65.3,439.8 65.6,439.8 65.8,439.8 66.1,439.4 66.4,439.2 66.7,439.1 66.9,439.7 67.2,439.5 67.5,440.1 67.7,440.3 68,439.8 68.3,439.7 68.5,440.1 68.8,440.1 69.1,439.3 69.4,439.8 69.6,440.1 69.9,438.6 70.2,439.4 70.4,439.6 70.7,439.2 71,439.8 71.2,438.9 71.5,440.1 71.8,440.0 72,439.5 72.3,439.8 72.6,439.0 72.9,440.1 73.1,439.8 73.4,439.4 73.7,439.3 73.9,439.1 74.2,439.4 74.5,438.7 74.7,439.7 75,439.4 75.3,439.2 75.5,439.6 75.8,439.6 76.1,439.7 76.4,439.7 76.6,439.9 76.9,439.7 77.2,440.1 77.4,439.4 77.7,440.1 78,438.7 78.2,438.9 78.5,439.1 78.8,439.6 79,439.7 79.3,439.1 79.6,439.4 79.9,439.3 80.1,439.8 80.4,439.1 80.7,439.8 80.9,439.5 81.2,440.1 81.5,439.7 81.7,439.3 82,439.7 82.3,439.7 82.6,439.2 82.8,439.5 83.1,439.1 83.4,440.4 83.6,439.3 83.9,439.3 84.2,440.1 84.4,440.0 84.7,439.2 85,439.9 85.2,439.7 85.5,439.3 85.8,439.6 86.1,439.3 86.3,439.8 86.6,439.4 86.9,439.1 87.1,439.4 87.4,440.3 87.7,439.3 87.9,439.5 88.2,439.8 88.5,439.0 88.7,440.1 89,438.8 89.3,439.7 89.6,438.9 89.8,439.5 90.1,440.0 90.4,439.5 90.6,439.4 90.9,439.3 91.2,439.1 91.4,439.8 91.7,439.3 92,439.2 92.2,439.6 92.5,439.8 92.8,439.9 93.1,439.2 93.3,439.2 93.6,439.8 93.9,440.0 94.1,439.1 94.4,440.1 94.7,439.4 94.9,439.8 95.2,440.1 95.5,439.5 95.8,439.6 96,439.0 96.3,438.7 96.6,439.6 96.8,439.1 97.1,439.1 97.4,439.7 97.6,439.8 97.9,438.9 98.2,439.6 98.4,439.5 98.7,439.6 99,439.6 99.3,439.7 99.5,439.2 99.8,439.0 100.1,439.6 100.3,440.0 100.6,439.5 100.9,440.1 101.1,439.7 101.4,439.1 101.7,438.7 101.9,439.4 102.2,439.9 102.5,439.2 102.8,440.3 103,439.8 103.3,439.0 103.6,439.2 103.8,440.0 104.1,440.1 104.4,439.2 104.6,439.5 104.9,439.7 105.2,439.4 105.5,439.7 105.7,440.2 106,439.2 106.3,439.7 106.5,439.9 106.8,440.0 107.1,439.4 107.3,439.8 107.6,439.3 107.9,439.6 108.1,439.1 108.4,439.6 108.7,439.7 109,440.2 109.2,439.9 109.5,439.2 109.8,438.4 110,440.0 110.3,439.9 110.6,439.4 110.8,439.3 111.1,439.8 111.4,439.5 111.6,440.1 111.9,439.6 112.2,439.2 112.5,438.9 112.7,439.6 113,439.6 113.3,439.3 113.5,439.1 113.8,439.3 114.1,439.8 114.3,439.4 114.6,439.2 114.9,439.8 115.1,440.0 115.4,439.3 115.7,439.4 116,439.2 116.2,439.5 116.5,439.7 116.8,439.7 117,439.9 117.3,439.9 117.6,439.7 117.8,439.7 118.1,439.1 118.4,440.0 118.7,439.5 118.9,439.7 119.2,439.0 119.5,439.4 119.7,439.6 120,439.2 120.3,439.5 120.5,439.7 120.8,438.9 121.1,439.2 121.3,438.9 121.6,439.1 121.9,439.2 122.2,439.5 122.4,439.9 122.7,439.2 123,439.5 123.2,439.3 123.5,439.5 123.8,439.8 124,439.9 124.3,439.2 124.6,439.0 124.8,439.6 125.1,439.3 125.4,439.0 125.7,439.8 125.9,439.6 126.2,439.9 126.5,439.1 126.7,439.4 127,439.7 127.3,440.1 127.5,439.6 127.8,439.1 128.1,439.6 128.3,439.7 128.6,439.3 128.9,440.0 129.2,439.5 129.4,439.3 129.7,439.8 130,439.8 130.2,439.4 130.5,439.5 130.8,439.6 131,439.4 131.3,439.4 131.6,439.8 131.9,439.7 132.1,439.3 132.4,439.1 132.7,439.0 132.9,439.8 133.2,439.1 133.5,439.2 133.7,439.5 134,439.3 134.3,439.2 134.5,438.8 134.8,439.9 135.1,439.3 135.4,439.6 135.6,439.6 135.9,439.1 136.2,439.2 136.4,439.9 136.7,439.6 137,439.4 137.2,440.0 137.5,439.2 137.8,439.5 138,439.4 138.3,439.4 138.6,438.8 138.9,439.5 139.1,439.6 139.4,438.9 139.7,439.7 139.9,439.7 140.2,440.0 140.5,439.1 140.7,439.4 141,439.3 141.3,439.4 141.5,439.5 141.8,439.8 142.1,439.8 142.4,439.3 142.6,439.5 142.9,438.9 143.2,439.8 143.4,439.7 143.7,439.9 144,439.0 144.2,439.9 144.5,439.2 144.8,439.0 145.1,439.5 145.3,439.2 145.6,440.3 145.9,439.6 146.1,440.1 146.4,439.4 146.7,439.5 146.9,439.8 147.2,439.2 147.5,439.4 147.7,439.7 148,439.7 148.3,440.0 148.6,439.6 148.8,438.7 149.1,439.8 149.4,439.3 149.6,439.7 149.9,439.2 150.2,439.3 150.4,439.6 150.7,440.1 151,439.7 151.2,439.1 151.5,439.6 151.8,439.3 152.1,439.7 152.3,440.2 152.6,439.3 152.9,439.4 153.1,439.7 153.4,439.6 153.7,439.4 153.9,439.7 154.2,439.4 154.5,439.6 154.8,440.3 155,439.5 155.3,439.7 155.6,439.8 155.8,439.3 156.1,439.7 156.4,439.3 156.6,439.1 156.9,439.4 157.2,440.1 157.4,439.8 157.7,439.2 158,439.6 158.3,439.8 158.5,439.5 158.8,439.3 159.1,439.4 159.3,439.3 159.6,439.8 159.9,439.6 160.1,439.6 160.4,439.5 160.7,440.3 160.9,439.6 161.2,440.0 161.5,439.0 161.8,438.9 162,438.9 162.3,439.2 162.6,439.7 162.8,439.1 163.1,439.6 163.4,439.3 163.6,439.8 163.9,439.7 164.2,439.3 164.4,438.9 164.7,439.5 165,438.7 165.3,438.5 165.5,440.0 165.8,439.5 166.1,439.8 166.3,439.5 166.6,439.7 166.9,439.5 167.1,439.1 167.4,439.2 167.7,439.4 168,439.5 168.2,439.4 168.5,439.4 168.8,439.3 169,439.5 169.3,439.3 169.6,440.0 169.8,439.2 170.1,438.9 170.4,439.4 170.6,440.0 170.9,439.0 171.2,439.6 171.5,440.6 171.7,439.6 172,439.3 172.3,439.4 172.5,439.0 172.8,439.3 173.1,439.4 173.3,440.2 173.6,439.9 173.9,439.4 174.1,439.2 174.4,439.9 174.7,439.7 175,439.3 175.2,440.2 175.5,440.2 175.8,439.6 176,439.4 176.3,439.7 176.6,440.3 176.8,439.5 177.1,440.0 177.4,439.3 177.6,439.5 177.9,439.4 178.2,439.3 178.5,439.7 178.7,439.2 179,439.0 179.3,439.3 179.5,439.0 179.8,439.7 180.1,439.2 180.3,439.4 180.6,439.8 180.9,439.5 181.2,439.7 181.4,439.7 181.7,439.5 182,439.1 182.2,439.6 182.5,439.4 182.8,440.0 183,439.5 183.3,439.1 183.6,439.2 183.8,439.3 184.1,439.7 184.4,439.8 184.7,439.5 184.9,440.0 185.2,439.9 185.5,439.1 185.7,439.8 186,438.8 186.3,440.0 186.5,439.3 186.8,439.9 187.1,439.4 187.3,439.9 187.6,439.5 187.9,439.5 188.2,439.7 188.4,439.3 188.7,438.9 189,439.7 189.2,439.2 189.5,439.5 189.8,439.5 190,438.7 190.3,440.3 190.6,439.7 190.9,440.1 191.1,439.6 191.4,439.6 191.7,438.1 191.9,439.4 192.2,438.8 192.5,439.0 192.7,439.7 193,439.3 193.3,438.9 193.5,439.4 193.8,439.4 194.1,439.3 194.4,440.0 194.6,439.8 194.9,439.4 195.2,439.3 195.4,439.8 195.7,439.6 196,439.5 196.2,439.5 196.5,439.2 196.8,439.5 197,439.4 197.3,440.0 197.6,439.9 197.9,439.4 198.1,440.1 198.4,439.4 198.7,439.7 198.9,439.8 199.2,439.3 199.5,439.7 199.7,439.8 200,439.7 200.3,439.5 200.5,438.5 200.8,440.3 201.1,439.5 201.4,439.6 201.6,439.1 201.9,439.6 202.2,440.4 202.4,439.0 202.7,439.9 203,439.5 203.2,440.0 203.5,439.9 203.8,439.7 204.1,439.2 204.3,439.2 204.6,439.7 204.9,439.3 205.1,439.6 205.4,439.5 205.7,439.4 205.9,439.3 206.2,439.7 206.5,439.5 206.7,439.4 207,439.5 207.3,439.8 207.6,438.9 207.8,439.7 208.1,439.2 208.4,439.4 208.6,439.1 208.9,440.3 209.2,438.7 209.4,439.6 209.7,439.9 210,439.4 210.2,438.7 210.5,439.3 210.8,439.9 211.1,439.7 211.3,439.0 211.6,440.0 211.9,439.6 212.1,439.6 212.4,438.7 212.7,439.6 212.9,439.0 213.2,439.7 213.5,439.8 213.7,439.1 214,439.3 214.3,440.1 214.6,439.3 214.8,439.3 215.1,439.7 215.4,439.4 215.6,439.4 215.9,439.7 216.2,439.7 216.4,439.7 216.7,439.6 217,440.0 217.3,439.5 217.5,440.0 217.8,439.5 218.1,439.5 218.3,439.9 218.6,439.2 218.9,438.8 219.1,439.0 219.4,440.0 219.7,439.0 219.9,439.4 220.2,439.5 220.5,439.7 220.8,439.5 221,439.0 221.3,439.3 221.6,439.6 221.8,439.7 222.1,439.7 222.4,439.3 222.6,438.8 222.9,439.9 223.2,439.5 223.4,439.6 223.7,439.8 224,439.4 224.3,439.3 224.5,440.0 224.8,439.9 225.1,439.1 225.3,439.4 225.6,439.3 225.9,439.7 226.1,439.6 226.4,439.3 226.7,439.7 226.9,439.9 227.2,439.5 227.5,439.2 227.8,439.9 228,439.1 228.3,439.2 228.6,439.8 228.8,439.5 229.1,439.5 229.4,439.3 229.6,439.3 229.9,440.0 230.2,440.0 230.5,439.1 230.7,439.5 231,439.3 231.3,439.4 231.5,438.9 231.8,439.9 232.1,439.1 232.3,439.8 232.6,439.2 232.9,439.0 233.1,440.0 233.4,439.4 233.7,439.6 234,439.6 234.2,439.5 234.5,439.9 234.8,439.8 235,439.3 235.3,439.2 235.6,439.7 235.8,440.0 236.1,438.7 236.4,439.1 236.6,439.4 236.9,439.9 237.2,439.7 237.5,439.4 237.7,439.8 238,438.9 238.3,439.4 238.5,439.4 238.8,439.9 239.1,439.8 239.3,439.8 239.6,439.4 239.9,439.6 240.2,439.6 240.4,439.4 240.7,439.4 241,439.0 241.2,439.6 241.5,439.9 241.8,439.5 242,439.0 242.3,439.7 242.6,439.5 242.8,439.6 243.1,439.4 243.4,439.4 243.7,439.8 243.9,439.6 244.2,439.2 244.5,439.1 244.7,439.2 245,439.2 245.3,439.6 245.5,439.6 245.8,439.2 246.1,439.9 246.3,439.5 246.6,440.2 246.9,439.6 247.2,439.8 247.4,439.9 247.7,439.3 248,439.8 248.2,439.6 248.5,439.6 248.8,439.8 249,439.0 249.3,439.7 249.6,439.4 249.8,440.0 250.1,439.7 250.4,439.6 250.7,439.6 250.9,439.7 251.2,439.4 251.5,438.9 251.7,439.5 252,439.5 252.3,439.6 252.5,438.6 252.8,438.9 253.1,439.3 253.4,439.2 253.6,439.8 253.9,439.6 254.2,439.4 254.4,439.5 254.7,439.8 255,439.8 255.2,439.3 255.5,439.4 255.8,440.3 256,439.5 256.3,439.0 256.6,439.7 256.9,439.4 257.1,440.0 257.4,439.2 257.7,439.9 257.9,439.9 258.2,439.6 258.5,438.6 258.7,439.7 259,440.0 259.3,439.3 259.5,439.4 259.8,438.9 260.1,440.0 260.4,440.1 260.6,439.6 260.9,439.4 261.2,439.4 261.4,439.1 261.7,440.0 262,439.8 262.2,439.5 262.5,439.2 262.8,439.3 263,439.6 263.3,439.9 263.6,439.2 263.9,439.2 264.1,438.5 264.4,439.6 264.7,438.9 264.9,439.9 265.2,439.7 265.5,439.7 265.7,439.7 266,439.8 266.3,439.7 266.6,439.5 266.8,439.7 267.1,439.3 267.4,439.5 267.6,439.5 267.9,439.0 268.2,439.4 268.4,439.4 268.7,439.5 269,439.5 269.2,439.3 269.5,439.8 269.8,439.1 270.1,438.9 270.3,439.1 270.6,439.7 270.9,440.1 271.1,439.7 271.4,439.4 271.7,439.2 271.9,439.6 272.2,439.6 272.5,439.0 272.7,439.7 273,439.1 273.3,439.2 273.6,440.0 273.8,439.4" fill="none" stroke="#ee8a2e" stroke-width="0.9" stroke-linejoin="round" opacity="1.0"/>
<polyline points="58.6,440.0 58.9,440.0 59.2,440.1 59.5,440.1 59.8,439.7 60.1,439.8 60.4,439.7 60.7,439.9 61,439.8 61.3,439.7 61.7,439.9 62,439.9 62.3,439.5 62.6,439.5 62.9,439.7 63.2,439.5 63.5,439.4 63.8,439.1 64.1,439.6 64.4,439.3 64.7,439.0 65,439.3 65.3,439.0 65.7,439.8 66,438.9 66.3,439.1 66.6,439.6 66.9,438.9 67.2,438.8 67.5,438.7 67.8,438.6 68.1,438.8 68.4,439.0 68.7,438.9 69,438.7 69.4,438.5 69.7,438.7 70,438.5 70.3,438.2 70.6,438.3 70.9,437.7 71.2,437.7 71.5,438.5 71.8,438.3 72.1,438.5 72.4,438.3 72.7,437.7 73,438.1 73.4,438.1 73.7,437.7 74,437.2 74.3,437.5 74.6,437.5 74.9,436.9 75.2,436.9 75.5,436.8 75.8,436.6 76.1,437.3 76.4,436.6 76.7,436.9 77.1,436.0 77.4,436.0 77.7,436.7 78,435.5 78.3,436.6 78.6,435.3 78.9,435.6 79.2,436.0 79.5,436.0 79.8,435.4 80.1,435.1 80.4,435.4 80.7,434.5 81.1,435.5 81.4,434.5 81.7,434.3 82,435.4 82.3,433.8 82.6,434.7 82.9,435.4 83.2,433.8 83.5,433.4 83.8,432.5 84.1,433.2 84.4,431.7 84.7,431.5 85.1,431.5 85.4,431.1 85.7,431.5 86,432.0 86.3,430.8 86.6,430.4 86.9,430.7 87.2,430.8 87.5,431.9 87.8,429.6 88.1,429.6 88.4,431.0 88.8,429.3 89.1,428.5 89.4,428.9 89.7,427.9 90,427.6 90.3,429.6 90.6,428.0 90.9,427.0 91.2,426.3 91.5,425.6 91.8,428.7 92.1,426.3 92.4,425.3 92.8,424.5 93.1,423.7 93.4,426.1 93.7,425.1 94,425.6 94.3,423.2 94.6,425.3 94.9,422.1 95.2,422.0 95.5,422.1 95.8,425.1 96.1,422.8 96.5,420.8 96.8,423.1 97.1,421.2 97.4,420.6 97.7,419.1 98,419.4 98.3,419.0 98.6,419.6 98.9,418.6 99.2,418.4 99.5,417.0 99.8,417.7 100.1,415.8 100.5,419.1 100.8,414.8 101.1,416.1 101.4,414.1 101.7,414.9 102,413.5 102.3,412.3 102.6,414.6 102.9,413.2 103.2,413.2 103.5,412.2 103.8,414.7 104.2,412.0 104.5,411.7 104.8,412.1 105.1,410.7 105.4,412.6 105.7,407.6 106,408.5 106.3,406.1 106.6,409.8 106.9,409.9 107.2,406.9 107.5,409.9 107.8,406.1 108.2,407.3 108.5,406.2 108.8,404.7 109.1,404.6 109.4,401.5 109.7,402.8 110,405.8 110.3,401.4 110.6,405.1 110.9,401.9 111.2,404.0 111.5,402.8 111.8,398.6 112.2,401.4 112.5,401.1 112.8,400.5 113.1,399.5 113.4,396.1 113.7,400.5 114,400.2 114.3,396.1 114.6,400.1 114.9,397.0 115.2,393.8 115.5,395.3 115.9,396.0 116.2,396.0 116.5,396.1 116.8,394.9 117.1,392.9 117.4,390.5 117.7,390.5 118,393.1 118.3,393.1 118.6,389.7 118.9,394.8 119.2,391.1 119.5,390.4 119.9,391.9 120.2,391.2 120.5,387.7 120.8,392.0 121.1,389.8 121.4,388.7 121.7,386.5 122,389.7 122.3,383.7 122.6,386.2 122.9,385.7 123.2,385.6 123.6,386.0 123.9,386.4 124.2,381.1 124.5,382.6 124.8,382.9 125.1,380.2 125.4,383.7 125.7,380.1 126,381.0 126.3,383.0 126.6,378.6 126.9,383.9 127.2,378.1 127.6,381.5 127.9,377.8 128.2,375.4 128.5,376.7 128.8,379.3 129.1,377.3 129.4,377.9 129.7,379.8 130,379.3 130.3,375.7 130.6,374.2 130.9,380.1 131.2,375.0 131.6,373.2 131.9,373.7 132.2,376.6 132.5,370.9 132.8,376.6 133.1,371.1 133.4,368.6 133.7,378.1 134,371.0 134.3,370.6 134.6,370.5 134.9,373.0 135.3,371.3 135.6,374.3 135.9,369.4 136.2,368.1 136.5,371.2 136.8,371.7 137.1,370.0 137.4,368.3 137.7,367.8 138,368.0 138.3,367.2 138.6,371.2 138.9,375.3 139.3,364.9 139.6,362.7 139.9,370.4 140.2,367.8 140.5,364.6 140.8,362.7 141.1,363.2 141.4,361.4 141.7,364.5 142,363.0 142.3,362.8 142.6,365.0 143,360.3 143.3,361.5 143.6,360.3 143.9,363.9 144.2,359.7 144.5,365.6 144.8,360.9 145.1,370.3 145.4,364.8 145.7,359.3 146,362.6 146.3,360.3 146.6,366.0 147,356.3 147.3,358.6 147.6,360.1 147.9,358.7 148.2,358.7 148.5,355.7 148.8,358.6 149.1,364.0 149.4,359.8 149.7,355.3 150,357.0 150.3,359.8 150.6,356.5 151,357.7 151.3,356.2 151.6,363.1 151.9,360.6 152.2,355.6 152.5,358.0 152.8,356.1 153.1,351.6 153.4,357.9 153.7,356.0 154,358.5 154.3,358.6 154.7,356.6 155,361.2 155.3,363.4 155.6,352.2 155.9,356.2 156.2,352.6 156.5,355.2 156.8,355.0 157.1,353.5 157.4,353.3 157.7,359.4 158,351.8 158.3,358.5 158.7,354.3 159,347.8 159.3,354.5 159.6,350.1 159.9,355.9 160.2,352.8 160.5,354.4 160.8,353.3 161.1,357.4 161.4,357.6 161.7,353.3 162,359.8 162.4,357.2 162.7,352.3 163,356.3 163.3,357.3 163.6,358.0 163.9,353.6 164.2,355.3 164.5,353.5 164.8,354.7 165.1,348.8 165.4,355.5 165.7,360.9 166,353.6 166.4,354.0 166.7,353.5 167,359.6 167.3,350.8 167.6,354.1 167.9,354.2 168.2,359.6 168.5,352.7 168.8,354.3 169.1,350.3 169.4,355.6 169.7,358.5 170,353.8 170.4,357.5 170.7,353.1 171,358.2 171.3,354.9 171.6,355.3 171.9,354.7 172.2,356.4 172.5,357.5 172.8,354.9 173.1,356.8 173.4,354.4 173.7,355.9 174.1,362.9 174.4,355.4 174.7,351.4 175,354.4 175.3,353.7 175.6,354.2 175.9,357.2 176.2,360.3 176.5,353.6 176.8,353.0 177.1,354.5 177.4,355.0 177.7,355.2 178.1,356.5 178.4,355.8 178.7,356.7 179,355.9 179.3,360.2 179.6,359.3 179.9,355.7 180.2,358.6 180.5,365.7 180.8,357.3 181.1,365.6 181.4,352.9 181.8,356.2 182.1,356.5 182.4,360.8 182.7,362.5 183,359.6 183.3,359.0 183.6,361.8 183.9,359.0 184.2,357.8 184.5,358.2 184.8,363.4 185.1,367.3 185.4,360.4 185.8,362.8 186.1,359.6 186.4,356.8 186.7,357.0 187,360.7 187.3,358.8 187.6,357.7 187.9,362.0 188.2,361.6 188.5,360.4 188.8,363.0 189.1,364.7 189.4,365.7 189.8,363.6 190.1,365.8 190.4,362.1 190.7,365.4 191,361.0 191.3,361.9 191.6,369.0 191.9,362.7 192.2,366.9 192.5,362.6 192.8,364.9 193.1,366.6 193.5,365.1 193.8,368.7 194.1,366.5 194.4,366.7 194.7,368.4 195,367.3 195.3,371.5 195.6,367.5 195.9,372.7 196.2,367.9 196.5,368.6 196.8,368.4 197.1,372.0 197.5,363.7 197.8,371.7 198.1,370.9 198.4,373.8 198.7,368.7 199,373.6 199.3,370.4 199.6,375.6 199.9,372.6 200.2,374.7 200.5,371.9 200.8,375.2 201.2,377.1 201.5,374.0 201.8,378.7 202.1,378.4 202.4,374.4 202.7,381.6 203,375.2 203.3,378.3 203.6,380.0 203.9,377.4 204.2,377.0 204.5,380.2 204.8,379.5 205.2,377.8 205.5,378.3 205.8,380.4 206.1,382.6 206.4,383.4 206.7,382.9 207,380.4 207.3,381.0 207.6,382.0 207.9,380.2 208.2,384.1 208.5,384.7 208.8,385.1 209.2,380.9 209.5,390.0 209.8,384.9 210.1,385.0 210.4,386.1 210.7,382.3 211,384.9 211.3,386.1 211.6,390.0 211.9,387.4 212.2,389.6 212.5,389.1 212.9,389.3 213.2,391.1 213.5,389.4 213.8,388.1 214.1,389.5 214.4,391.4 214.7,396.5 215,390.8 215.3,391.3 215.6,393.9 215.9,395.0 216.2,393.3 216.5,396.6 216.9,394.0 217.2,398.0 217.5,398.1 217.8,396.6 218.1,400.0 218.4,397.5 218.7,397.1 219,401.0 219.3,397.4 219.6,400.4 219.9,398.9 220.2,399.9 220.6,401.5 220.9,402.1 221.2,404.7 221.5,403.3 221.8,403.8 222.1,400.5 222.4,401.8 222.7,406.2 223,403.1 223.3,404.3 223.6,405.8 223.9,404.9 224.2,404.9 224.6,407.4 224.9,407.3 225.2,407.1 225.5,409.4 225.8,407.9 226.1,408.7 226.4,410.2 226.7,410.9 227,409.5 227.3,409.2 227.6,410.4 227.9,412.5 228.2,410.7 228.6,411.8 228.9,411.8 229.2,411.5 229.5,414.7 229.8,413.9 230.1,415.0 230.4,415.8 230.7,412.7 231,414.3 231.3,418.3 231.6,415.7 231.9,417.4 232.3,415.7 232.6,417.3 232.9,418.0 233.2,418.0 233.5,418.1 233.8,418.9 234.1,419.6 234.4,419.9 234.7,419.5 235,421.9 235.3,420.8 235.6,421.3 235.9,422.1 236.3,421.2 236.6,423.8 236.9,423.0 237.2,424.0 237.5,422.8 237.8,424.2 238.1,423.9 238.4,423.9 238.7,426.5 239,424.5 239.3,426.1 239.6,425.9 240,426.0 240.3,425.5 240.6,425.9 240.9,425.3 241.2,426.9 241.5,427.9 241.8,428.2 242.1,427.4 242.4,426.9 242.7,428.2 243,429.4 243.3,428.8 243.6,429.1 244,429.6 244.3,430.6 244.6,432.5 244.9,430.8 245.2,429.8 245.5,430.7 245.8,433.0 246.1,431.3 246.4,433.1 246.7,430.4 247,431.8 247.3,433.1 247.7,431.9 248,433.2 248.3,432.5 248.6,433.0 248.9,434.0 249.2,433.0 249.5,434.5 249.8,433.0 250.1,433.9 250.4,434.8 250.7,435.4 251,433.6 251.3,433.9 251.7,435.5 252,434.2 252.3,435.0 252.6,435.3 252.9,435.4 253.2,435.7 253.5,435.1 253.8,435.7 254.1,436.9 254.4,435.2 254.7,435.8 255,436.8 255.3,436.6 255.7,437.0 256,436.6 256.3,436.6 256.6,436.8 256.9,437.2 257.2,437.4 257.5,436.9 257.8,437.3 258.1,436.7 258.4,437.8 258.7,437.3 259,437.6 259.4,438.0 259.7,437.5 260,437.9 260.3,438.3 260.6,438.2 260.9,437.9 261.2,438.6 261.5,437.9 261.8,438.2 262.1,438.5 262.4,438.2 262.7,438.1 263,438.5 263.4,438.6 263.7,438.3 264,438.5 264.3,439.1 264.6,438.9 264.9,439.0 265.2,439.1 265.5,439.4 265.8,438.9 266.1,439.1 266.4,439.1 266.7,439.0 267.1,439.4 267.4,439.3 267.7,439.3 268,439.5 268.3,439.4 268.6,439.3 268.9,439.5 269.2,439.3 269.5,439.7 269.8,439.5 270.1,439.9 270.4,439.6 270.7,439.8 271.1,439.5 271.4,439.6 271.7,439.7 272,439.5 272.3,439.6 272.6,439.7 272.9,439.9 273.2,440.1 273.5,439.9 273.8,439.9" fill="none" stroke="#2c467e" stroke-width="0.7" stroke-linejoin="round" opacity="1.0"/>
<polyline points="58.6,441.0 58.8,441.0 59.1,440.9 59.4,440.9 59.7,440.9 59.9,440.9 60.2,440.9 60.5,440.8 60.7,440.8 61,440.8 61.3,440.8 61.5,440.8 61.8,440.7 62.1,440.7 62.3,440.7 62.6,440.7 62.9,440.6 63.2,440.6 63.4,440.6 63.7,440.5 64,440.5 64.2,440.5 64.5,440.5 64.8,440.4 65,440.4 65.3,440.4 65.6,440.3 65.8,440.3 66.1,440.2 66.4,440.2 66.7,440.2 66.9,440.1 67.2,440.1 67.5,440.0 67.7,440.0 68,439.9 68.3,439.9 68.5,439.9 68.8,439.8 69.1,439.8 69.4,439.7 69.6,439.6 69.9,439.6 70.2,439.5 70.4,439.5 70.7,439.4 71,439.4 71.2,439.3 71.5,439.2 71.8,439.2 72,439.1 72.3,439.0 72.6,439.0 72.9,438.9 73.1,438.8 73.4,438.7 73.7,438.7 73.9,438.6 74.2,438.5 74.5,438.4 74.7,438.3 75,438.2 75.3,438.2 75.5,438.1 75.8,438.0 76.1,437.9 76.4,437.8 76.6,437.7 76.9,437.6 77.2,437.5 77.4,437.4 77.7,437.3 78,437.1 78.2,437.0 78.5,436.9 78.8,436.8 79,436.7 79.3,436.5 79.6,436.4 79.9,436.3 80.1,436.2 80.4,436.0 80.7,435.9 80.9,435.7 81.2,435.6 81.5,435.5 81.7,435.3 82,435.2 82.3,435.0 82.6,434.8 82.8,434.7 83.1,434.5 83.4,434.4 83.6,434.2 83.9,434.0 84.2,433.8 84.4,433.7 84.7,433.5 85,433.3 85.2,433.1 85.5,432.9 85.8,432.7 86.1,432.5 86.3,432.3 86.6,432.1 86.9,431.9 87.1,431.7 87.4,431.5 87.7,431.3 87.9,431.1 88.2,430.8 88.5,430.6 88.7,430.4 89,430.2 89.3,429.9 89.6,429.7 89.8,429.4 90.1,429.2 90.4,429.0 90.6,428.7 90.9,428.5 91.2,428.2 91.4,427.9 91.7,427.7 92,427.4 92.2,427.1 92.5,426.9 92.8,426.6 93.1,426.3 93.3,426.0 93.6,425.7 93.9,425.5 94.1,425.2 94.4,424.9 94.7,424.6 94.9,424.3 95.2,424.0 95.5,423.7 95.8,423.4 96,423.1 96.3,422.7 96.6,422.4 96.8,422.1 97.1,421.8 97.4,421.5 97.6,421.1 97.9,420.8 98.2,420.5 98.4,420.1 98.7,419.8 99,419.5 99.3,419.1 99.5,418.8 99.8,418.4 100.1,418.1 100.3,417.8 100.6,417.4 100.9,417.0 101.1,416.7 101.4,416.3 101.7,416.0 101.9,415.6 102.2,415.3 102.5,414.9 102.8,414.5 103,414.2 103.3,413.8 103.6,413.4 103.8,413.0 104.1,412.7 104.4,412.3 104.6,411.9 104.9,411.5 105.2,411.2 105.5,410.8 105.7,410.4 106,410.0 106.3,409.6 106.5,409.2 106.8,408.9 107.1,408.5 107.3,408.1 107.6,407.7 107.9,407.3 108.1,406.9 108.4,406.5 108.7,406.1 109,405.7 109.2,405.4 109.5,405.0 109.8,404.6 110,404.2 110.3,403.8 110.6,403.4 110.8,403.0 111.1,402.6 111.4,402.2 111.6,401.8 111.9,401.4 112.2,401.0 112.5,400.6 112.7,400.2 113,399.8 113.3,399.4 113.5,399.0 113.8,398.6 114.1,398.3 114.3,397.9 114.6,397.5 114.9,397.1 115.1,396.7 115.4,396.3 115.7,395.9 116,395.5 116.2,395.1 116.5,394.7 116.8,394.3 117,393.9 117.3,393.6 117.6,393.2 117.8,392.8 118.1,392.4 118.4,392.0 118.7,391.6 118.9,391.2 119.2,390.9 119.5,390.5 119.7,390.1 120,389.7 120.3,389.3 120.5,389.0 120.8,388.6 121.1,388.2 121.3,387.8 121.6,387.5 121.9,387.1 122.2,386.7 122.4,386.4 122.7,386.0 123,385.6 123.2,385.3 123.5,384.9 123.8,384.5 124,384.2 124.3,383.8 124.6,383.4 124.8,383.1 125.1,382.7 125.4,382.4 125.7,382.0 125.9,381.7 126.2,381.3 126.5,381.0 126.7,380.6 127,380.3 127.3,379.9 127.5,379.6 127.8,379.3 128.1,378.9 128.3,378.6 128.6,378.3 128.9,377.9 129.2,377.6 129.4,377.3 129.7,376.9 130,376.6 130.2,376.3 130.5,376.0 130.8,375.6 131,375.3 131.3,375.0 131.6,374.7 131.9,374.4 132.1,374.1 132.4,373.8 132.7,373.5 132.9,373.2 133.2,372.9 133.5,372.6 133.7,372.3 134,372.0 134.3,371.7 134.5,371.4 134.8,371.1 135.1,370.8 135.4,370.5 135.6,370.2 135.9,369.9 136.2,369.7 136.4,369.4 136.7,369.1 137,368.8 137.2,368.6 137.5,368.3 137.8,368.0 138,367.8 138.3,367.5 138.6,367.2 138.9,367.0 139.1,366.7 139.4,366.5 139.7,366.2 139.9,366.0 140.2,365.7 140.5,365.5 140.7,365.2 141,365.0 141.3,364.8 141.5,364.5 141.8,364.3 142.1,364.1 142.4,363.8 142.6,363.6 142.9,363.4 143.2,363.2 143.4,363.0 143.7,362.7 144,362.5 144.2,362.3 144.5,362.1 144.8,361.9 145.1,361.7 145.3,361.5 145.6,361.3 145.9,361.1 146.1,360.9 146.4,360.7 146.7,360.5 146.9,360.3 147.2,360.2 147.5,360.0 147.7,359.8 148,359.6 148.3,359.4 148.6,359.3 148.8,359.1 149.1,358.9 149.4,358.8 149.6,358.6 149.9,358.4 150.2,358.3 150.4,358.1 150.7,358.0 151,357.8 151.2,357.7 151.5,357.5 151.8,357.4 152.1,357.3 152.3,357.1 152.6,357.0 152.9,356.9 153.1,356.7 153.4,356.6 153.7,356.5 153.9,356.4 154.2,356.2 154.5,356.1 154.8,356.0 155,355.9 155.3,355.8 155.6,355.7 155.8,355.6 156.1,355.5 156.4,355.4 156.6,355.3 156.9,355.2 157.2,355.1 157.4,355.0 157.7,354.9 158,354.8 158.3,354.8 158.5,354.7 158.8,354.6 159.1,354.5 159.3,354.5 159.6,354.4 159.9,354.3 160.1,354.3 160.4,354.2 160.7,354.2 160.9,354.1 161.2,354.1 161.5,354.0 161.8,354.0 162,353.9 162.3,353.9 162.6,353.9 162.8,353.8 163.1,353.8 163.4,353.8 163.6,353.7 163.9,353.7 164.2,353.7 164.4,353.7 164.7,353.7 165,353.6 165.3,353.6 165.5,353.6 165.8,353.6 166.1,353.6 166.3,353.6 166.6,353.6 166.9,353.6 167.1,353.6 167.4,353.6 167.7,353.7 168,353.7 168.2,353.7 168.5,353.7 168.8,353.7 169,353.8 169.3,353.8 169.6,353.8 169.8,353.9 170.1,353.9 170.4,353.9 170.6,354.0 170.9,354.0 171.2,354.1 171.5,354.1 171.7,354.2 172,354.2 172.3,354.3 172.5,354.3 172.8,354.4 173.1,354.5 173.3,354.5 173.6,354.6 173.9,354.7 174.1,354.8 174.4,354.8 174.7,354.9 175,355.0 175.2,355.1 175.5,355.2 175.8,355.3 176,355.4 176.3,355.5 176.6,355.6 176.8,355.7 177.1,355.8 177.4,355.9 177.6,356.0 177.9,356.1 178.2,356.2 178.5,356.4 178.7,356.5 179,356.6 179.3,356.7 179.5,356.9 179.8,357.0 180.1,357.1 180.3,357.3 180.6,357.4 180.9,357.5 181.2,357.7 181.4,357.8 181.7,358.0 182,358.1 182.2,358.3 182.5,358.4 182.8,358.6 183,358.8 183.3,358.9 183.6,359.1 183.8,359.3 184.1,359.4 184.4,359.6 184.7,359.8 184.9,360.0 185.2,360.2 185.5,360.3 185.7,360.5 186,360.7 186.3,360.9 186.5,361.1 186.8,361.3 187.1,361.5 187.3,361.7 187.6,361.9 187.9,362.1 188.2,362.3 188.4,362.5 188.7,362.7 189,363.0 189.2,363.2 189.5,363.4 189.8,363.6 190,363.8 190.3,364.1 190.6,364.3 190.9,364.5 191.1,364.8 191.4,365.0 191.7,365.2 191.9,365.5 192.2,365.7 192.5,366.0 192.7,366.2 193,366.5 193.3,366.7 193.5,367.0 193.8,367.2 194.1,367.5 194.4,367.8 194.6,368.0 194.9,368.3 195.2,368.6 195.4,368.8 195.7,369.1 196,369.4 196.2,369.7 196.5,369.9 196.8,370.2 197,370.5 197.3,370.8 197.6,371.1 197.9,371.4 198.1,371.7 198.4,372.0 198.7,372.3 198.9,372.6 199.2,372.9 199.5,373.2 199.7,373.5 200,373.8 200.3,374.1 200.5,374.4 200.8,374.7 201.1,375.0 201.4,375.3 201.6,375.6 201.9,376.0 202.2,376.3 202.4,376.6 202.7,376.9 203,377.3 203.2,377.6 203.5,377.9 203.8,378.3 204.1,378.6 204.3,378.9 204.6,379.3 204.9,379.6 205.1,379.9 205.4,380.3 205.7,380.6 205.9,381.0 206.2,381.3 206.5,381.7 206.7,382.0 207,382.4 207.3,382.7 207.6,383.1 207.8,383.4 208.1,383.8 208.4,384.2 208.6,384.5 208.9,384.9 209.2,385.3 209.4,385.6 209.7,386.0 210,386.4 210.2,386.7 210.5,387.1 210.8,387.5 211.1,387.8 211.3,388.2 211.6,388.6 211.9,389.0 212.1,389.3 212.4,389.7 212.7,390.1 212.9,390.5 213.2,390.9 213.5,391.2 213.7,391.6 214,392.0 214.3,392.4 214.6,392.8 214.8,393.2 215.1,393.6 215.4,393.9 215.6,394.3 215.9,394.7 216.2,395.1 216.4,395.5 216.7,395.9 217,396.3 217.3,396.7 217.5,397.1 217.8,397.5 218.1,397.9 218.3,398.3 218.6,398.6 218.9,399.0 219.1,399.4 219.4,399.8 219.7,400.2 219.9,400.6 220.2,401.0 220.5,401.4 220.8,401.8 221,402.2 221.3,402.6 221.6,403.0 221.8,403.4 222.1,403.8 222.4,404.2 222.6,404.6 222.9,405.0 223.2,405.4 223.4,405.7 223.7,406.1 224,406.5 224.3,406.9 224.5,407.3 224.8,407.7 225.1,408.1 225.3,408.5 225.6,408.9 225.9,409.2 226.1,409.6 226.4,410.0 226.7,410.4 226.9,410.8 227.2,411.2 227.5,411.5 227.8,411.9 228,412.3 228.3,412.7 228.6,413.0 228.8,413.4 229.1,413.8 229.4,414.2 229.6,414.5 229.9,414.9 230.2,415.3 230.5,415.6 230.7,416.0 231,416.3 231.3,416.7 231.5,417.0 231.8,417.4 232.1,417.8 232.3,418.1 232.6,418.4 232.9,418.8 233.1,419.1 233.4,419.5 233.7,419.8 234,420.1 234.2,420.5 234.5,420.8 234.8,421.1 235,421.5 235.3,421.8 235.6,422.1 235.8,422.4 236.1,422.7 236.4,423.1 236.6,423.4 236.9,423.7 237.2,424.0 237.5,424.3 237.7,424.6 238,424.9 238.3,425.2 238.5,425.5 238.8,425.7 239.1,426.0 239.3,426.3 239.6,426.6 239.9,426.9 240.2,427.1 240.4,427.4 240.7,427.7 241,427.9 241.2,428.2 241.5,428.5 241.8,428.7 242,429.0 242.3,429.2 242.6,429.4 242.8,429.7 243.1,429.9 243.4,430.2 243.7,430.4 243.9,430.6 244.2,430.8 244.5,431.1 244.7,431.3 245,431.5 245.3,431.7 245.5,431.9 245.8,432.1 246.1,432.3 246.3,432.5 246.6,432.7 246.9,432.9 247.2,433.1 247.4,433.3 247.7,433.5 248,433.7 248.2,433.8 248.5,434.0 248.8,434.2 249,434.4 249.3,434.5 249.6,434.7 249.8,434.8 250.1,435.0 250.4,435.2 250.7,435.3 250.9,435.5 251.2,435.6 251.5,435.7 251.7,435.9 252,436.0 252.3,436.2 252.5,436.3 252.8,436.4 253.1,436.5 253.4,436.7 253.6,436.8 253.9,436.9 254.2,437.0 254.4,437.1 254.7,437.3 255,437.4 255.2,437.5 255.5,437.6 255.8,437.7 256,437.8 256.3,437.9 256.6,438.0 256.9,438.1 257.1,438.2 257.4,438.2 257.7,438.3 257.9,438.4 258.2,438.5 258.5,438.6 258.7,438.7 259,438.7 259.3,438.8 259.5,438.9 259.8,439.0 260.1,439.0 260.4,439.1 260.6,439.2 260.9,439.2 261.2,439.3 261.4,439.4 261.7,439.4 262,439.5 262.2,439.5 262.5,439.6 262.8,439.6 263,439.7 263.3,439.8 263.6,439.8 263.9,439.9 264.1,439.9 264.4,439.9 264.7,440.0 264.9,440.0 265.2,440.1 265.5,440.1 265.7,440.2 266,440.2 266.3,440.2 266.6,440.3 266.8,440.3 267.1,440.4 267.4,440.4 267.6,440.4 267.9,440.5 268.2,440.5 268.4,440.5 268.7,440.5 269,440.6 269.2,440.6 269.5,440.6 269.8,440.7 270.1,440.7 270.3,440.7 270.6,440.7 270.9,440.8 271.1,440.8 271.4,440.8 271.7,440.8 271.9,440.8 272.2,440.9 272.5,440.9 272.7,440.9 273,440.9 273.3,440.9 273.6,441.0 273.8,441.0" fill="none" stroke="#ec3489" stroke-width="0.9" stroke-linejoin="round" opacity="1.0"/>
<rect x="353.5" y="286.4" width="232.2" height="173" fill="none" stroke="#a6a6a6" stroke-width="1"/>
<text x="348.2" y="464.3" text-anchor="end" style="font-family:'Liberation Sans',sans-serif;font-style:normal;font-weight:normal;font-size:13px;fill:#231f20;stroke:#231f20;stroke-width:0.25px" >-2</text>
<line x1="353.5" y1="437.77" x2="356.5" y2="437.77" stroke="#8a8a8a" stroke-width="1"/>
<text x="348.2" y="442.67" text-anchor="end" style="font-family:'Liberation Sans',sans-serif;font-style:normal;font-weight:normal;font-size:13px;fill:#231f20;stroke:#231f20;stroke-width:0.25px" >0</text>
<line x1="353.5" y1="416.15" x2="356.5" y2="416.15" stroke="#8a8a8a" stroke-width="1"/>
<text x="348.2" y="421.05" text-anchor="end" style="font-family:'Liberation Sans',sans-serif;font-style:normal;font-weight:normal;font-size:13px;fill:#231f20;stroke:#231f20;stroke-width:0.25px" >2</text>
<line x1="353.5" y1="394.52" x2="356.5" y2="394.52" stroke="#8a8a8a" stroke-width="1"/>
<text x="348.2" y="399.42" text-anchor="end" style="font-family:'Liberation Sans',sans-serif;font-style:normal;font-weight:normal;font-size:13px;fill:#231f20;stroke:#231f20;stroke-width:0.25px" >4</text>
<line x1="353.5" y1="372.9" x2="356.5" y2="372.9" stroke="#8a8a8a" stroke-width="1"/>
<text x="348.2" y="377.8" text-anchor="end" style="font-family:'Liberation Sans',sans-serif;font-style:normal;font-weight:normal;font-size:13px;fill:#231f20;stroke:#231f20;stroke-width:0.25px" >6</text>
<line x1="353.5" y1="351.27" x2="356.5" y2="351.27" stroke="#8a8a8a" stroke-width="1"/>
<text x="348.2" y="356.17" text-anchor="end" style="font-family:'Liberation Sans',sans-serif;font-style:normal;font-weight:normal;font-size:13px;fill:#231f20;stroke:#231f20;stroke-width:0.25px" >8</text>
<line x1="353.5" y1="329.65" x2="356.5" y2="329.65" stroke="#8a8a8a" stroke-width="1"/>
<path d="M515 0L696 0L696 1409L530 1409Q420 1260 197 1180L197 1010Q400 1080 515 1237Z" transform="translate(333.74,334.55) scale(0.00635,-0.00635)" fill="#231f20" stroke="#231f20" stroke-width="0.25" vector-effect="non-scaling-stroke"/>
<text x="340.97" y="334.55" style="font-family:'Liberation Sans',sans-serif;font-style:normal;font-weight:normal;font-size:13px;fill:#231f20;stroke:#231f20;stroke-width:0.25px" >0</text>
<line x1="353.5" y1="308.02" x2="356.5" y2="308.02" stroke="#8a8a8a" stroke-width="1"/>
<path d="M515 0L696 0L696 1409L530 1409Q420 1260 197 1180L197 1010Q400 1080 515 1237Z" transform="translate(333.74,312.92) scale(0.00635,-0.00635)" fill="#231f20" stroke="#231f20" stroke-width="0.25" vector-effect="non-scaling-stroke"/>
<text x="340.97" y="312.92" style="font-family:'Liberation Sans',sans-serif;font-style:normal;font-weight:normal;font-size:13px;fill:#231f20;stroke:#231f20;stroke-width:0.25px" >2</text>
<path d="M515 0L696 0L696 1409L530 1409Q420 1260 197 1180L197 1010Q400 1080 515 1237Z" transform="translate(333.74,291.3) scale(0.00635,-0.00635)" fill="#231f20" stroke="#231f20" stroke-width="0.25" vector-effect="non-scaling-stroke"/>
<text x="340.97" y="291.3" style="font-family:'Liberation Sans',sans-serif;font-style:normal;font-weight:normal;font-size:13px;fill:#231f20;stroke:#231f20;stroke-width:0.25px" >4</text>
<line x1="385.1" y1="459.4" x2="385.1" y2="456.4" stroke="#8a8a8a" stroke-width="1"/>
<path d="M515 0L696 0L696 1409L530 1409Q420 1260 197 1180L197 1010Q400 1080 515 1237Z" transform="translate(376.56,474.8) scale(0.00635,-0.00635)" fill="#231f20" stroke="#231f20" stroke-width="0.25" vector-effect="non-scaling-stroke"/>
<text x="383.79" y="474.8" style="font-family:'Liberation Sans',sans-serif;font-style:normal;font-weight:normal;font-size:13px;fill:#231f20;stroke:#231f20;stroke-width:0.25px" >.6</text>
<line x1="427.32" y1="459.4" x2="427.32" y2="456.4" stroke="#8a8a8a" stroke-width="1"/>
<path d="M515 0L696 0L696 1409L530 1409Q420 1260 197 1180L197 1010Q400 1080 515 1237Z" transform="translate(418.79,474.8) scale(0.00635,-0.00635)" fill="#231f20" stroke="#231f20" stroke-width="0.25" vector-effect="non-scaling-stroke"/>
<text x="426.02" y="474.8" style="font-family:'Liberation Sans',sans-serif;font-style:normal;font-weight:normal;font-size:13px;fill:#231f20;stroke:#231f20;stroke-width:0.25px" >.8</text>
<line x1="469.55" y1="459.4" x2="469.55" y2="456.4" stroke="#8a8a8a" stroke-width="1"/>
<text x="470.05" y="474.8" text-anchor="middle" style="font-family:'Liberation Sans',sans-serif;font-style:normal;font-weight:normal;font-size:13px;fill:#231f20;stroke:#231f20;stroke-width:0.25px" >2.0</text>
<line x1="511.78" y1="459.4" x2="511.78" y2="456.4" stroke="#8a8a8a" stroke-width="1"/>
<text x="512.28" y="474.8" text-anchor="middle" style="font-family:'Liberation Sans',sans-serif;font-style:normal;font-weight:normal;font-size:13px;fill:#231f20;stroke:#231f20;stroke-width:0.25px" >2.2</text>
<line x1="554" y1="459.4" x2="554" y2="456.4" stroke="#8a8a8a" stroke-width="1"/>
<text x="554.5" y="474.8" text-anchor="middle" style="font-family:'Liberation Sans',sans-serif;font-style:normal;font-weight:normal;font-size:13px;fill:#231f20;stroke:#231f20;stroke-width:0.25px" >2.4</text>
<text x="470.65" y="493.8" text-anchor="middle" style="font-family:'Liberation Sans',sans-serif;font-style:normal;font-weight:normal;font-size:13.9px;fill:#231f20;stroke:#231f20;stroke-width:0.25px" textLength="102.4" lengthAdjust="spacingAndGlyphs">Frequency (MHz)</text>
<text transform="translate(322,372.7) rotate(-90)" text-anchor="middle" textLength="103.2" lengthAdjust="spacingAndGlyphs" style="font-family:'Liberation Sans',sans-serif;font-size:13.6px;fill:#231f20;stroke:#231f20;stroke-width:0.25px">Noise power (dB)</text>
<text x="310.51" y="287.3" style="font-family:'Liberation Sans',sans-serif;font-style:normal;font-weight:bold;font-size:18px;fill:#000;stroke:#000;stroke-width:0.25px" >d</text>
<polyline points="364,424.9 364.3,424.7 364.5,425.3 364.8,423.9 365,425.1 365.3,424.9 365.6,424.3 365.8,425.3 366.1,424.2 366.4,424.2 366.6,424.7 366.9,425.1 367.2,424.8 367.4,425.4 367.7,423.9 368,424.6 368.2,424.9 368.5,425.0 368.7,424.3 369,423.9 369.3,425.2 369.5,424.8 369.8,425.4 370.1,424.3 370.3,424.5 370.6,423.5 370.9,424.6 371.1,424.8 371.4,424.9 371.7,424.2 371.9,425.3 372.2,424.2 372.4,424.5 372.7,424.8 373,425.0 373.2,424.1 373.5,423.7 373.8,424.8 374,424.3 374.3,423.8 374.6,424.9 374.8,424.7 375.1,425.1 375.3,424.7 375.6,424.6 375.9,424.8 376.1,424.9 376.4,425.3 376.7,425.2 376.9,425.0 377.2,424.3 377.5,424.8 377.7,425.0 378,424.3 378.3,424.3 378.5,424.9 378.8,424.9 379,424.3 379.3,424.4 379.6,425.0 379.8,424.5 380.1,424.6 380.4,424.1 380.6,425.0 380.9,424.2 381.2,424.4 381.4,425.1 381.7,424.1 382,424.2 382.2,425.2 382.5,423.7 382.7,425.1 383,425.0 383.3,424.7 383.5,424.2 383.8,424.3 384.1,424.6 384.3,423.9 384.6,424.4 384.9,423.9 385.1,423.3 385.4,424.5 385.7,425.8 385.9,424.8 386.2,425.1 386.4,424.5 386.7,424.5 387,425.2 387.2,425.1 387.5,424.7 387.8,424.7 388,425.8 388.3,424.1 388.6,424.6 388.8,424.6 389.1,424.4 389.4,425.1 389.6,424.6 389.9,424.1 390.1,424.1 390.4,424.4 390.7,424.7 390.9,425.0 391.2,424.0 391.5,424.3 391.7,424.8 392,425.6 392.3,425.0 392.5,425.5 392.8,424.0 393.1,424.5 393.3,424.9 393.6,424.7 393.8,423.4 394.1,424.0 394.4,425.2 394.6,424.6 394.9,425.2 395.2,425.4 395.4,424.5 395.7,423.4 396,423.8 396.2,424.6 396.5,424.8 396.8,424.5 397,424.1 397.3,425.3 397.5,425.5 397.8,423.7 398.1,424.5 398.3,423.8 398.6,424.5 398.9,423.9 399.1,424.9 399.4,424.3 399.7,423.8 399.9,424.1 400.2,424.8 400.5,424.2 400.7,424.9 401,425.3 401.2,424.3 401.5,423.9 401.8,424.2 402,425.2 402.3,424.2 402.6,424.3 402.8,424.8 403.1,425.8 403.4,424.1 403.6,424.2 403.9,424.3 404.2,425.4 404.4,425.3 404.7,424.1 404.9,424.2 405.2,424.3 405.5,424.7 405.7,424.4 406,424.8 406.3,424.7 406.5,425.0 406.8,424.5 407.1,424.8 407.3,424.1 407.6,424.2 407.9,425.0 408.1,423.7 408.4,425.1 408.6,424.4 408.9,424.1 409.2,424.0 409.4,425.7 409.7,424.1 410,424.0 410.2,423.9 410.5,425.7 410.8,424.9 411,424.6 411.3,424.8 411.6,423.9 411.8,424.9 412.1,424.0 412.3,424.3 412.6,425.3 412.9,425.1 413.1,424.8 413.4,424.5 413.7,424.1 413.9,424.7 414.2,424.1 414.5,425.3 414.7,426.1 415,424.7 415.2,424.4 415.5,424.8 415.8,425.1 416,424.4 416.3,423.6 416.6,424.6 416.8,424.9 417.1,425.0 417.4,423.6 417.6,424.6 417.9,424.3 418.2,424.0 418.4,424.1 418.7,425.0 418.9,424.1 419.2,424.2 419.5,424.3 419.7,424.1 420,424.9 420.3,424.6 420.5,424.8 420.8,424.2 421.1,424.9 421.3,424.4 421.6,425.1 421.9,424.6 422.1,424.8 422.4,424.6 422.6,424.5 422.9,424.7 423.2,424.7 423.4,425.6 423.7,424.0 424,424.9 424.2,424.7 424.5,425.0 424.8,424.1 425,425.0 425.3,424.3 425.6,424.0 425.8,423.8 426.1,424.0 426.3,424.3 426.6,425.2 426.9,424.0 427.1,424.0 427.4,424.2 427.7,424.2 427.9,424.5 428.2,424.8 428.5,424.1 428.7,424.0 429,425.1 429.3,424.1 429.5,424.5 429.8,424.1 430,424.4 430.3,424.0 430.6,424.1 430.8,424.1 431.1,425.2 431.4,424.2 431.6,424.6 431.9,425.1 432.2,424.2 432.4,425.2 432.7,424.1 433,423.8 433.2,424.8 433.5,424.1 433.7,424.4 434,424.3 434.3,425.2 434.5,424.3 434.8,424.5 435.1,424.2 435.3,424.6 435.6,424.0 435.9,424.4 436.1,424.2 436.4,423.9 436.7,424.5 436.9,424.1 437.2,424.5 437.4,424.3 437.7,424.8 438,424.2 438.2,424.0 438.5,424.6 438.8,424.2 439,424.4 439.3,425.1 439.6,424.4 439.8,423.9 440.1,424.8 440.4,425.4 440.6,424.5 440.9,424.9 441.1,423.7 441.4,424.6 441.7,424.6 441.9,424.9 442.2,424.4 442.5,424.8 442.7,425.0 443,424.6 443.3,425.0 443.5,423.9 443.8,425.1 444.1,424.6 444.3,424.9 444.6,425.2 444.8,423.8 445.1,425.6 445.4,423.9 445.6,425.2 445.9,424.5 446.2,423.5 446.4,425.6 446.7,425.2 447,423.9 447.2,424.5 447.5,424.8 447.8,424.6 448,425.0 448.3,424.5 448.5,423.9 448.8,424.7 449.1,424.5 449.3,424.0 449.6,423.6 449.9,424.8 450.1,424.4 450.4,424.8 450.7,424.9 450.9,424.8 451.2,424.9 451.4,425.4 451.7,425.5 452,424.9 452.2,424.5 452.5,424.0 452.8,424.8 453,424.6 453.3,424.3 453.6,424.2 453.8,424.6 454.1,424.6 454.4,423.7 454.6,424.7 454.9,424.8 455.1,425.3 455.4,424.4 455.7,424.7 455.9,423.7 456.2,424.7 456.5,424.2 456.7,424.1 457,423.8 457.3,425.2 457.5,423.8 457.8,424.6 458.1,424.6 458.3,424.7 458.6,424.8 458.8,424.7 459.1,425.7 459.4,424.3 459.6,424.5 459.9,425.0 460.2,424.6 460.4,423.5 460.7,424.4 461,424.8 461.2,423.8 461.5,424.9 461.8,424.6 462,424.8 462.3,424.7 462.5,424.2 462.8,424.3 463.1,424.9 463.3,424.6 463.6,424.5 463.9,424.8 464.1,424.6 464.4,424.9 464.7,424.9 464.9,424.5 465.2,425.1 465.5,424.4 465.7,424.7 466,425.0 466.2,424.9 466.5,424.8 466.8,424.6 467,424.5 467.3,424.7 467.6,425.0 467.8,423.9 468.1,424.1 468.4,424.5 468.6,424.1 468.9,424.4 469.2,424.7 469.4,424.5 469.7,423.3 469.9,424.1 470.2,424.1 470.5,424.8 470.7,424.3 471,423.5 471.3,424.4 471.5,424.1 471.8,424.0 472.1,424.3 472.3,423.8 472.6,424.5 472.9,424.3 473.1,424.9 473.4,423.3 473.6,424.4 473.9,424.5 474.2,423.9 474.4,424.8 474.7,424.6 475,424.9 475.2,424.6 475.5,424.8 475.8,424.3 476,424.6 476.3,424.9 476.6,424.7 476.8,424.6 477.1,424.8 477.3,424.1 477.6,424.3 477.9,424.5 478.1,425.1 478.4,424.3 478.7,425.2 478.9,424.5 479.2,424.5 479.5,424.8 479.7,425.0 480,424.9 480.3,423.6 480.5,424.7 480.8,424.7 481,424.1 481.3,424.4 481.6,424.1 481.8,425.1 482.1,425.1 482.4,423.0 482.6,424.6 482.9,424.7 483.2,424.5 483.4,424.1 483.7,425.1 484,424.4 484.2,424.6 484.5,424.3 484.7,424.5 485,424.8 485.3,425.0 485.5,425.7 485.8,424.1 486.1,425.3 486.3,424.8 486.6,423.8 486.9,424.8 487.1,424.3 487.4,424.7 487.7,424.2 487.9,424.6 488.2,424.8 488.4,423.9 488.7,424.7 489,425.2 489.2,424.7 489.5,424.3 489.8,425.1 490,424.2 490.3,424.2 490.6,423.6 490.8,424.9 491.1,424.3 491.3,425.4 491.6,424.8 491.9,424.5 492.1,424.4 492.4,424.6 492.7,424.6 492.9,424.9 493.2,424.8 493.5,424.4 493.7,424.3 494,424.3 494.3,424.1 494.5,424.0 494.8,425.4 495,424.8 495.3,424.6 495.6,424.9 495.8,424.1 496.1,424.2 496.4,424.6 496.6,424.5 496.9,424.0 497.2,424.7 497.4,424.7 497.7,424.1 498,424.4 498.2,423.9 498.5,424.4 498.7,424.2 499,424.8 499.3,425.0 499.5,424.6 499.8,425.8 500.1,424.4 500.3,424.1 500.6,424.5 500.9,424.7 501.1,424.1 501.4,424.6 501.7,424.1 501.9,423.5 502.2,424.2 502.4,424.1 502.7,424.3 503,424.5 503.2,424.4 503.5,424.5 503.8,424.1 504,425.3 504.3,424.7 504.6,424.3 504.8,425.0 505.1,424.6 505.4,424.9 505.6,424.4 505.9,424.2 506.1,423.9 506.4,424.3 506.7,424.9 506.9,424.5 507.2,424.3 507.5,423.9 507.7,425.6 508,424.4 508.3,425.4 508.5,424.2 508.8,424.4 509.1,424.3 509.3,424.2 509.6,424.4 509.8,424.9 510.1,424.4 510.4,424.0 510.6,424.6 510.9,424.6 511.2,425.1 511.4,424.0 511.7,424.8 512,424.9 512.2,424.8 512.5,425.0 512.8,424.7 513,424.0 513.3,424.2 513.5,423.9 513.8,423.9 514.1,425.0 514.3,424.3 514.6,423.9 514.9,423.5 515.1,425.2 515.4,425.2 515.7,424.4 515.9,424.7 516.2,425.0 516.5,424.4 516.7,424.9 517,425.6 517.2,424.6 517.5,424.5 517.8,424.3 518,424.1 518.3,424.5 518.6,424.7 518.8,424.9 519.1,425.3 519.4,424.8 519.6,424.1 519.9,424.3 520.2,423.6 520.4,424.6 520.7,425.4 520.9,424.2 521.2,424.1 521.5,425.1 521.7,425.3 522,424.5 522.3,424.2 522.5,425.1 522.8,424.7 523.1,424.9 523.3,425.1 523.6,425.2 523.9,424.5 524.1,424.7 524.4,424.9 524.6,425.8 524.9,423.8 525.2,425.0 525.4,424.6 525.7,425.1 526,424.4 526.2,425.3 526.5,424.5 526.8,424.7 527,424.1 527.3,425.1 527.5,424.9 527.8,424.7 528.1,423.6 528.3,425.3 528.6,424.4 528.9,424.9 529.1,424.4 529.4,424.3 529.7,424.5 529.9,424.5 530.2,424.4 530.5,424.9 530.7,424.7 531,425.3 531.2,424.7 531.5,424.9 531.8,424.7 532,424.2 532.3,424.4 532.6,424.4 532.8,424.1 533.1,425.7 533.4,424.4 533.6,424.6 533.9,424.6 534.2,425.2 534.4,424.3 534.7,424.0 534.9,424.1 535.2,424.6 535.5,424.3 535.7,424.2 536,423.7 536.3,424.0 536.5,424.5 536.8,424.5 537.1,424.5 537.3,424.5 537.6,424.8 537.9,424.2 538.1,424.9 538.4,425.0 538.6,424.4 538.9,424.8 539.2,424.7 539.4,425.5 539.7,424.2 540,424.6 540.2,424.6 540.5,424.4 540.8,424.5 541,424.9 541.3,423.7 541.6,424.8 541.8,424.1 542.1,423.7 542.3,424.9 542.6,424.5 542.9,425.0 543.1,424.1 543.4,424.7 543.7,425.1 543.9,424.0 544.2,424.2 544.5,425.0 544.7,424.0 545,424.5 545.3,423.3 545.5,423.8 545.8,424.8 546,424.7 546.3,425.0 546.6,424.5 546.8,424.6 547.1,424.2 547.4,424.5 547.6,425.3 547.9,425.0 548.2,423.9 548.4,424.0 548.7,424.7 549,424.6 549.2,424.7 549.5,424.6 549.7,425.4 550,424.2 550.3,424.9 550.5,424.5 550.8,425.8 551.1,424.5 551.3,424.0 551.6,425.6 551.9,423.9 552.1,424.4 552.4,424.9 552.7,425.3 552.9,424.0 553.2,424.5 553.4,424.3 553.7,424.7 554,425.0 554.2,424.2 554.5,425.0 554.8,424.2 555,425.4 555.3,425.0 555.6,425.3 555.8,424.0 556.1,425.4 556.4,425.1 556.6,424.3 556.9,424.5 557.1,423.6 557.4,423.7 557.7,424.3 557.9,424.3 558.2,425.4 558.5,425.0 558.7,424.7 559,424.7 559.3,425.2 559.5,425.0 559.8,425.0 560.1,424.1 560.3,424.4 560.6,424.7 560.8,424.7 561.1,424.4 561.4,424.9 561.6,424.7 561.9,425.4 562.2,424.3 562.4,424.1 562.7,424.4 563,424.4 563.2,424.4 563.5,423.6 563.8,424.5 564,425.2 564.3,425.1 564.5,424.3 564.8,424.1 565.1,424.2 565.3,424.2 565.6,424.5 565.9,425.3 566.1,424.9 566.4,425.4 566.7,424.8 566.9,425.2 567.2,424.5 567.4,424.7 567.7,425.5 568,424.2 568.2,424.2 568.5,425.2 568.8,424.5 569,424.3 569.3,424.7 569.6,424.2 569.8,424.5 570.1,424.1 570.4,424.5 570.6,424.7 570.9,424.3 571.1,424.2 571.4,424.5 571.7,424.8 571.9,425.0 572.2,424.8 572.5,424.9 572.7,424.5 573,424.5 573.3,424.6 573.5,424.6 573.8,424.5 574.1,423.9 574.3,424.0 574.6,424.9 574.8,424.4 575.1,424.7" fill="none" stroke="#b8233a" stroke-width="0.85" stroke-linejoin="round" opacity="1.0"/>
<polyline points="364,437.8 364.3,437.9 364.5,438.1 364.8,438.5 365,439.1 365.3,437.7 365.6,437.2 365.8,438.3 366.1,437.5 366.4,438.0 366.6,437.6 366.9,438.2 367.2,437.9 367.4,437.8 367.7,439.0 368,437.7 368.2,437.9 368.5,439.1 368.7,437.4 369,437.8 369.3,437.7 369.5,437.6 369.8,438.0 370.1,438.3 370.3,438.0 370.6,438.0 370.9,436.6 371.1,436.8 371.4,438.0 371.7,438.0 371.9,437.6 372.2,437.5 372.4,438.1 372.7,438.3 373,436.8 373.2,437.2 373.5,438.6 373.8,438.7 374,438.2 374.3,437.7 374.6,437.5 374.8,438.0 375.1,438.6 375.3,437.7 375.6,437.5 375.9,437.8 376.1,438.0 376.4,437.5 376.7,437.8 376.9,438.4 377.2,437.7 377.5,438.5 377.7,437.3 378,437.5 378.3,438.3 378.5,437.7 378.8,437.1 379,438.9 379.3,437.9 379.6,436.9 379.8,438.6 380.1,437.9 380.4,438.5 380.6,437.8 380.9,439.1 381.2,438.6 381.4,438.1 381.7,437.7 382,437.6 382.2,437.6 382.5,437.2 382.7,437.4 383,437.4 383.3,438.3 383.5,437.9 383.8,436.1 384.1,436.6 384.3,437.4 384.6,437.4 384.9,437.3 385.1,438.0 385.4,436.8 385.7,438.0 385.9,437.8 386.2,436.6 386.4,438.9 386.7,437.6 387,438.7 387.2,438.1 387.5,437.8 387.8,438.0 388,437.7 388.3,438.2 388.6,437.8 388.8,438.4 389.1,438.0 389.4,438.5 389.6,437.4 389.9,438.5 390.1,437.4 390.4,438.0 390.7,438.0 390.9,437.2 391.2,437.7 391.5,438.8 391.7,437.5 392,439.3 392.3,437.6 392.5,438.0 392.8,438.5 393.1,437.7 393.3,438.0 393.6,436.7 393.8,438.0 394.1,436.8 394.4,437.1 394.6,438.1 394.9,438.2 395.2,437.1 395.4,437.9 395.7,437.7 396,437.9 396.2,438.4 396.5,438.0 396.8,438.3 397,438.6 397.3,437.9 397.5,436.8 397.8,436.9 398.1,437.8 398.3,437.7 398.6,437.5 398.9,437.1 399.1,437.6 399.4,438.0 399.7,438.0 399.9,437.2 400.2,436.4 400.5,438.1 400.7,438.9 401,437.4 401.2,437.8 401.5,437.7 401.8,437.1 402,437.8 402.3,438.5 402.6,438.8 402.8,437.8 403.1,438.4 403.4,437.6 403.6,438.5 403.9,438.0 404.2,438.6 404.4,438.0 404.7,438.0 404.9,437.5 405.2,437.1 405.5,437.9 405.7,438.3 406,436.7 406.3,437.6 406.5,437.5 406.8,437.5 407.1,437.0 407.3,437.2 407.6,437.4 407.9,437.4 408.1,438.3 408.4,438.1 408.6,437.8 408.9,437.7 409.2,437.8 409.4,437.6 409.7,437.8 410,438.0 410.2,438.7 410.5,437.3 410.8,437.5 411,438.3 411.3,437.5 411.6,437.6 411.8,437.7 412.1,438.8 412.3,438.4 412.6,438.1 412.9,436.9 413.1,438.3 413.4,438.0 413.7,438.4 413.9,438.1 414.2,437.6 414.5,438.9 414.7,439.3 415,437.4 415.2,437.8 415.5,438.1 415.8,437.3 416,437.3 416.3,438.9 416.6,437.9 416.8,437.2 417.1,438.2 417.4,438.0 417.6,437.3 417.9,437.9 418.2,438.4 418.4,438.2 418.7,438.5 418.9,437.5 419.2,438.7 419.5,437.2 419.7,438.7 420,437.8 420.3,438.6 420.5,438.0 420.8,437.2 421.1,437.2 421.3,437.1 421.6,437.8 421.9,437.7 422.1,437.7 422.4,437.5 422.6,438.0 422.9,437.2 423.2,437.6 423.4,437.2 423.7,437.5 424,437.4 424.2,438.2 424.5,438.0 424.8,438.5 425,437.9 425.3,437.9 425.6,437.3 425.8,438.5 426.1,436.0 426.3,437.9 426.6,437.1 426.9,437.2 427.1,439.2 427.4,437.9 427.7,437.0 427.9,439.1 428.2,437.4 428.5,438.3 428.7,438.0 429,437.7 429.3,438.8 429.5,437.7 429.8,438.1 430,438.2 430.3,437.4 430.6,435.9 430.8,437.6 431.1,437.5 431.4,437.8 431.6,438.2 431.9,437.7 432.2,437.0 432.4,437.7 432.7,437.3 433,437.9 433.2,436.4 433.5,438.7 433.7,437.5 434,437.5 434.3,437.6 434.5,438.4 434.8,438.4 435.1,437.9 435.3,437.7 435.6,438.4 435.9,438.4 436.1,437.5 436.4,437.2 436.7,438.1 436.9,438.2 437.2,438.2 437.4,436.5 437.7,437.5 438,437.8 438.2,437.2 438.5,436.6 438.8,437.2 439,438.6 439.3,437.8 439.6,438.0 439.8,438.0 440.1,438.5 440.4,438.0 440.6,438.4 440.9,437.6 441.1,437.8 441.4,438.6 441.7,438.7 441.9,438.1 442.2,437.4 442.5,437.5 442.7,437.8 443,439.6 443.3,438.1 443.5,438.2 443.8,438.0 444.1,438.5 444.3,438.0 444.6,438.2 444.8,436.3 445.1,437.4 445.4,437.9 445.6,437.8 445.9,437.9 446.2,437.7 446.4,438.0 446.7,437.8 447,437.2 447.2,437.3 447.5,437.6 447.8,437.1 448,437.7 448.3,438.3 448.5,438.7 448.8,438.2 449.1,437.8 449.3,437.6 449.6,437.2 449.9,438.1 450.1,438.2 450.4,437.4 450.7,437.2 450.9,438.1 451.2,437.6 451.4,437.1 451.7,437.6 452,437.8 452.2,438.9 452.5,437.1 452.8,437.4 453,437.7 453.3,438.0 453.6,438.5 453.8,437.9 454.1,437.9 454.4,437.2 454.6,438.5 454.9,437.0 455.1,437.8 455.4,437.2 455.7,438.3 455.9,437.6 456.2,437.1 456.5,437.7 456.7,438.6 457,438.0 457.3,437.5 457.5,438.6 457.8,438.6 458.1,437.7 458.3,438.3 458.6,437.4 458.8,438.4 459.1,438.8 459.4,438.2 459.6,437.0 459.9,438.3 460.2,437.8 460.4,437.7 460.7,438.3 461,437.2 461.2,437.7 461.5,437.6 461.8,438.7 462,438.7 462.3,439.3 462.5,437.9 462.8,437.9 463.1,437.4 463.3,437.0 463.6,437.9 463.9,437.9 464.1,437.6 464.4,437.0 464.7,438.2 464.9,437.5 465.2,437.9 465.5,438.0 465.7,437.4 466,438.2 466.2,438.4 466.5,437.4 466.8,437.8 467,437.9 467.3,437.9 467.6,437.5 467.8,438.0 468.1,437.4 468.4,437.6 468.6,437.0 468.9,437.1 469.2,437.3 469.4,437.9 469.7,437.7 469.9,438.1 470.2,436.3 470.5,437.9 470.7,437.5 471,437.1 471.3,438.5 471.5,438.2 471.8,438.0 472.1,438.3 472.3,438.5 472.6,438.1 472.9,437.1 473.1,437.4 473.4,437.8 473.6,437.8 473.9,438.7 474.2,437.4 474.4,437.6 474.7,438.4 475,437.7 475.2,437.9 475.5,438.1 475.8,438.3 476,438.2 476.3,438.3 476.6,437.5 476.8,437.6 477.1,437.6 477.3,437.9 477.6,438.0 477.9,436.7 478.1,438.8 478.4,437.1 478.7,437.6 478.9,437.8 479.2,438.1 479.5,437.9 479.7,438.4 480,438.5 480.3,437.9 480.5,438.7 480.8,437.3 481,437.2 481.3,439.7 481.6,438.6 481.8,437.6 482.1,437.7 482.4,437.7 482.6,437.6 482.9,437.4 483.2,437.3 483.4,436.8 483.7,437.8 484,437.3 484.2,438.7 484.5,437.9 484.7,438.4 485,437.0 485.3,436.5 485.5,437.5 485.8,438.5 486.1,437.9 486.3,437.8 486.6,437.7 486.9,437.2 487.1,437.3 487.4,439.2 487.7,437.0 487.9,438.1 488.2,438.1 488.4,437.0 488.7,437.9 489,438.5 489.2,438.5 489.5,437.8 489.8,437.3 490,437.0 490.3,437.9 490.6,438.0 490.8,436.9 491.1,438.0 491.3,437.0 491.6,437.7 491.9,437.7 492.1,437.9 492.4,437.6 492.7,438.0 492.9,438.2 493.2,437.9 493.5,438.1 493.7,437.6 494,437.7 494.3,437.9 494.5,437.9 494.8,437.9 495,436.8 495.3,437.8 495.6,438.1 495.8,437.9 496.1,437.4 496.4,437.9 496.6,437.9 496.9,437.9 497.2,437.7 497.4,437.6 497.7,437.5 498,438.7 498.2,438.4 498.5,439.2 498.7,437.4 499,437.2 499.3,437.1 499.5,437.7 499.8,437.2 500.1,437.8 500.3,437.9 500.6,438.6 500.9,438.2 501.1,438.1 501.4,437.3 501.7,436.9 501.9,438.0 502.2,437.6 502.4,437.6 502.7,438.2 503,438.7 503.2,438.2 503.5,438.6 503.8,438.0 504,437.9 504.3,437.9 504.6,437.9 504.8,437.5 505.1,438.3 505.4,437.3 505.6,438.7 505.9,437.8 506.1,437.6 506.4,438.2 506.7,438.7 506.9,437.4 507.2,438.2 507.5,437.4 507.7,437.4 508,437.8 508.3,437.8 508.5,437.3 508.8,437.6 509.1,438.3 509.3,437.7 509.6,437.5 509.8,437.7 510.1,437.7 510.4,437.9 510.6,437.9 510.9,438.3 511.2,438.6 511.4,437.2 511.7,438.1 512,437.7 512.2,438.6 512.5,437.7 512.8,438.2 513,436.2 513.3,438.3 513.5,438.3 513.8,437.3 514.1,437.2 514.3,438.9 514.6,437.7 514.9,437.3 515.1,438.4 515.4,437.4 515.7,438.1 515.9,438.3 516.2,438.0 516.5,438.0 516.7,438.5 517,436.6 517.2,438.0 517.5,438.2 517.8,437.3 518,437.8 518.3,437.1 518.6,437.9 518.8,437.6 519.1,437.7 519.4,437.7 519.6,437.9 519.9,437.8 520.2,436.9 520.4,438.2 520.7,438.1 520.9,438.0 521.2,437.5 521.5,437.6 521.7,437.3 522,438.5 522.3,437.7 522.5,437.9 522.8,437.9 523.1,437.7 523.3,438.8 523.6,437.6 523.9,437.7 524.1,438.6 524.4,437.8 524.6,437.0 524.9,438.0 525.2,437.5 525.4,437.9 525.7,438.2 526,438.3 526.2,438.0 526.5,437.1 526.8,437.4 527,438.2 527.3,437.3 527.5,437.9 527.8,438.2 528.1,437.6 528.3,438.3 528.6,438.6 528.9,437.1 529.1,438.8 529.4,437.5 529.7,438.6 529.9,437.8 530.2,437.9 530.5,438.0 530.7,439.0 531,437.8 531.2,437.8 531.5,438.3 531.8,437.8 532,437.3 532.3,438.2 532.6,437.7 532.8,438.4 533.1,437.6 533.4,437.4 533.6,436.5 533.9,437.3 534.2,437.6 534.4,437.0 534.7,438.3 534.9,437.2 535.2,438.1 535.5,438.1 535.7,437.2 536,437.7 536.3,437.1 536.5,438.6 536.8,437.6 537.1,438.1 537.3,437.9 537.6,438.8 537.9,437.3 538.1,437.7 538.4,438.3 538.6,438.5 538.9,438.2 539.2,437.0 539.4,437.8 539.7,438.0 540,437.5 540.2,437.8 540.5,437.7 540.8,437.4 541,437.6 541.3,437.3 541.6,438.4 541.8,437.8 542.1,438.0 542.3,437.7 542.6,437.8 542.9,438.1 543.1,438.0 543.4,437.3 543.7,438.1 543.9,438.4 544.2,437.5 544.5,437.3 544.7,437.9 545,437.7 545.3,438.2 545.5,437.9 545.8,437.2 546,437.4 546.3,437.7 546.6,437.9 546.8,438.6 547.1,437.6 547.4,437.5 547.6,437.2 547.9,436.7 548.2,437.6 548.4,437.3 548.7,438.4 549,437.1 549.2,437.3 549.5,437.1 549.7,437.4 550,437.5 550.3,437.0 550.5,438.1 550.8,437.4 551.1,437.2 551.3,438.2 551.6,438.4 551.9,437.5 552.1,437.7 552.4,437.5 552.7,437.4 552.9,438.2 553.2,437.6 553.4,437.2 553.7,438.0 554,437.9 554.2,438.4 554.5,437.3 554.8,436.7 555,438.5 555.3,437.4 555.6,437.3 555.8,438.1 556.1,438.0 556.4,438.3 556.6,438.2 556.9,437.7 557.1,437.4 557.4,437.7 557.7,437.3 557.9,437.7 558.2,438.4 558.5,437.0 558.7,437.1 559,438.1 559.3,436.8 559.5,437.5 559.8,437.7 560.1,436.8 560.3,439.1 560.6,438.6 560.8,437.4 561.1,437.9 561.4,438.3 561.6,437.0 561.9,437.5 562.2,438.4 562.4,438.1 562.7,437.3 563,436.8 563.2,438.8 563.5,437.6 563.8,438.0 564,438.7 564.3,437.8 564.5,438.6 564.8,438.0 565.1,436.9 565.3,437.5 565.6,437.3 565.9,437.4 566.1,437.6 566.4,437.2 566.7,438.4 566.9,437.9 567.2,437.3 567.4,438.1 567.7,438.0 568,437.1 568.2,436.9 568.5,438.1 568.8,438.2 569,437.4 569.3,437.6 569.6,438.1 569.8,437.4 570.1,437.5 570.4,437.7 570.6,436.2 570.9,437.0 571.1,437.3 571.4,437.2 571.7,436.2 571.9,437.2 572.2,438.1 572.5,437.6 572.7,437.7 573,438.1 573.3,437.6 573.5,437.6 573.8,437.8 574.1,438.0 574.3,437.3 574.6,438.6 574.8,437.3 575.1,437.7" fill="none" stroke="#2e1a17" stroke-width="0.9" stroke-linejoin="round" opacity="1.0"/>
<polyline points="364,436.5 364.3,438.2 364.5,435.6 364.8,437.8 365,437.2 365.3,436.3 365.6,437.1 365.8,436.9 366.1,438.1 366.4,436.9 366.6,436.5 366.9,436.2 367.2,436.8 367.4,436.5 367.7,436.4 368,437.1 368.2,437.1 368.5,435.4 368.7,437.2 369,435.9 369.3,436.6 369.5,435.7 369.8,437.1 370.1,436.3 370.3,436.5 370.6,436.8 370.9,436.5 371.1,437.2 371.4,436.7 371.7,436.9 371.9,436.2 372.2,436.7 372.4,437.5 372.7,436.9 373,436.7 373.2,437.2 373.5,435.8 373.8,436.4 374,436.1 374.3,437.2 374.6,436.9 374.8,436.0 375.1,437.6 375.3,436.4 375.6,436.6 375.9,437.0 376.1,436.6 376.4,437.3 376.7,436.5 376.9,437.4 377.2,437.5 377.5,435.8 377.7,437.1 378,438.0 378.3,436.0 378.5,437.2 378.8,438.9 379,436.7 379.3,436.1 379.6,436.4 379.8,435.6 380.1,436.7 380.4,436.3 380.6,437.3 380.9,436.6 381.2,435.7 381.4,436.3 381.7,436.6 382,437.9 382.2,436.9 382.5,437.5 382.7,436.2 383,437.1 383.3,436.4 383.5,437.3 383.8,435.5 384.1,437.4 384.3,436.6 384.6,435.0 384.9,436.5 385.1,437.2 385.4,436.3 385.7,436.0 385.9,436.1 386.2,437.9 386.4,436.5 386.7,438.0 387,435.5 387.2,436.6 387.5,437.0 387.8,436.2 388,436.4 388.3,437.4 388.6,435.6 388.8,436.8 389.1,437.8 389.4,435.8 389.6,435.7 389.9,435.9 390.1,436.3 390.4,437.2 390.7,436.1 390.9,435.5 391.2,436.1 391.5,435.6 391.7,437.2 392,436.0 392.3,436.1 392.5,437.6 392.8,437.7 393.1,437.1 393.3,436.6 393.6,436.4 393.8,436.8 394.1,436.7 394.4,436.7 394.6,436.6 394.9,436.3 395.2,436.3 395.4,436.7 395.7,436.5 396,436.9 396.2,436.1 396.5,437.0 396.8,435.6 397,436.7 397.3,436.5 397.5,437.1 397.8,436.9 398.1,436.6 398.3,436.6 398.6,437.1 398.9,437.4 399.1,436.6 399.4,436.6 399.7,436.3 399.9,435.9 400.2,436.9 400.5,437.9 400.7,436.8 401,437.8 401.2,437.5 401.5,436.0 401.8,436.3 402,437.1 402.3,437.1 402.6,436.7 402.8,437.8 403.1,436.3 403.4,436.9 403.6,435.5 403.9,437.3 404.2,436.0 404.4,437.1 404.7,436.0 404.9,437.3 405.2,436.2 405.5,436.9 405.7,437.2 406,436.8 406.3,436.4 406.5,436.4 406.8,435.6 407.1,436.1 407.3,438.4 407.6,436.9 407.9,437.9 408.1,436.9 408.4,436.3 408.6,437.5 408.9,437.4 409.2,436.6 409.4,436.8 409.7,435.6 410,436.4 410.2,436.3 410.5,435.5 410.8,437.0 411,436.7 411.3,437.3 411.6,436.5 411.8,436.0 412.1,435.8 412.3,436.7 412.6,437.1 412.9,437.2 413.1,437.6 413.4,436.6 413.7,435.8 413.9,438.2 414.2,438.1 414.5,435.7 414.7,437.7 415,436.4 415.2,437.5 415.5,436.1 415.8,436.1 416,436.5 416.3,436.1 416.6,436.6 416.8,436.3 417.1,435.5 417.4,435.9 417.6,437.1 417.9,437.2 418.2,436.8 418.4,436.8 418.7,436.6 418.9,437.0 419.2,436.2 419.5,436.6 419.7,436.4 420,436.6 420.3,436.3 420.5,437.4 420.8,435.6 421.1,436.4 421.3,436.4 421.6,436.3 421.9,435.9 422.1,436.2 422.4,436.5 422.6,436.8 422.9,437.7 423.2,436.5 423.4,436.8 423.7,436.9 424,435.1 424.2,437.9 424.5,436.6 424.8,435.9 425,436.0 425.3,435.8 425.6,437.5 425.8,437.3 426.1,436.2 426.3,436.8 426.6,435.5 426.9,436.5 427.1,436.5 427.4,436.4 427.7,436.8 427.9,436.6 428.2,437.1 428.5,436.7 428.7,437.0 429,436.5 429.3,437.6 429.5,437.6 429.8,436.3 430,436.5 430.3,437.3 430.6,436.8 430.8,437.3 431.1,435.3 431.4,437.7 431.6,435.5 431.9,437.2 432.2,436.4 432.4,436.8 432.7,436.9 433,436.0 433.2,436.1 433.5,436.8 433.7,437.2 434,435.3 434.3,435.7 434.5,436.5 434.8,436.8 435.1,436.4 435.3,436.6 435.6,435.9 435.9,437.3 436.1,436.6 436.4,437.1 436.7,435.8 436.9,435.5 437.2,436.7 437.4,436.3 437.7,435.7 438,436.8 438.2,437.2 438.5,436.0 438.8,436.3 439,436.8 439.3,435.7 439.6,436.5 439.8,437.8 440.1,436.4 440.4,436.7 440.6,435.4 440.9,436.6 441.1,436.8 441.4,436.4 441.7,436.5 441.9,437.5 442.2,436.6 442.5,436.8 442.7,435.7 443,435.1 443.3,437.4 443.5,437.3 443.8,437.2 444.1,437.1 444.3,437.1 444.6,436.6 444.8,435.9 445.1,437.5 445.4,437.6 445.6,437.8 445.9,435.9 446.2,435.8 446.4,437.6 446.7,437.7 447,436.5 447.2,435.9 447.5,436.0 447.8,436.5 448,436.2 448.3,436.4 448.5,437.0 448.8,435.4 449.1,436.6 449.3,437.4 449.6,436.9 449.9,437.6 450.1,436.6 450.4,435.9 450.7,437.5 450.9,435.9 451.2,435.3 451.4,436.4 451.7,437.4 452,437.2 452.2,436.8 452.5,437.5 452.8,437.4 453,436.8 453.3,436.7 453.6,436.2 453.8,437.4 454.1,435.4 454.4,435.9 454.6,436.1 454.9,437.1 455.1,435.5 455.4,436.9 455.7,435.5 455.9,435.9 456.2,437.2 456.5,436.9 456.7,435.4 457,436.0 457.3,436.7 457.5,436.5 457.8,436.5 458.1,437.1 458.3,436.8 458.6,437.1 458.8,436.9 459.1,436.3 459.4,437.3 459.6,436.2 459.9,436.6 460.2,436.1 460.4,436.1 460.7,435.8 461,436.2 461.2,436.2 461.5,436.7 461.8,436.3 462,437.2 462.3,436.8 462.5,436.1 462.8,436.7 463.1,436.3 463.3,437.3 463.6,435.7 463.9,437.0 464.1,436.4 464.4,436.6 464.7,436.0 464.9,436.9 465.2,437.3 465.5,437.9 465.7,436.8 466,437.4 466.2,436.3 466.5,435.7 466.8,438.1 467,437.5 467.3,436.4 467.6,435.8 467.8,436.4 468.1,436.4 468.4,436.3 468.6,436.3 468.9,435.6 469.2,436.2 469.4,437.4 469.7,436.9 469.9,436.5 470.2,437.2 470.5,436.8 470.7,437.0 471,437.1 471.3,436.2 471.5,436.9 471.8,437.3 472.1,437.1 472.3,436.6 472.6,435.3 472.9,436.5 473.1,435.7 473.4,436.3 473.6,438.0 473.9,436.4 474.2,437.2 474.4,437.5 474.7,437.3 475,435.5 475.2,437.7 475.5,437.0 475.8,435.9 476,436.2 476.3,437.7 476.6,436.7 476.8,437.0 477.1,436.8 477.3,436.1 477.6,437.0 477.9,436.8 478.1,435.7 478.4,437.8 478.7,436.9 478.9,436.3 479.2,437.4 479.5,437.0 479.7,437.5 480,436.5 480.3,437.0 480.5,436.1 480.8,436.0 481,436.6 481.3,436.9 481.6,436.5 481.8,436.6 482.1,437.4 482.4,435.9 482.6,436.5 482.9,436.1 483.2,437.5 483.4,436.1 483.7,435.3 484,436.2 484.2,437.6 484.5,436.6 484.7,436.7 485,436.5 485.3,436.8 485.5,436.3 485.8,436.9 486.1,436.5 486.3,437.1 486.6,436.6 486.9,436.0 487.1,437.0 487.4,436.2 487.7,437.2 487.9,436.9 488.2,436.8 488.4,435.8 488.7,437.1 489,435.8 489.2,437.6 489.5,436.7 489.8,436.0 490,436.2 490.3,437.3 490.6,437.4 490.8,436.1 491.1,437.5 491.3,436.3 491.6,437.0 491.9,436.6 492.1,435.1 492.4,435.6 492.7,436.1 492.9,437.5 493.2,436.4 493.5,436.6 493.7,436.7 494,435.8 494.3,437.8 494.5,436.4 494.8,436.6 495,437.1 495.3,435.5 495.6,437.5 495.8,436.6 496.1,436.6 496.4,438.1 496.6,437.6 496.9,437.3 497.2,436.1 497.4,436.0 497.7,436.3 498,436.5 498.2,438.1 498.5,436.5 498.7,437.0 499,435.9 499.3,435.8 499.5,435.2 499.8,436.2 500.1,436.1 500.3,437.3 500.6,436.6 500.9,437.5 501.1,436.1 501.4,437.4 501.7,436.8 501.9,437.2 502.2,437.0 502.4,436.3 502.7,437.0 503,436.5 503.2,437.3 503.5,435.7 503.8,437.1 504,436.0 504.3,435.2 504.6,438.2 504.8,437.3 505.1,436.8 505.4,435.9 505.6,437.0 505.9,436.4 506.1,437.1 506.4,436.3 506.7,437.4 506.9,436.1 507.2,438.6 507.5,437.9 507.7,435.4 508,436.5 508.3,437.2 508.5,435.2 508.8,436.0 509.1,435.9 509.3,436.9 509.6,436.2 509.8,436.3 510.1,437.7 510.4,436.3 510.6,436.8 510.9,435.8 511.2,435.8 511.4,437.1 511.7,437.0 512,436.5 512.2,436.2 512.5,436.9 512.8,436.7 513,436.2 513.3,436.4 513.5,435.9 513.8,436.5 514.1,437.2 514.3,437.8 514.6,436.1 514.9,436.9 515.1,436.9 515.4,436.8 515.7,437.7 515.9,436.9 516.2,438.4 516.5,436.9 516.7,437.2 517,435.4 517.2,436.4 517.5,436.8 517.8,436.5 518,436.2 518.3,437.2 518.6,436.8 518.8,436.9 519.1,435.0 519.4,436.6 519.6,438.0 519.9,436.1 520.2,434.9 520.4,437.3 520.7,434.3 520.9,436.7 521.2,436.0 521.5,437.0 521.7,436.8 522,437.5 522.3,437.4 522.5,438.1 522.8,435.9 523.1,437.4 523.3,436.4 523.6,436.4 523.9,437.1 524.1,436.6 524.4,436.7 524.6,437.0 524.9,436.6 525.2,436.6 525.4,437.3 525.7,437.5 526,437.2 526.2,436.6 526.5,435.7 526.8,435.7 527,436.4 527.3,436.0 527.5,436.6 527.8,435.9 528.1,436.6 528.3,436.4 528.6,436.8 528.9,436.7 529.1,435.4 529.4,437.5 529.7,436.7 529.9,437.1 530.2,436.0 530.5,435.4 530.7,436.9 531,438.5 531.2,436.2 531.5,436.2 531.8,437.8 532,436.8 532.3,436.7 532.6,438.2 532.8,436.2 533.1,436.4 533.4,436.5 533.6,437.4 533.9,437.1 534.2,437.1 534.4,436.3 534.7,437.3 534.9,435.7 535.2,436.4 535.5,438.1 535.7,435.5 536,436.6 536.3,437.0 536.5,436.6 536.8,437.9 537.1,436.5 537.3,438.3 537.6,437.3 537.9,435.7 538.1,435.8 538.4,436.9 538.6,437.3 538.9,436.0 539.2,436.7 539.4,436.5 539.7,436.2 540,437.4 540.2,436.1 540.5,438.1 540.8,435.7 541,437.7 541.3,437.1 541.6,437.1 541.8,436.2 542.1,436.2 542.3,436.4 542.6,436.3 542.9,436.3 543.1,436.7 543.4,438.0 543.7,438.2 543.9,438.2 544.2,436.7 544.5,436.8 544.7,436.8 545,436.5 545.3,436.8 545.5,437.3 545.8,437.7 546,438.0 546.3,435.8 546.6,436.1 546.8,437.6 547.1,436.9 547.4,436.4 547.6,435.6 547.9,437.1 548.2,436.6 548.4,435.9 548.7,437.8 549,437.2 549.2,436.7 549.5,437.2 549.7,435.2 550,436.1 550.3,436.5 550.5,437.3 550.8,436.1 551.1,436.2 551.3,437.0 551.6,437.0 551.9,437.7 552.1,436.7 552.4,436.1 552.7,436.0 552.9,436.3 553.2,436.1 553.4,437.1 553.7,437.0 554,435.9 554.2,436.4 554.5,437.2 554.8,436.3 555,436.1 555.3,436.2 555.6,436.6 555.8,437.0 556.1,436.4 556.4,435.5 556.6,436.6 556.9,437.1 557.1,436.4 557.4,437.5 557.7,436.5 557.9,436.9 558.2,436.0 558.5,436.6 558.7,436.0 559,435.1 559.3,436.8 559.5,437.2 559.8,436.4 560.1,436.7 560.3,436.6 560.6,437.1 560.8,436.3 561.1,436.6 561.4,438.1 561.6,436.8 561.9,436.5 562.2,435.9 562.4,437.1 562.7,437.2 563,435.9 563.2,437.1 563.5,436.6 563.8,436.4 564,436.2 564.3,436.7 564.5,437.4 564.8,436.0 565.1,437.0 565.3,437.0 565.6,435.3 565.9,436.1 566.1,437.4 566.4,437.0 566.7,436.8 566.9,437.2 567.2,438.0 567.4,436.1 567.7,436.2 568,436.5 568.2,437.0 568.5,436.5 568.8,436.3 569,437.4 569.3,436.9 569.6,437.1 569.8,436.2 570.1,436.5 570.4,437.6 570.6,437.1 570.9,435.5 571.1,437.3 571.4,436.6 571.7,437.1 571.9,435.8 572.2,436.7 572.5,437.0 572.7,437.5 573,436.8 573.3,436.1 573.5,436.2 573.8,437.6 574.1,435.6 574.3,436.8 574.6,437.4 574.8,436.6 575.1,437.1" fill="none" stroke="#ee8a2e" stroke-width="0.9" stroke-linejoin="round" opacity="1.0"/>
<polyline points="364,436.1 364.3,436.1 364.6,436.1 364.9,436.1 365.2,436.1 365.5,436.1 365.8,436.1 366.1,436.1 366.4,436.1 366.7,436.1 367,436.1 367.3,436.1 367.6,436.1 367.9,436.1 368.2,436.1 368.5,436.1 368.8,436.1 369.1,436.1 369.4,436.1 369.7,436.0 370,436.0 370.3,436.1 370.6,436.1 370.9,436.0 371.2,436.1 371.5,436.0 371.8,436.0 372.1,436.0 372.4,436.0 372.7,436.0 373,436.1 373.4,436.0 373.7,436.0 374,436.0 374.3,435.9 374.6,435.9 374.9,436.0 375.2,436.0 375.5,436.0 375.8,435.9 376.1,435.9 376.4,435.9 376.7,436.0 377,435.9 377.3,436.0 377.6,436.0 377.9,435.9 378.2,435.9 378.5,435.8 378.8,435.8 379.1,435.8 379.4,435.8 379.7,435.8 380,435.8 380.3,435.7 380.6,435.7 380.9,435.7 381.2,435.7 381.5,435.7 381.8,435.7 382.1,435.7 382.4,435.6 382.7,435.7 383,435.5 383.3,435.6 383.6,435.4 383.9,435.4 384.2,435.5 384.5,435.5 384.8,435.5 385.1,435.4 385.4,435.3 385.7,435.2 386,435.4 386.3,435.2 386.6,435.3 386.9,435.2 387.2,435.1 387.5,435.1 387.8,435.0 388.2,435.1 388.5,435.0 388.8,434.9 389.1,434.8 389.4,435.0 389.7,434.9 390,434.9 390.3,434.8 390.6,434.8 390.9,434.5 391.2,434.4 391.5,434.4 391.8,434.6 392.1,434.4 392.4,434.5 392.7,434.2 393,434.1 393.3,434.1 393.6,434.0 393.9,434.0 394.2,434.2 394.5,434.1 394.8,433.8 395.1,433.6 395.4,433.4 395.7,433.6 396,433.4 396.3,433.3 396.6,433.1 396.9,433.2 397.2,433.2 397.5,432.8 397.8,432.8 398.1,432.7 398.4,432.9 398.7,432.5 399,432.7 399.3,432.7 399.6,432.2 399.9,432.1 400.2,431.8 400.5,431.6 400.8,431.7 401.1,431.2 401.4,431.5 401.7,431.1 402,431.4 402.3,430.9 402.6,430.9 403,430.7 403.3,430.4 403.6,430.8 403.9,430.2 404.2,430.2 404.5,429.8 404.8,429.6 405.1,429.6 405.4,429.4 405.7,429.4 406,428.8 406.3,428.9 406.6,428.4 406.9,428.8 407.2,427.8 407.5,428.2 407.8,427.4 408.1,427.6 408.4,427.2 408.7,427.1 409,426.7 409.3,426.6 409.6,426.0 409.9,426.0 410.2,425.7 410.5,425.2 410.8,425.6 411.1,424.8 411.4,424.9 411.7,425.2 412,424.2 412.3,424.1 412.6,423.3 412.9,423.7 413.2,423.2 413.5,422.9 413.8,423.4 414.1,422.2 414.4,422.5 414.7,421.3 415,420.9 415.3,421.2 415.6,421.5 415.9,420.5 416.2,420.1 416.5,419.6 416.8,419.7 417.1,419.8 417.4,419.0 417.8,419.0 418.1,417.6 418.4,418.2 418.7,417.8 419,417.2 419.3,417.4 419.6,416.7 419.9,416.2 420.2,416.0 420.5,415.5 420.8,414.6 421.1,414.5 421.4,414.9 421.7,414.1 422,413.2 422.3,413.4 422.6,412.7 422.9,412.4 423.2,411.8 423.5,411.7 423.8,411.3 424.1,411.2 424.4,410.3 424.7,410.5 425,408.9 425.3,409.2 425.6,408.9 425.9,408.1 426.2,408.0 426.5,407.5 426.8,407.2 427.1,407.1 427.4,406.8 427.7,406.3 428,405.0 428.3,405.4 428.6,404.9 428.9,404.5 429.2,403.5 429.5,402.6 429.8,403.5 430.1,402.3 430.4,402.1 430.7,401.9 431,401.1 431.3,401.6 431.6,400.1 431.9,400.0 432.2,400.2 432.6,398.5 432.9,398.4 433.2,397.9 433.5,398.8 433.8,397.7 434.1,397.4 434.4,396.4 434.7,395.7 435,397.0 435.3,395.4 435.6,395.1 435.9,394.1 436.2,394.2 436.5,394.5 436.8,393.5 437.1,393.6 437.4,393.0 437.7,392.1 438,392.0 438.3,391.2 438.6,391.8 438.9,389.4 439.2,389.5 439.5,389.4 439.8,390.1 440.1,390.3 440.4,389.1 440.7,388.3 441,386.7 441.3,386.8 441.6,387.3 441.9,386.0 442.2,385.7 442.5,385.9 442.8,384.9 443.1,385.0 443.4,385.2 443.7,385.2 444,384.1 444.3,383.2 444.6,384.2 444.9,384.0 445.2,382.4 445.5,384.0 445.8,381.0 446.1,381.9 446.4,380.9 446.7,380.0 447,381.5 447.4,381.0 447.7,378.8 448,379.8 448.3,379.4 448.6,378.9 448.9,378.1 449.2,377.7 449.5,378.0 449.8,378.0 450.1,377.5 450.4,377.0 450.7,376.2 451,376.5 451.3,375.4 451.6,376.6 451.9,375.5 452.2,374.6 452.5,374.6 452.8,374.8 453.1,375.3 453.4,375.0 453.7,374.3 454,373.8 454.3,373.9 454.6,374.5 454.9,373.8 455.2,372.8 455.5,372.4 455.8,373.6 456.1,372.6 456.4,373.4 456.7,372.4 457,369.8 457.3,371.5 457.6,371.6 457.9,371.6 458.2,371.9 458.5,372.2 458.8,370.7 459.1,370.7 459.4,369.5 459.7,371.3 460,369.8 460.3,369.1 460.6,371.1 460.9,369.2 461.2,370.6 461.5,369.0 461.8,368.4 462.2,369.1 462.5,368.8 462.8,369.3 463.1,368.6 463.4,368.0 463.7,368.7 464,368.5 464.3,368.1 464.6,367.8 464.9,369.4 465.2,368.1 465.5,368.5 465.8,367.7 466.1,367.3 466.4,367.7 466.7,367.1 467,368.5 467.3,368.0 467.6,368.4 467.9,367.6 468.2,367.6 468.5,367.8 468.8,368.5 469.1,367.7 469.4,367.9 469.7,367.3 470,367.8 470.3,367.0 470.6,367.5 470.9,369.0 471.2,367.8 471.5,368.7 471.8,367.2 472.1,367.0 472.4,367.8 472.7,367.6 473,369.0 473.3,369.6 473.6,368.4 473.9,368.3 474.2,369.3 474.5,368.2 474.8,368.2 475.1,368.1 475.4,367.7 475.7,368.2 476,369.0 476.3,368.8 476.6,368.6 476.9,369.8 477.3,368.4 477.6,368.8 477.9,369.6 478.2,370.0 478.5,367.6 478.8,369.4 479.1,369.5 479.4,369.2 479.7,369.8 480,370.4 480.3,370.3 480.6,371.5 480.9,370.6 481.2,372.3 481.5,371.2 481.8,371.3 482.1,372.9 482.4,370.9 482.7,373.0 483,371.8 483.3,373.0 483.6,372.7 483.9,373.5 484.2,371.9 484.5,372.9 484.8,372.8 485.1,373.6 485.4,373.8 485.7,374.4 486,374.9 486.3,374.7 486.6,375.2 486.9,375.6 487.2,376.7 487.5,376.2 487.8,376.0 488.1,376.9 488.4,376.7 488.7,377.3 489,378.2 489.3,378.4 489.6,378.6 489.9,378.6 490.2,378.8 490.5,378.4 490.8,380.0 491.1,381.0 491.4,379.6 491.7,380.6 492.1,380.7 492.4,379.6 492.7,380.5 493,381.3 493.3,381.4 493.6,382.2 493.9,382.1 494.2,383.4 494.5,383.8 494.8,384.0 495.1,383.2 495.4,383.6 495.7,385.1 496,384.6 496.3,385.6 496.6,385.3 496.9,386.4 497.2,386.2 497.5,387.1 497.8,387.6 498.1,387.8 498.4,388.1 498.7,388.9 499,389.8 499.3,388.5 499.6,390.0 499.9,391.2 500.2,391.9 500.5,392.6 500.8,391.7 501.1,391.1 501.4,393.1 501.7,392.7 502,394.0 502.3,392.9 502.6,393.6 502.9,394.0 503.2,394.0 503.5,394.3 503.8,395.0 504.1,396.2 504.4,397.0 504.7,397.3 505,398.1 505.3,396.7 505.6,398.1 505.9,398.3 506.2,398.7 506.5,398.3 506.9,400.0 507.2,399.5 507.5,400.4 507.8,401.0 508.1,402.4 508.4,401.4 508.7,402.6 509,402.8 509.3,402.9 509.6,403.4 509.9,403.4 510.2,404.6 510.5,404.6 510.8,405.0 511.1,405.5 511.4,405.7 511.7,406.5 512,406.3 512.3,407.6 512.6,408.3 512.9,408.0 513.2,408.0 513.5,409.1 513.8,409.6 514.1,409.8 514.4,410.0 514.7,410.5 515,410.7 515.3,412.1 515.6,411.1 515.9,411.8 516.2,412.8 516.5,412.3 516.8,413.0 517.1,413.0 517.4,414.5 517.7,413.7 518,414.7 518.3,416.1 518.6,415.2 518.9,416.0 519.2,416.7 519.5,416.6 519.8,417.8 520.1,417.0 520.4,417.7 520.7,418.1 521,417.8 521.3,418.6 521.7,419.3 522,419.7 522.3,419.7 522.6,419.6 522.9,420.6 523.2,421.1 523.5,420.6 523.8,421.2 524.1,421.6 524.4,421.2 524.7,422.7 525,422.4 525.3,423.5 525.6,423.2 525.9,423.2 526.2,423.3 526.5,424.4 526.8,423.9 527.1,424.2 527.4,424.8 527.7,424.3 528,425.3 528.3,425.8 528.6,425.7 528.9,426.6 529.2,425.9 529.5,426.2 529.8,426.9 530.1,426.8 530.4,427.1 530.7,427.0 531,427.8 531.3,428.3 531.6,428.7 531.9,428.4 532.2,428.9 532.5,428.7 532.8,428.8 533.1,429.2 533.4,429.5 533.7,429.2 534,429.7 534.3,429.8 534.6,429.8 534.9,430.5 535.2,430.6 535.5,430.0 535.8,430.7 536.1,431.1 536.5,431.0 536.8,431.3 537.1,431.6 537.4,431.5 537.7,431.6 538,431.7 538.3,431.8 538.6,432.3 538.9,432.4 539.2,432.1 539.5,432.4 539.8,432.3 540.1,432.6 540.4,433.0 540.7,432.7 541,433.1 541.3,433.0 541.6,433.0 541.9,433.0 542.2,433.4 542.5,433.3 542.8,433.5 543.1,433.5 543.4,434.1 543.7,433.9 544,433.8 544.3,433.9 544.6,434.2 544.9,434.0 545.2,434.1 545.5,434.3 545.8,434.4 546.1,434.5 546.4,434.5 546.7,434.4 547,434.5 547.3,434.7 547.6,434.8 547.9,434.9 548.2,434.8 548.5,434.9 548.8,434.9 549.1,435.0 549.4,435.0 549.7,435.1 550,435.3 550.3,435.3 550.6,435.2 550.9,435.2 551.3,435.4 551.6,435.4 551.9,435.3 552.2,435.5 552.5,435.5 552.8,435.5 553.1,435.6 553.4,435.7 553.7,435.7 554,435.7 554.3,435.6 554.6,435.8 554.9,435.8 555.2,435.7 555.5,435.8 555.8,435.8 556.1,435.8 556.4,436.0 556.7,435.9 557,436.0 557.3,435.9 557.6,435.9 557.9,435.9 558.2,435.9 558.5,436.0 558.8,436.0 559.1,436.0 559.4,436.1 559.7,436.0 560,436.0 560.3,436.1 560.6,436.1 560.9,436.1 561.2,436.2 561.5,436.2 561.8,436.2 562.1,436.2 562.4,436.2 562.7,436.2 563,436.2 563.3,436.2 563.6,436.2 563.9,436.2 564.2,436.2 564.5,436.3 564.8,436.3 565.1,436.3 565.4,436.3 565.7,436.3 566.1,436.3 566.4,436.3 566.7,436.3 567,436.3 567.3,436.4 567.6,436.3 567.9,436.3 568.2,436.3 568.5,436.3 568.8,436.3 569.1,436.3 569.4,436.4 569.7,436.4 570,436.4 570.3,436.4 570.6,436.4 570.9,436.4 571.2,436.4 571.5,436.4 571.8,436.4 572.1,436.4 572.4,436.4 572.7,436.4 573,436.4 573.3,436.4 573.6,436.4 573.9,436.4 574.2,436.4 574.5,436.4 574.8,436.4 575.1,436.4" fill="none" stroke="#263f70" stroke-width="0.7" stroke-linejoin="round" opacity="1.0"/>
<polyline points="364,437.7 364.3,437.7 364.5,437.7 364.8,437.7 365,437.7 365.3,437.7 365.6,437.7 365.8,437.7 366.1,437.7 366.4,437.7 366.6,437.7 366.9,437.7 367.2,437.7 367.4,437.7 367.7,437.6 368,437.6 368.2,437.6 368.5,437.6 368.7,437.6 369,437.6 369.3,437.6 369.5,437.6 369.8,437.6 370.1,437.6 370.3,437.6 370.6,437.6 370.9,437.6 371.1,437.5 371.4,437.5 371.7,437.5 371.9,437.5 372.2,437.5 372.4,437.5 372.7,437.5 373,437.5 373.2,437.5 373.5,437.5 373.8,437.4 374,437.4 374.3,437.4 374.6,437.4 374.8,437.4 375.1,437.4 375.3,437.4 375.6,437.4 375.9,437.4 376.1,437.3 376.4,437.3 376.7,437.3 376.9,437.3 377.2,437.3 377.5,437.3 377.7,437.3 378,437.2 378.3,437.2 378.5,437.2 378.8,437.2 379,437.2 379.3,437.2 379.6,437.1 379.8,437.1 380.1,437.1 380.4,437.1 380.6,437.1 380.9,437.0 381.2,437.0 381.4,437.0 381.7,437.0 382,437.0 382.2,436.9 382.5,436.9 382.7,436.9 383,436.9 383.3,436.8 383.5,436.8 383.8,436.8 384.1,436.8 384.3,436.7 384.6,436.7 384.9,436.7 385.1,436.6 385.4,436.6 385.7,436.6 385.9,436.6 386.2,436.5 386.4,436.5 386.7,436.5 387,436.4 387.2,436.4 387.5,436.3 387.8,436.3 388,436.3 388.3,436.2 388.6,436.2 388.8,436.1 389.1,436.1 389.4,436.1 389.6,436.0 389.9,436.0 390.1,435.9 390.4,435.9 390.7,435.8 390.9,435.8 391.2,435.7 391.5,435.7 391.7,435.6 392,435.5 392.3,435.5 392.5,435.4 392.8,435.4 393.1,435.3 393.3,435.2 393.6,435.2 393.8,435.1 394.1,435.0 394.4,435.0 394.6,434.9 394.9,434.8 395.2,434.8 395.4,434.7 395.7,434.6 396,434.5 396.2,434.4 396.5,434.4 396.8,434.3 397,434.2 397.3,434.1 397.5,434.0 397.8,433.9 398.1,433.8 398.3,433.7 398.6,433.6 398.9,433.5 399.1,433.4 399.4,433.3 399.7,433.2 399.9,433.1 400.2,433.0 400.5,432.9 400.7,432.8 401,432.6 401.2,432.5 401.5,432.4 401.8,432.3 402,432.1 402.3,432.0 402.6,431.9 402.8,431.7 403.1,431.6 403.4,431.5 403.6,431.3 403.9,431.2 404.2,431.0 404.4,430.9 404.7,430.7 404.9,430.6 405.2,430.4 405.5,430.2 405.7,430.1 406,429.9 406.3,429.7 406.5,429.6 406.8,429.4 407.1,429.2 407.3,429.0 407.6,428.8 407.9,428.6 408.1,428.4 408.4,428.3 408.6,428.1 408.9,427.9 409.2,427.7 409.4,427.4 409.7,427.2 410,427.0 410.2,426.8 410.5,426.6 410.8,426.4 411,426.1 411.3,425.9 411.6,425.7 411.8,425.5 412.1,425.2 412.3,425.0 412.6,424.7 412.9,424.5 413.1,424.2 413.4,424.0 413.7,423.7 413.9,423.5 414.2,423.2 414.5,422.9 414.7,422.7 415,422.4 415.2,422.1 415.5,421.9 415.8,421.6 416,421.3 416.3,421.0 416.6,420.7 416.8,420.4 417.1,420.1 417.4,419.8 417.6,419.5 417.9,419.2 418.2,418.9 418.4,418.6 418.7,418.3 418.9,418.0 419.2,417.7 419.5,417.4 419.7,417.1 420,416.7 420.3,416.4 420.5,416.1 420.8,415.8 421.1,415.4 421.3,415.1 421.6,414.8 421.9,414.4 422.1,414.1 422.4,413.7 422.6,413.4 422.9,413.0 423.2,412.7 423.4,412.4 423.7,412.0 424,411.6 424.2,411.3 424.5,410.9 424.8,410.6 425,410.2 425.3,409.9 425.6,409.5 425.8,409.1 426.1,408.8 426.3,408.4 426.6,408.0 426.9,407.7 427.1,407.3 427.4,406.9 427.7,406.6 427.9,406.2 428.2,405.8 428.5,405.4 428.7,405.1 429,404.7 429.3,404.3 429.5,403.9 429.8,403.6 430,403.2 430.3,402.8 430.6,402.4 430.8,402.0 431.1,401.7 431.4,401.3 431.6,400.9 431.9,400.5 432.2,400.2 432.4,399.8 432.7,399.4 433,399.0 433.2,398.6 433.5,398.3 433.7,397.9 434,397.5 434.3,397.1 434.5,396.8 434.8,396.4 435.1,396.0 435.3,395.6 435.6,395.3 435.9,394.9 436.1,394.5 436.4,394.2 436.7,393.8 436.9,393.4 437.2,393.1 437.4,392.7 437.7,392.3 438,392.0 438.2,391.6 438.5,391.2 438.8,390.9 439,390.5 439.3,390.2 439.6,389.8 439.8,389.5 440.1,389.1 440.4,388.8 440.6,388.4 440.9,388.1 441.1,387.7 441.4,387.4 441.7,387.1 441.9,386.7 442.2,386.4 442.5,386.1 442.7,385.7 443,385.4 443.3,385.1 443.5,384.7 443.8,384.4 444.1,384.1 444.3,383.8 444.6,383.5 444.8,383.2 445.1,382.8 445.4,382.5 445.6,382.2 445.9,381.9 446.2,381.6 446.4,381.3 446.7,381.0 447,380.7 447.2,380.4 447.5,380.2 447.8,379.9 448,379.6 448.3,379.3 448.5,379.0 448.8,378.8 449.1,378.5 449.3,378.2 449.6,378.0 449.9,377.7 450.1,377.4 450.4,377.2 450.7,376.9 450.9,376.7 451.2,376.4 451.4,376.2 451.7,375.9 452,375.7 452.2,375.5 452.5,375.2 452.8,375.0 453,374.8 453.3,374.6 453.6,374.3 453.8,374.1 454.1,373.9 454.4,373.7 454.6,373.5 454.9,373.3 455.1,373.1 455.4,372.9 455.7,372.7 455.9,372.5 456.2,372.3 456.5,372.1 456.7,372.0 457,371.8 457.3,371.6 457.5,371.5 457.8,371.3 458.1,371.1 458.3,371.0 458.6,370.8 458.8,370.7 459.1,370.5 459.4,370.4 459.6,370.2 459.9,370.1 460.2,370.0 460.4,369.8 460.7,369.7 461,369.6 461.2,369.5 461.5,369.3 461.8,369.2 462,369.1 462.3,369.0 462.5,368.9 462.8,368.8 463.1,368.7 463.3,368.6 463.6,368.6 463.9,368.5 464.1,368.4 464.4,368.3 464.7,368.2 464.9,368.2 465.2,368.1 465.5,368.1 465.7,368.0 466,367.9 466.2,367.9 466.5,367.9 466.8,367.8 467,367.8 467.3,367.7 467.6,367.7 467.8,367.7 468.1,367.7 468.4,367.6 468.6,367.6 468.9,367.6 469.2,367.6 469.4,367.6 469.7,367.6 469.9,367.6 470.2,367.6 470.5,367.6 470.7,367.6 471,367.7 471.3,367.7 471.5,367.7 471.8,367.7 472.1,367.8 472.3,367.8 472.6,367.9 472.9,367.9 473.1,367.9 473.4,368.0 473.6,368.1 473.9,368.1 474.2,368.2 474.4,368.2 474.7,368.3 475,368.4 475.2,368.5 475.5,368.6 475.8,368.6 476,368.7 476.3,368.8 476.6,368.9 476.8,369.0 477.1,369.1 477.3,369.2 477.6,369.3 477.9,369.5 478.1,369.6 478.4,369.7 478.7,369.8 478.9,370.0 479.2,370.1 479.5,370.2 479.7,370.4 480,370.5 480.3,370.7 480.5,370.8 480.8,371.0 481,371.1 481.3,371.3 481.6,371.5 481.8,371.6 482.1,371.8 482.4,372.0 482.6,372.1 482.9,372.3 483.2,372.5 483.4,372.7 483.7,372.9 484,373.1 484.2,373.3 484.5,373.5 484.7,373.7 485,373.9 485.3,374.1 485.5,374.3 485.8,374.6 486.1,374.8 486.3,375.0 486.6,375.2 486.9,375.5 487.1,375.7 487.4,375.9 487.7,376.2 487.9,376.4 488.2,376.7 488.4,376.9 488.7,377.2 489,377.4 489.2,377.7 489.5,378.0 489.8,378.2 490,378.5 490.3,378.8 490.6,379.0 490.8,379.3 491.1,379.6 491.3,379.9 491.6,380.2 491.9,380.4 492.1,380.7 492.4,381.0 492.7,381.3 492.9,381.6 493.2,381.9 493.5,382.2 493.7,382.5 494,382.8 494.3,383.2 494.5,383.5 494.8,383.8 495,384.1 495.3,384.4 495.6,384.7 495.8,385.1 496.1,385.4 496.4,385.7 496.6,386.1 496.9,386.4 497.2,386.7 497.4,387.1 497.7,387.4 498,387.7 498.2,388.1 498.5,388.4 498.7,388.8 499,389.1 499.3,389.5 499.5,389.8 499.8,390.2 500.1,390.5 500.3,390.9 500.6,391.2 500.9,391.6 501.1,392.0 501.4,392.3 501.7,392.7 501.9,393.1 502.2,393.4 502.4,393.8 502.7,394.2 503,394.5 503.2,394.9 503.5,395.3 503.8,395.6 504,396.0 504.3,396.4 504.6,396.8 504.8,397.1 505.1,397.5 505.4,397.9 505.6,398.3 505.9,398.6 506.1,399.0 506.4,399.4 506.7,399.8 506.9,400.1 507.2,400.5 507.5,400.9 507.7,401.3 508,401.7 508.3,402.0 508.5,402.4 508.8,402.8 509.1,403.2 509.3,403.5 509.6,403.9 509.8,404.3 510.1,404.7 510.4,405.0 510.6,405.4 510.9,405.8 511.2,406.2 511.4,406.5 511.7,406.9 512,407.3 512.2,407.6 512.5,408.0 512.8,408.4 513,408.7 513.3,409.1 513.5,409.4 513.8,409.8 514.1,410.2 514.3,410.5 514.6,410.9 514.9,411.2 515.1,411.6 515.4,411.9 515.7,412.3 515.9,412.6 516.2,412.9 516.5,413.3 516.7,413.6 517,414.0 517.2,414.3 517.5,414.6 517.8,415.0 518,415.3 518.3,415.6 518.6,415.9 518.8,416.2 519.1,416.6 519.4,416.9 519.6,417.2 519.9,417.5 520.2,417.8 520.4,418.1 520.7,418.4 520.9,418.7 521.2,419.0 521.5,419.3 521.7,419.6 522,419.8 522.3,420.1 522.5,420.4 522.8,420.7 523.1,420.9 523.3,421.2 523.6,421.5 523.9,421.7 524.1,422.0 524.4,422.3 524.6,422.5 524.9,422.8 525.2,423.0 525.4,423.2 525.7,423.5 526,423.7 526.2,423.9 526.5,424.2 526.8,424.4 527,424.6 527.3,424.8 527.5,425.1 527.8,425.3 528.1,425.5 528.3,425.7 528.6,425.9 528.9,426.1 529.1,426.3 529.4,426.5 529.7,426.7 529.9,426.8 530.2,427.0 530.5,427.2 530.7,427.4 531,427.6 531.2,427.7 531.5,427.9 531.8,428.1 532,428.2 532.3,428.4 532.6,428.5 532.8,428.7 533.1,428.8 533.4,429.0 533.6,429.1 533.9,429.3 534.2,429.4 534.4,429.6 534.7,429.7 534.9,429.8 535.2,429.9 535.5,430.1 535.7,430.2 536,430.3 536.3,430.4 536.5,430.5 536.8,430.7 537.1,430.8 537.3,430.9 537.6,431.0 537.9,431.1 538.1,431.2 538.4,431.3 538.6,431.4 538.9,431.5 539.2,431.6 539.4,431.7 539.7,431.7 540,431.8 540.2,431.9 540.5,432.0 540.8,432.1 541,432.2 541.3,432.2 541.6,432.3 541.8,432.4 542.1,432.4 542.3,432.5 542.6,432.6 542.9,432.6 543.1,432.7 543.4,432.8 543.7,432.8 543.9,432.9 544.2,432.9 544.5,433.0 544.7,433.1 545,433.1 545.3,433.2 545.5,433.2 545.8,433.3 546,433.3 546.3,433.3 546.6,433.4 546.8,433.4 547.1,433.5 547.4,433.5 547.6,433.6 547.9,433.6 548.2,433.6 548.4,433.7 548.7,433.7 549,433.7 549.2,433.8 549.5,433.8 549.7,433.8 550,433.9 550.3,433.9 550.5,433.9 550.8,433.9 551.1,434.0 551.3,434.0 551.6,434.0 551.9,434.0 552.1,434.1 552.4,434.1 552.7,434.1 552.9,434.1 553.2,434.2 553.4,434.2 553.7,434.2 554,434.2 554.2,434.2 554.5,434.2 554.8,434.3 555,434.3 555.3,434.3 555.6,434.3 555.8,434.3 556.1,434.3 556.4,434.3 556.6,434.4 556.9,434.4 557.1,434.4 557.4,434.4 557.7,434.4 557.9,434.4 558.2,434.4 558.5,434.4 558.7,434.4 559,434.4 559.3,434.4 559.5,434.5 559.8,434.5 560.1,434.5 560.3,434.5 560.6,434.5 560.8,434.5 561.1,434.5 561.4,434.5 561.6,434.5 561.9,434.5 562.2,434.5 562.4,434.5 562.7,434.5 563,434.5 563.2,434.5 563.5,434.5 563.8,434.5 564,434.5 564.3,434.5 564.5,434.5 564.8,434.5 565.1,434.5 565.3,434.5 565.6,434.5 565.9,434.5 566.1,434.5 566.4,434.5 566.7,434.5 566.9,434.5 567.2,434.5 567.4,434.5 567.7,434.5 568,434.5 568.2,434.5 568.5,434.5 568.8,434.5 569,434.5 569.3,434.5 569.6,434.5 569.8,434.5 570.1,434.5 570.4,434.5 570.6,434.5 570.9,434.5 571.1,434.5 571.4,434.5 571.7,434.5 571.9,434.5 572.2,434.5 572.5,434.5 572.7,434.5 573,434.5 573.3,434.5 573.5,434.5 573.8,434.5 574.1,434.5 574.3,434.5 574.6,434.5 574.8,434.5 575.1,434.5" fill="none" stroke="#ec3489" stroke-width="0.9" stroke-linejoin="round" opacity="1.0"/>
<line x1="62.2" y1="27.2" x2="92.6" y2="27.2" stroke="#05592f" stroke-width="1.6"/>
<line x1="62.2" y1="46.4" x2="92.6" y2="46.4" stroke="#ee8a2e" stroke-width="1.6"/>
<line x1="62.2" y1="64" x2="92.6" y2="64" stroke="#ec3489" stroke-width="1.6"/>
<line x1="62.2" y1="80.9" x2="92.6" y2="80.9" stroke="#2e1a17" stroke-width="1.6"/>
<text x="98.72" y="29.6" style="font-family:'Liberation Sans',sans-serif;font-style:normal;font-weight:normal;font-size:11px;fill:#231f20;stroke:#231f20;stroke-width:0.25px" >(</text>
<text x="102.01" y="29.6" style="font-family:'Liberation Serif',serif;font-style:italic;font-weight:normal;font-size:11.5px;fill:#231f20;stroke:#231f20;stroke-width:0.25px" >α</text>
<path d="M515 0L696 0L696 1409L530 1409Q420 1260 197 1180L197 1010Q400 1080 515 1237Z" transform="translate(109.12,33.4) scale(0.00317,-0.00317)" fill="#231f20" stroke="#231f20" stroke-width="0.25" vector-effect="non-scaling-stroke"/>
<text x="113.84" y="35" style="font-family:'Liberation Serif',serif;font-style:italic;font-weight:normal;font-size:7.5px;fill:#231f20;stroke:#231f20;stroke-width:0.25px" >x</text>
<text x="118.76" y="29.8" style="font-family:'Liberation Sans',sans-serif;font-style:normal;font-weight:normal;font-size:11px;fill:#231f20;stroke:#231f20;stroke-width:0.25px" >-</text>
<text x="122.44" y="29.6" style="font-family:'Liberation Serif',serif;font-style:italic;font-weight:normal;font-size:11.5px;fill:#231f20;stroke:#231f20;stroke-width:0.25px" >β</text>
<path d="M515 0L696 0L696 1409L530 1409Q420 1260 197 1180L197 1010Q400 1080 515 1237Z" transform="translate(129.32,33.4) scale(0.00317,-0.00317)" fill="#231f20" stroke="#231f20" stroke-width="0.25" vector-effect="non-scaling-stroke"/>
<text x="133.74" y="35" style="font-family:'Liberation Serif',serif;font-style:italic;font-weight:normal;font-size:7.5px;fill:#231f20;stroke:#231f20;stroke-width:0.25px" >x</text>
<text x="137.79" y="29.6" style="font-family:'Liberation Sans',sans-serif;font-style:normal;font-weight:normal;font-size:11px;fill:#231f20;stroke:#231f20;stroke-width:0.25px" >)</text>
<text x="141.05" y="29.6" style="font-family:'Liberation Sans',sans-serif;font-style:normal;font-weight:normal;font-size:11px;fill:#231f20;stroke:#231f20;stroke-width:0.25px" >/</text>
<text x="144.85" y="30" style="font-family:'Liberation Sans',sans-serif;font-style:normal;font-weight:normal;font-size:12px;fill:#231f20;stroke:#231f20;stroke-width:0.25px" >√</text>
<text x="150.4" y="29.6" style="font-family:'Liberation Sans',sans-serif;font-style:normal;font-weight:normal;font-size:11px;fill:#231f20;stroke:#231f20;stroke-width:0.25px" >2</text>
<text x="159.6" y="29.6" text-anchor="start" style="font-family:'Liberation Sans',sans-serif;font-style:normal;font-weight:normal;font-size:11.4px;fill:#231f20;stroke:#231f20;stroke-width:0.25px" >with modulation</text>
<text x="98.72" y="48.8" style="font-family:'Liberation Sans',sans-serif;font-style:normal;font-weight:normal;font-size:11px;fill:#231f20;stroke:#231f20;stroke-width:0.25px" >(</text>
<text x="102.01" y="48.8" style="font-family:'Liberation Serif',serif;font-style:italic;font-weight:normal;font-size:11.5px;fill:#231f20;stroke:#231f20;stroke-width:0.25px" >α</text>
<path d="M515 0L696 0L696 1409L530 1409Q420 1260 197 1180L197 1010Q400 1080 515 1237Z" transform="translate(109.12,52.6) scale(0.00317,-0.00317)" fill="#231f20" stroke="#231f20" stroke-width="0.25" vector-effect="non-scaling-stroke"/>
<text x="113.84" y="54.2" style="font-family:'Liberation Serif',serif;font-style:italic;font-weight:normal;font-size:7.5px;fill:#231f20;stroke:#231f20;stroke-width:0.25px" >x</text>
<text x="118.76" y="49" style="font-family:'Liberation Sans',sans-serif;font-style:normal;font-weight:normal;font-size:11px;fill:#231f20;stroke:#231f20;stroke-width:0.25px" >-</text>
<text x="122.44" y="48.8" style="font-family:'Liberation Serif',serif;font-style:italic;font-weight:normal;font-size:11.5px;fill:#231f20;stroke:#231f20;stroke-width:0.25px" >β</text>
<path d="M515 0L696 0L696 1409L530 1409Q420 1260 197 1180L197 1010Q400 1080 515 1237Z" transform="translate(129.32,52.6) scale(0.00317,-0.00317)" fill="#231f20" stroke="#231f20" stroke-width="0.25" vector-effect="non-scaling-stroke"/>
<text x="133.74" y="54.2" style="font-family:'Liberation Serif',serif;font-style:italic;font-weight:normal;font-size:7.5px;fill:#231f20;stroke:#231f20;stroke-width:0.25px" >x</text>
<text x="137.79" y="48.8" style="font-family:'Liberation Sans',sans-serif;font-style:normal;font-weight:normal;font-size:11px;fill:#231f20;stroke:#231f20;stroke-width:0.25px" >)</text>
<text x="141.05" y="48.8" style="font-family:'Liberation Sans',sans-serif;font-style:normal;font-weight:normal;font-size:11px;fill:#231f20;stroke:#231f20;stroke-width:0.25px" >/</text>
<text x="144.85" y="49.2" style="font-family:'Liberation Sans',sans-serif;font-style:normal;font-weight:normal;font-size:12px;fill:#231f20;stroke:#231f20;stroke-width:0.25px" >√</text>
<text x="150.4" y="48.8" style="font-family:'Liberation Sans',sans-serif;font-style:normal;font-weight:normal;font-size:11px;fill:#231f20;stroke:#231f20;stroke-width:0.25px" >2</text>
<text x="159.6" y="48.8" text-anchor="start" style="font-family:'Liberation Sans',sans-serif;font-style:normal;font-weight:normal;font-size:11.4px;fill:#231f20;stroke:#231f20;stroke-width:0.25px" >without modulation</text>
<text x="98.8" y="67.7" text-anchor="start" style="font-family:'Liberation Sans',sans-serif;font-style:normal;font-weight:normal;font-size:11.4px;fill:#231f20;stroke:#231f20;stroke-width:0.25px" >Gaussian fit</text>
<text x="98.8" y="85.6" text-anchor="start" style="font-family:'Liberation Sans',sans-serif;font-style:normal;font-weight:normal;font-size:11.4px;fill:#231f20;stroke:#231f20;stroke-width:0.25px" >SNL</text>
<line x1="373" y1="34.65" x2="403.2" y2="34.65" stroke="#263f70" stroke-width="1.6"/>
<line x1="373" y1="53.7" x2="403.2" y2="53.7" stroke="#ee8a2e" stroke-width="1.6"/>
<line x1="373" y1="71.9" x2="403.2" y2="71.9" stroke="#ec3489" stroke-width="1.6"/>
<line x1="373" y1="88.7" x2="403.2" y2="88.7" stroke="#2e1a17" stroke-width="1.6"/>
<text x="408.47" y="37.5" style="font-family:'Liberation Sans',sans-serif;font-style:normal;font-weight:normal;font-size:11px;fill:#231f20;stroke:#231f20;stroke-width:0.25px" >(</text>
<text x="412.11" y="37.5" style="font-family:'Liberation Serif',serif;font-style:italic;font-weight:normal;font-size:11.5px;fill:#231f20;stroke:#231f20;stroke-width:0.25px" >α</text>
<path d="M515 0L696 0L696 1409L530 1409Q420 1260 197 1180L197 1010Q400 1080 515 1237Z" transform="translate(419.42,41.3) scale(0.00317,-0.00317)" fill="#231f20" stroke="#231f20" stroke-width="0.25" vector-effect="non-scaling-stroke"/>
<text x="423.49" y="42.9" style="font-family:'Liberation Serif',serif;font-style:italic;font-weight:normal;font-size:7.5px;fill:#231f20;stroke:#231f20;stroke-width:0.25px" >p</text>
<text x="427.71" y="38.5" style="font-family:'Liberation Sans',sans-serif;font-style:normal;font-weight:normal;font-size:11px;fill:#231f20;stroke:#231f20;stroke-width:0.25px" >+</text>
<text x="433.54" y="37.5" style="font-family:'Liberation Serif',serif;font-style:italic;font-weight:normal;font-size:11.5px;fill:#231f20;stroke:#231f20;stroke-width:0.25px" >β</text>
<path d="M515 0L696 0L696 1409L530 1409Q420 1260 197 1180L197 1010Q400 1080 515 1237Z" transform="translate(440.52,41.3) scale(0.00317,-0.00317)" fill="#231f20" stroke="#231f20" stroke-width="0.25" vector-effect="non-scaling-stroke"/>
<text x="444.99" y="42.9" style="font-family:'Liberation Serif',serif;font-style:italic;font-weight:normal;font-size:7.5px;fill:#231f20;stroke:#231f20;stroke-width:0.25px" >p</text>
<text x="449.09" y="37.5" style="font-family:'Liberation Sans',sans-serif;font-style:normal;font-weight:normal;font-size:11px;fill:#231f20;stroke:#231f20;stroke-width:0.25px" >)</text>
<text x="452.35" y="37.5" style="font-family:'Liberation Sans',sans-serif;font-style:normal;font-weight:normal;font-size:11px;fill:#231f20;stroke:#231f20;stroke-width:0.25px" >/</text>
<text x="456.05" y="37.9" style="font-family:'Liberation Sans',sans-serif;font-style:normal;font-weight:normal;font-size:12px;fill:#231f20;stroke:#231f20;stroke-width:0.25px" >√</text>
<text x="461.5" y="37.5" style="font-family:'Liberation Sans',sans-serif;font-style:normal;font-weight:normal;font-size:11px;fill:#231f20;stroke:#231f20;stroke-width:0.25px" >2</text>
<text x="470.6" y="37.5" text-anchor="start" style="font-family:'Liberation Sans',sans-serif;font-style:normal;font-weight:normal;font-size:11.4px;fill:#231f20;stroke:#231f20;stroke-width:0.25px" >with modulation</text>
<text x="408.47" y="56.55" style="font-family:'Liberation Sans',sans-serif;font-style:normal;font-weight:normal;font-size:11px;fill:#231f20;stroke:#231f20;stroke-width:0.25px" >(</text>
<text x="412.11" y="56.55" style="font-family:'Liberation Serif',serif;font-style:italic;font-weight:normal;font-size:11.5px;fill:#231f20;stroke:#231f20;stroke-width:0.25px" >α</text>
<path d="M515 0L696 0L696 1409L530 1409Q420 1260 197 1180L197 1010Q400 1080 515 1237Z" transform="translate(419.42,60.35) scale(0.00317,-0.00317)" fill="#231f20" stroke="#231f20" stroke-width="0.25" vector-effect="non-scaling-stroke"/>
<text x="423.49" y="61.95" style="font-family:'Liberation Serif',serif;font-style:italic;font-weight:normal;font-size:7.5px;fill:#231f20;stroke:#231f20;stroke-width:0.25px" >p</text>
<text x="427.71" y="57.55" style="font-family:'Liberation Sans',sans-serif;font-style:normal;font-weight:normal;font-size:11px;fill:#231f20;stroke:#231f20;stroke-width:0.25px" >+</text>
<text x="433.54" y="56.55" style="font-family:'Liberation Serif',serif;font-style:italic;font-weight:normal;font-size:11.5px;fill:#231f20;stroke:#231f20;stroke-width:0.25px" >β</text>
<path d="M515 0L696 0L696 1409L530 1409Q420 1260 197 1180L197 1010Q400 1080 515 1237Z" transform="translate(440.52,60.35) scale(0.00317,-0.00317)" fill="#231f20" stroke="#231f20" stroke-width="0.25" vector-effect="non-scaling-stroke"/>
<text x="444.99" y="61.95" style="font-family:'Liberation Serif',serif;font-style:italic;font-weight:normal;font-size:7.5px;fill:#231f20;stroke:#231f20;stroke-width:0.25px" >p</text>
<text x="449.09" y="56.55" style="font-family:'Liberation Sans',sans-serif;font-style:normal;font-weight:normal;font-size:11px;fill:#231f20;stroke:#231f20;stroke-width:0.25px" >)</text>
<text x="452.35" y="56.55" style="font-family:'Liberation Sans',sans-serif;font-style:normal;font-weight:normal;font-size:11px;fill:#231f20;stroke:#231f20;stroke-width:0.25px" >/</text>
<text x="456.05" y="56.95" style="font-family:'Liberation Sans',sans-serif;font-style:normal;font-weight:normal;font-size:12px;fill:#231f20;stroke:#231f20;stroke-width:0.25px" >√</text>
<text x="461.5" y="56.55" style="font-family:'Liberation Sans',sans-serif;font-style:normal;font-weight:normal;font-size:11px;fill:#231f20;stroke:#231f20;stroke-width:0.25px" >2</text>
<text x="470.6" y="56.55" text-anchor="start" style="font-family:'Liberation Sans',sans-serif;font-style:normal;font-weight:normal;font-size:11.4px;fill:#231f20;stroke:#231f20;stroke-width:0.25px" >without modulation</text>
<text x="408.8" y="75.6" text-anchor="start" style="font-family:'Liberation Sans',sans-serif;font-style:normal;font-weight:normal;font-size:11.4px;fill:#231f20;stroke:#231f20;stroke-width:0.25px" >Gaussian fit</text>
<text x="408.8" y="93.4" text-anchor="start" style="font-family:'Liberation Sans',sans-serif;font-style:normal;font-weight:normal;font-size:11.4px;fill:#231f20;stroke:#231f20;stroke-width:0.25px" >SNL</text>
<line x1="58.1" y1="297.7" x2="88.8" y2="297.7" stroke="#263f70" stroke-width="1.6"/>
<line x1="58.1" y1="316.5" x2="88.8" y2="316.5" stroke="#ee8a2e" stroke-width="1.6"/>
<line x1="58.1" y1="333.6" x2="88.8" y2="333.6" stroke="#ec3489" stroke-width="1.6"/>
<line x1="58.1" y1="349.8" x2="88.8" y2="349.8" stroke="#c51b35" stroke-width="1.6"/>
<line x1="58.1" y1="365.9" x2="88.8" y2="365.9" stroke="#2e1a17" stroke-width="1.6"/>
<text x="96.66" y="301.8" style="font-family:'Liberation Sans',sans-serif;font-style:italic;font-weight:normal;font-size:11px;fill:#3b5a22;stroke:#3b5a22;stroke-width:0.25px" >X</text>
<polyline points="97.8,293.6 100.7,288.6 103.6,293.6" fill="none" stroke="#3b5a22" stroke-width="0.75"/>
<text x="103.36" y="304.3" style="font-family:'Liberation Sans',sans-serif;font-style:normal;font-weight:normal;font-size:6.8px;fill:#5e3f45;stroke:#5e3f45;stroke-width:0.25px" >a</text>
<polyline points="103.9,298.8 105.4,296.5 106.9,298.8" fill="none" stroke="#5e3f45" stroke-width="0.5"/>
<text x="106.72" y="305.5" style="font-family:'Liberation Sans',sans-serif;font-style:normal;font-weight:normal;font-size:6.0px;fill:#5e3f45;stroke:#5e3f45;stroke-width:0.25px" >3</text>
<line x1="110" y1="298.8" x2="116.5" y2="298.8" stroke="#7d8f6a" stroke-width="1"/>
<text x="117.96" y="301.8" style="font-family:'Liberation Sans',sans-serif;font-style:italic;font-weight:normal;font-size:11px;fill:#3b5a22;stroke:#3b5a22;stroke-width:0.25px" >X</text>
<polyline points="119.1,293.6 122,288.6 124.9,293.6" fill="none" stroke="#3b5a22" stroke-width="0.75"/>
<text x="124.61" y="303.6" style="font-family:'Liberation Sans',sans-serif;font-style:normal;font-weight:normal;font-size:6.8px;fill:#5e3f45;stroke:#5e3f45;stroke-width:0.25px" >b</text>
<polyline points="125.3,296.8 126.7,294.8 128.1,296.8" fill="none" stroke="#5e3f45" stroke-width="0.5"/>
<text x="128.62" y="305.7" style="font-family:'Liberation Sans',sans-serif;font-style:normal;font-weight:normal;font-size:6.0px;fill:#5e3f45;stroke:#5e3f45;stroke-width:0.25px" >3</text>
<text x="132" y="301.8" text-anchor="start" style="font-family:'Liberation Sans',sans-serif;font-style:normal;font-weight:normal;font-size:11.4px;fill:#231f20;stroke:#231f20;stroke-width:0.25px" >with modulation</text>
<text x="96.66" y="320.6" style="font-family:'Liberation Sans',sans-serif;font-style:italic;font-weight:normal;font-size:11px;fill:#3b5a22;stroke:#3b5a22;stroke-width:0.25px" >X</text>
<polyline points="97.8,312.4 100.7,307.4 103.6,312.4" fill="none" stroke="#3b5a22" stroke-width="0.75"/>
<text x="103.36" y="323.1" style="font-family:'Liberation Sans',sans-serif;font-style:normal;font-weight:normal;font-size:6.8px;fill:#5e3f45;stroke:#5e3f45;stroke-width:0.25px" >a</text>
<polyline points="103.9,317.6 105.4,315.3 106.9,317.6" fill="none" stroke="#5e3f45" stroke-width="0.5"/>
<text x="106.72" y="324.3" style="font-family:'Liberation Sans',sans-serif;font-style:normal;font-weight:normal;font-size:6.0px;fill:#5e3f45;stroke:#5e3f45;stroke-width:0.25px" >3</text>
<line x1="110" y1="317.6" x2="116.5" y2="317.6" stroke="#7d8f6a" stroke-width="1"/>
<text x="117.96" y="320.6" style="font-family:'Liberation Sans',sans-serif;font-style:italic;font-weight:normal;font-size:11px;fill:#3b5a22;stroke:#3b5a22;stroke-width:0.25px" >X</text>
<polyline points="119.1,312.4 122,307.4 124.9,312.4" fill="none" stroke="#3b5a22" stroke-width="0.75"/>
<text x="124.61" y="322.4" style="font-family:'Liberation Sans',sans-serif;font-style:normal;font-weight:normal;font-size:6.8px;fill:#5e3f45;stroke:#5e3f45;stroke-width:0.25px" >b</text>
<polyline points="125.3,315.6 126.7,313.6 128.1,315.6" fill="none" stroke="#5e3f45" stroke-width="0.5"/>
<text x="128.62" y="324.5" style="font-family:'Liberation Sans',sans-serif;font-style:normal;font-weight:normal;font-size:6.0px;fill:#5e3f45;stroke:#5e3f45;stroke-width:0.25px" >3</text>
<text x="132" y="320.6" text-anchor="start" style="font-family:'Liberation Sans',sans-serif;font-style:normal;font-weight:normal;font-size:11.4px;fill:#231f20;stroke:#231f20;stroke-width:0.25px" >without modulation</text>
<text x="95" y="337.5" text-anchor="start" style="font-family:'Liberation Sans',sans-serif;font-style:normal;font-weight:normal;font-size:11.4px;fill:#231f20;stroke:#231f20;stroke-width:0.25px" >Gaussian fit</text>
<text x="95" y="353.7" text-anchor="start" style="font-family:'Liberation Sans',sans-serif;font-style:normal;font-weight:normal;font-size:11.4px;fill:#231f20;stroke:#231f20;stroke-width:0.25px" >Attack SNL</text>
<text x="95" y="370" text-anchor="start" style="font-family:'Liberation Sans',sans-serif;font-style:normal;font-weight:normal;font-size:11.4px;fill:#231f20;stroke:#231f20;stroke-width:0.25px" >SNL</text>
<line x1="370.2" y1="298.1" x2="399.4" y2="298.1" stroke="#263f70" stroke-width="1.6"/>
<line x1="370.2" y1="317.1" x2="399.4" y2="317.1" stroke="#ee8a2e" stroke-width="1.6"/>
<line x1="370.2" y1="334.6" x2="399.4" y2="334.6" stroke="#ec3489" stroke-width="1.6"/>
<line x1="370.2" y1="349.8" x2="399.4" y2="349.8" stroke="#c51b35" stroke-width="1.6"/>
<line x1="370.2" y1="366.8" x2="399.4" y2="366.8" stroke="#2e1a17" stroke-width="1.6"/>
<text x="407.23" y="303.1" style="font-family:'Liberation Sans',sans-serif;font-style:italic;font-weight:normal;font-size:10.5px;fill:#3b5a22;stroke:#3b5a22;stroke-width:0.25px" >P</text>
<polyline points="408.9,294.9 411.8,289.5 414.7,294.9" fill="none" stroke="#3b5a22" stroke-width="0.75"/>
<text x="414.26" y="304.8" style="font-family:'Liberation Sans',sans-serif;font-style:normal;font-weight:normal;font-size:6.8px;fill:#5e3f45;stroke:#5e3f45;stroke-width:0.25px" >a</text>
<polyline points="414.8,299.3 416.3,297 417.8,299.3" fill="none" stroke="#5e3f45" stroke-width="0.5"/>
<text x="417.91" y="306" style="font-family:'Liberation Sans',sans-serif;font-style:normal;font-weight:normal;font-size:6.0px;fill:#5e3f45;stroke:#5e3f45;stroke-width:0.25px" >4</text>
<text x="421.66" y="303.2" style="font-family:'Liberation Sans',sans-serif;font-style:normal;font-weight:normal;font-size:10px;fill:#3b5a22;stroke:#3b5a22;stroke-width:0.25px" >+</text>
<text x="428.83" y="303.1" style="font-family:'Liberation Sans',sans-serif;font-style:italic;font-weight:normal;font-size:10.5px;fill:#3b5a22;stroke:#3b5a22;stroke-width:0.25px" >P</text>
<polyline points="430.5,294.9 433.4,289.5 436.3,294.9" fill="none" stroke="#3b5a22" stroke-width="0.75"/>
<text x="436.01" y="304.1" style="font-family:'Liberation Sans',sans-serif;font-style:normal;font-weight:normal;font-size:6.8px;fill:#5e3f45;stroke:#5e3f45;stroke-width:0.25px" >b</text>
<polyline points="436.7,297.3 438.1,295.3 439.5,297.3" fill="none" stroke="#5e3f45" stroke-width="0.5"/>
<text x="440.11" y="306.2" style="font-family:'Liberation Sans',sans-serif;font-style:normal;font-weight:normal;font-size:6.0px;fill:#5e3f45;stroke:#5e3f45;stroke-width:0.25px" >4</text>
<text x="442.5" y="302.3" text-anchor="start" style="font-family:'Liberation Sans',sans-serif;font-style:normal;font-weight:normal;font-size:11.4px;fill:#231f20;stroke:#231f20;stroke-width:0.25px" >with modulation</text>
<text x="407.23" y="322.1" style="font-family:'Liberation Sans',sans-serif;font-style:italic;font-weight:normal;font-size:10.5px;fill:#3b5a22;stroke:#3b5a22;stroke-width:0.25px" >P</text>
<polyline points="408.9,313.9 411.8,308.5 414.7,313.9" fill="none" stroke="#3b5a22" stroke-width="0.75"/>
<text x="414.26" y="323.8" style="font-family:'Liberation Sans',sans-serif;font-style:normal;font-weight:normal;font-size:6.8px;fill:#5e3f45;stroke:#5e3f45;stroke-width:0.25px" >a</text>
<polyline points="414.8,318.3 416.3,316 417.8,318.3" fill="none" stroke="#5e3f45" stroke-width="0.5"/>
<text x="417.91" y="325" style="font-family:'Liberation Sans',sans-serif;font-style:normal;font-weight:normal;font-size:6.0px;fill:#5e3f45;stroke:#5e3f45;stroke-width:0.25px" >4</text>
<text x="421.66" y="322.2" style="font-family:'Liberation Sans',sans-serif;font-style:normal;font-weight:normal;font-size:10px;fill:#3b5a22;stroke:#3b5a22;stroke-width:0.25px" >+</text>
<text x="428.83" y="322.1" style="font-family:'Liberation Sans',sans-serif;font-style:italic;font-weight:normal;font-size:10.5px;fill:#3b5a22;stroke:#3b5a22;stroke-width:0.25px" >P</text>
<polyline points="430.5,313.9 433.4,308.5 436.3,313.9" fill="none" stroke="#3b5a22" stroke-width="0.75"/>
<text x="436.01" y="323.1" style="font-family:'Liberation Sans',sans-serif;font-style:normal;font-weight:normal;font-size:6.8px;fill:#5e3f45;stroke:#5e3f45;stroke-width:0.25px" >b</text>
<polyline points="436.7,316.3 438.1,314.3 439.5,316.3" fill="none" stroke="#5e3f45" stroke-width="0.5"/>
<text x="440.11" y="325.2" style="font-family:'Liberation Sans',sans-serif;font-style:normal;font-weight:normal;font-size:6.0px;fill:#5e3f45;stroke:#5e3f45;stroke-width:0.25px" >4</text>
<text x="442.5" y="321.3" text-anchor="start" style="font-family:'Liberation Sans',sans-serif;font-style:normal;font-weight:normal;font-size:11.4px;fill:#231f20;stroke:#231f20;stroke-width:0.25px" >without modulation</text>
<text x="406.3" y="338.5" text-anchor="start" style="font-family:'Liberation Sans',sans-serif;font-style:normal;font-weight:normal;font-size:11.4px;fill:#231f20;stroke:#231f20;stroke-width:0.25px" >Gaussian fit</text>
<text x="406.3" y="353.7" text-anchor="start" style="font-family:'Liberation Sans',sans-serif;font-style:normal;font-weight:normal;font-size:11.4px;fill:#231f20;stroke:#231f20;stroke-width:0.25px" >Attack SNL</text>
<text x="406.3" y="370.9" text-anchor="start" style="font-family:'Liberation Sans',sans-serif;font-style:normal;font-weight:normal;font-size:11.4px;fill:#231f20;stroke:#231f20;stroke-width:0.25px" >SNL</text>
<text x="596.3" y="99" text-anchor="start" style="font-family:'Liberation Sans',sans-serif;font-style:normal;font-weight:normal;font-size:13.2px;fill:#231f20;stroke:#231f20;stroke-width:0.25px" word-spacing="0.6">Measurement</text>
<text x="596.3" y="110.7" text-anchor="start" style="font-family:'Liberation Sans',sans-serif;font-style:normal;font-weight:normal;font-size:13.2px;fill:#231f20;stroke:#231f20;stroke-width:0.25px" word-spacing="0.6">of Alice and</text>
<text x="596.3" y="122.4" text-anchor="start" style="font-family:'Liberation Sans',sans-serif;font-style:normal;font-weight:normal;font-size:13.2px;fill:#231f20;stroke:#231f20;stroke-width:0.25px" word-spacing="0.6">Cindy</text>
<text x="592.6" y="374.8" text-anchor="start" style="font-family:'Liberation Sans',sans-serif;font-style:normal;font-weight:normal;font-size:13.2px;fill:#231f20;stroke:#231f20;stroke-width:0.25px" word-spacing="0.6">Measurement</text>
<text x="592.6" y="386.5" text-anchor="start" style="font-family:'Liberation Sans',sans-serif;font-style:normal;font-weight:normal;font-size:13.2px;fill:#231f20;stroke:#231f20;stroke-width:0.25px" word-spacing="0.6">of Eve</text>
</svg></body></html>
